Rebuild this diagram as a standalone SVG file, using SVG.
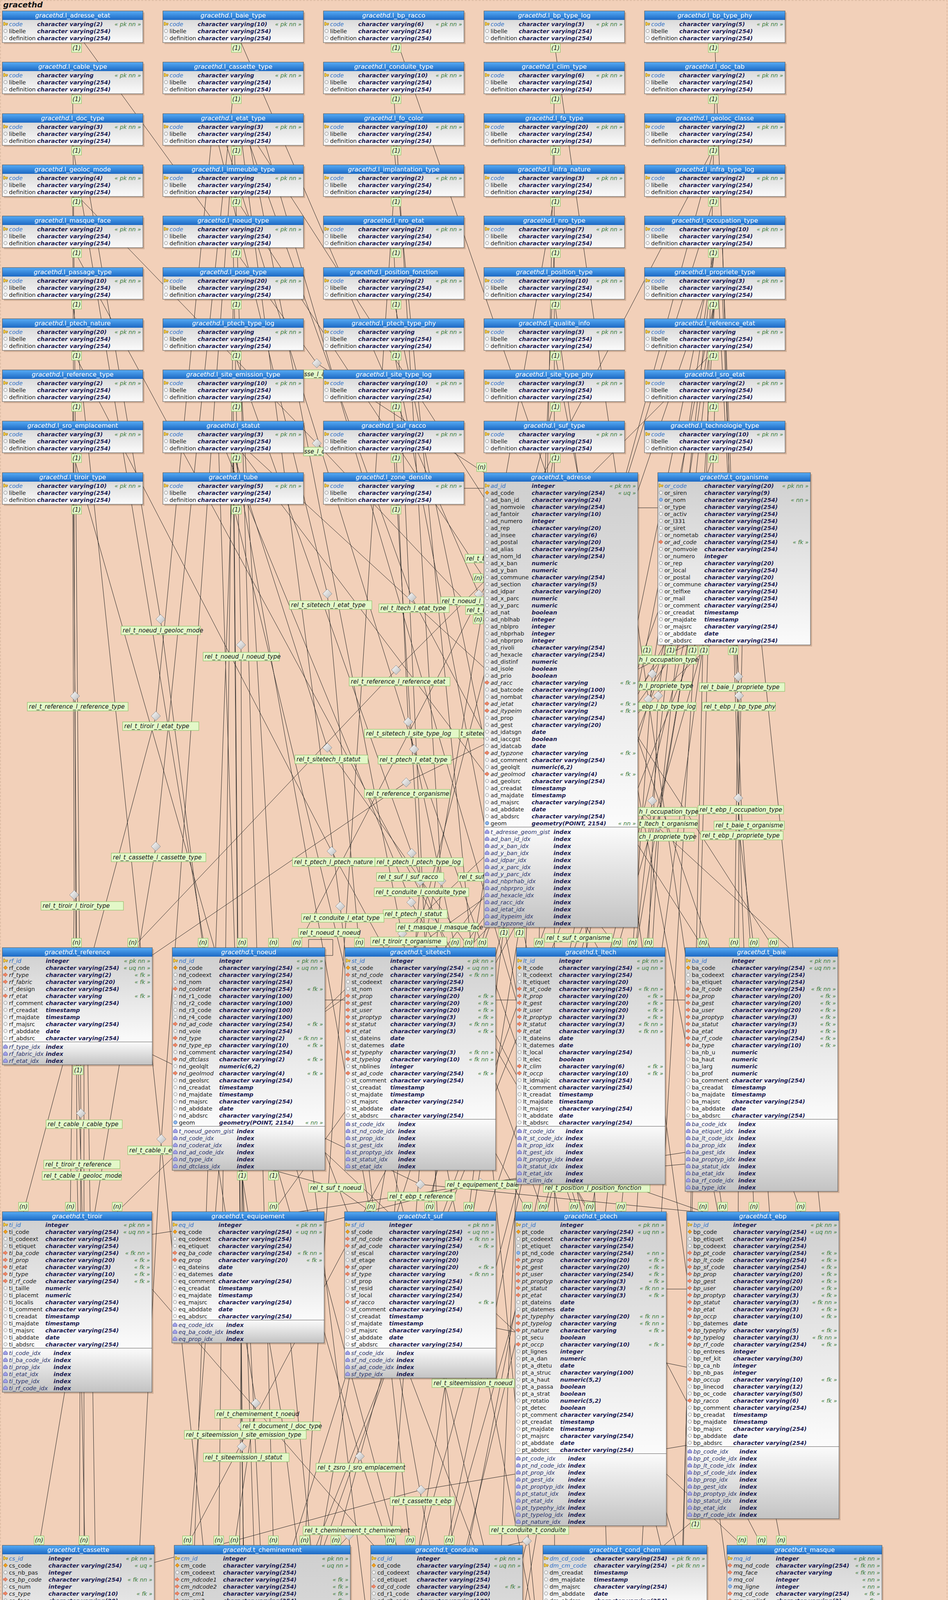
<svg xmlns="http://www.w3.org/2000/svg" width="2427" height="7299" viewBox="0 0 2427 7299">
<defs>
<style>
text{font-family:"DejaVu Sans","Liberation Sans",sans-serif;font-size:14.5px;fill:#151515}
.T{font-size:16px;fill:#fff;text-anchor:middle}
.s,.p,.f,.g,.x,.y,.L{font-style:italic}
.p{fill:#2b6cc4}
.y{font-weight:bold;fill:#1c1c52}
.g{fill:#3a7b3a;text-anchor:end}
.x{fill:#283068}
.L{font-size:15px}
.c{text-anchor:middle}
.sh{fill:#5a3a20;opacity:.22}
.bd{fill:url(#gb)}
.ix{fill:url(#gi)}
.hd{fill:url(#gh)}
.ol{fill:none;stroke:#4a4a4a}
.sp{fill:none;stroke:#5a5a5a}
#connectors path{fill:none;stroke:#202020;stroke-width:1}
.lb{fill:#e3f8c8;stroke:#7db95a}
</style>
<linearGradient id="gh" x2="0" y2="1"><stop offset="0" stop-color="#56abf5"/><stop offset="1" stop-color="#1c69c4"/></linearGradient>
<linearGradient id="gb" x2="0" y2="1"><stop offset="0" stop-color="#cecece"/><stop offset="1" stop-color="#fbfbfb"/></linearGradient>
<linearGradient id="gi" x2="0" y2="1"><stop offset="0" stop-color="#fbfbfb"/><stop offset="1" stop-color="#c3c3c3"/></linearGradient>
<linearGradient id="gd" x2="1" y2="1"><stop offset="0" stop-color="#fdfdfd"/><stop offset="1" stop-color="#b8b8b8"/></linearGradient>
<pattern id="po" patternUnits="userSpaceOnUse" y="24.3" width="16" height="18"><circle cx="8" cy="9" r="4.3" fill="#f6f6f6" stroke="#7a7a7a"/></pattern>
<pattern id="pi" patternUnits="userSpaceOnUse" y="10.3" width="16" height="18"><path d="M8 3.8l5 4.4v5.2h-10v-5.2z" fill="#a3a3ea" stroke="#4b4ba3"/></pattern>
<g id="k"><circle cx="8" r="5.6" fill="#dedede"/><path d="M3 -4.5h3l2 2.5h5.5v3.4h-1.6v2.1h-2v-2.1h-1.9l-2 2.6h-3z" fill="#f2c53e" stroke="#8a6a0e" stroke-width=".8"/></g>
<g id="u"><circle cx="8" r="5.6" fill="#dedede"/><path d="M8 -5.2l5.2 5.2l-5.2 5.2l-5.2-5.2z" fill="#f2a01c" stroke="#93580a" stroke-width=".8"/></g>
<g id="f"><circle cx="8" r="5.6" fill="#dedede"/><path d="M2.8 -2.2h4.4v-3.2l6 5.4l-6 5.4v-3.2h-4.4z" fill="#f28a66" stroke="#c1452a" stroke-width=".8"/></g>
<g id="n"><circle cx="8" r="5.6" fill="#dedede"/><circle cx="8" r="4.3" fill="#8cb6ee" stroke="#3c6cb0"/></g>
<circle id="o" cx="8" r="4.3" fill="#f6f6f6" stroke="#7a7a7a"/>
<g id="S"><rect class="sh" x="4" y="4" width="360" height="81"/><rect class="bd" width="360" height="81"/><rect class="hd" width="360" height="23"/><use href="#k" y="33.3"/><use href="#o" y="51.3"/><use href="#o" y="69.3"/><rect class="ol" width="360" height="81"/></g>
<path id="dm" d="M0 -12l12 12l-12 12l-12 -12z" fill="url(#gd)" stroke="#8a8a8a"/>
<rect id="b" x="-12.5" width="25" height="22" class="lb"/>
</defs>
<rect width="2427" height="7299" fill="#f2d0b9"/>
<rect x="1.5" y="1.5" width="2423" height="7295" fill="none" stroke="#c9a98f" stroke-dasharray="5 4"/>
<text x="8" y="19" style="font-size:20px;font-weight:bold;font-style:italic">gracethd</text>
<g id="connectors">
<path d="M215 109L811 930L1240 1210"/><path d="M200 503L811 1135L1239 1590"/><path d="M600 503L1239 1480"/><path d="M1188 1250H1239"/><path d="M1633 1300H1684"/>
<path d="M186 1028L192 1782L196 2426"/><path d="M1830 897L1014 1715L340 2426"/><path d="M1760 1651L1040 2003L390 2445"/><path d="M230 503L411 1585L520 2426"/><path d="M597 634L617 1651L620 2426"/><path d="M1830 372L760 2426"/><path d="M1239 2300L832 2590"/><path d="M790 2426V2405H852V2446H832"/><path d="M620 1028L700 2426"/>
<path d="M560 372L838 1520L920 2426"/><path d="M1008 1028L1045 1848L1165 2426"/><path d="M597 1159L838 1914L1200 2426"/><path d="M1419 1028L1060 2426"/><path d="M1800 766L1235 2426"/><path d="M1720 1651L1140 2426"/><path d="M832 2560H883"/><path d="M1250 2374L1200 2426"/>
<path d="M1269 2560H1322"/><path d="M1419 240L1380 2426"/><path d="M1830 634L1670 1725L1620 2426"/><path d="M1830 766L1685 1781L1660 2426"/><path d="M640 372L1054 1529L1530 2426"/><path d="M620 1159L1580 2426"/><path d="M1800 1651L1695 2426"/>
<path d="M1703 2560H1754"/><path d="M617 109L1226 1521L1800 2426"/><path d="M1840 766L1890 1732L1880 2426"/><path d="M1900 1651L1890 2110L1930 2426"/><path d="M660 372L1980 2426"/><path d="M640 1159L2020 2426"/>
<path d="M540 372L399 1833L60 3102"/><path d="M186 1291L190 2291L180 3102"/><path d="M200 2726L207 2979L210 3102"/><path d="M1820 1651L1030 2390L300 3102"/><path d="M1754 2950L389 3160"/><path d="M1754 2980L1230 3028L830 3130"/><path d="M1740 1651L700 3102"/>
<path d="M700 2996L860 3040L950 3102"/><path d="M1008 1159L1076 2256L1010 3102"/><path d="M1419 1159L1100 3102"/><path d="M1290 2374L1200 3102"/><path d="M1780 1651L1480 2400L1250 3102"/>
<path d="M186 897L849 2179L1350 3102"/><path d="M597 897L1054 2184L1390 3102"/><path d="M1008 897L1430 3102"/><path d="M580 372L1060 1918L1470 3102"/><path d="M580 1159L1053 2310L1510 3102"/><path d="M1830 634L1670 2050L1550 3102"/><path d="M1830 766L1685 2115L1590 3102"/><path d="M1760 1651L1690 2080L1630 3102"/>
<path d="M1706 3300H1758"/><path d="M1600 3032L1800 3102"/><path d="M1270 3400L1758 3500"/><path d="M1419 109L1660 1790L1850 3102"/><path d="M1830 109L1892 1781L1890 3102"/><path d="M1850 634L1890 2043L1930 3102"/><path d="M1850 766L1900 2120L1970 3102"/><path d="M390 2700L1076 3032L1780 3102"/><path d="M1018 109L2050 3102"/><path d="M1950 1651L2100 3102"/>
<path d="M597 240L399 2167L100 3956"/><path d="M1758 3700L1078 3814L395 4000"/><path d="M215 2726V3956"/><path d="M560 2996L655 3592L600 3956"/><path d="M870 3956L893 3931L897 3980"/><path d="M560 1159L650 3956"/><path d="M600 372L700 3956"/><path d="M1830 503L750 3956"/><path d="M1008 503L780 3956"/><path d="M1419 503L820 3956"/><path d="M597 766L560 3956"/><path d="M186 766L520 3956"/><path d="M1700 1651L480 3956"/><path d="M1830 372L860 3956"/>
<path d="M1008 240L1130 2255L1000 3956"/><path d="M620 372L871 2320L1050 3956"/><path d="M1300 3956L1349 3945L1338 3990"/><path d="M1800 1651L1150 3956"/><path d="M600 1159L1100 3956"/><path d="M1830 766L1200 3956"/><path d="M1338 4200L1410 4180L1500 4108"/><path d="M897 4300L1450 4108"/>
<path d="M832 2950L1900 3956"/><path d="M186 634L1110 2345L1950 3956"/><path d="M1338 4350L1602 4204L1861 4160"/><path d="M1419 897L2000 3956"/>
<path d="M186 240L207 2850L200 5046"/><path d="M597 372L413 2916L300 5046"/><path d="M186 503L197 2985L240 5046"/><path d="M1780 3888L420 5046"/><path d="M1720 1651L380 5046"/><path d="M1830 1159L440 5046"/><path d="M225 2726L260 5046"/>
<path d="M451 5120L540 5330L600 5198"/><path d="M1000 4670L700 5046"/><path d="M451 5250L688 5345L960 5150"/><path d="M800 2996L1050 5046"/><path d="M451 5350L902 5385L1387 5200"/><path d="M1419 372L1420 5046"/><path d="M1008 372L1460 5046"/><path d="M597 1291L1500 5046"/><path d="M640 372L1540 5046"/><path d="M1830 766L1580 5046"/>
<path d="M1773 5150H1824"/><path d="M1773 5250L1824 5280"/><path d="M395 4100L1110 4720L1850 5046"/><path d="M389 3300L1900 5046"/><path d="M1008 766L1470 3020L1950 5046"/><path d="M1419 766L2000 5046"/><path d="M680 372L2050 5046"/>
<path d="M1387 5470L891 5700L391 6030"/><path d="M597 1028L620 3650L640 6009"/><path d="M597 1159L619 3703L660 6009"/><path d="M620 2996L600 6009"/><path d="M1750 1651L700 6009"/><path d="M1330 2374L740 6009"/><path d="M1830 634L720 6009"/>
<path d="M700 2996L1000 6009"/><path d="M1419 634L1200 6009"/><path d="M1008 634L1250 6009"/><path d="M760 2996L1560 6009"/><path d="M186 1159L921 3728L1640 6009"/><path d="M1830 1028L1690 6009"/><path d="M1500 2374L1620 6009"/><path d="M832 2950L1410 4474L2080 6009"/><path d="M1894 6300H1945"/><path d="M1880 5544L2120 6009"/><path d="M1420 5490L1570 6009M1640 5490L1660 6009"/>
<path d="M560 2996L270 6720"/><path d="M1421 6560L951 6671L480 6893"/><path d="M1700 1651L330 6720"/><path d="M597 1159L400 6720"/><path d="M620 2996L800 6720"/><path d="M1760 1651L900 6720"/><path d="M757 6561V6720"/><path d="M898 6400L829 6720"/><path d="M186 372L720 3620L1100 6720"/><path d="M1446 6800H1497M1446 6830H1497"/><path d="M1830 240L1690 6720"/><path d="M1878 6880H1928"/>
<use href="#dm" x="811" y="930"/><use href="#dm" x="811" y="1135"/><use href="#dm" x="192" y="1782"/><use href="#dm" x="1014" y="1715"/><use href="#dm" x="1040" y="2003"/><use href="#dm" x="411" y="1585"/><use href="#dm" x="617" y="1651"/><use href="#dm" x="838" y="1520"/><use href="#dm" x="1045" y="1848"/><use href="#dm" x="838" y="1914"/><use href="#dm" x="1670" y="1725"/><use href="#dm" x="1685" y="1781"/><use href="#dm" x="1890" y="1732"/><use href="#dm" x="1890" y="2110"/><use href="#dm" x="399" y="1833"/><use href="#dm" x="190" y="2291"/><use href="#dm" x="207" y="2979"/><use href="#dm" x="1030" y="2390"/><use href="#dm" x="860" y="3040"/><use href="#dm" x="1076" y="2256"/><use href="#dm" x="1480" y="2400"/><use href="#dm" x="849" y="2179"/><use href="#dm" x="1054" y="2184"/><use href="#dm" x="1060" y="1918"/><use href="#dm" x="1053" y="2310"/><use href="#dm" x="1670" y="2050"/><use href="#dm" x="1685" y="2115"/><use href="#dm" x="1690" y="2080"/><use href="#dm" x="1660" y="1790"/><use href="#dm" x="1892" y="1781"/><use href="#dm" x="1890" y="2043"/><use href="#dm" x="1900" y="2120"/><use href="#dm" x="1076" y="3032"/><use href="#dm" x="399" y="2167"/><use href="#dm" x="1078" y="3814"/><use href="#dm" x="655" y="3592"/><use href="#dm" x="893" y="3931"/><use href="#dm" x="1130" y="2255"/><use href="#dm" x="871" y="2320"/><use href="#dm" x="1349" y="3945"/><use href="#dm" x="1410" y="4180"/><use href="#dm" x="1110" y="2345"/><use href="#dm" x="1602" y="4204"/><use href="#dm" x="207" y="2850"/><use href="#dm" x="413" y="2916"/><use href="#dm" x="197" y="2985"/><use href="#dm" x="540" y="5330"/><use href="#dm" x="688" y="5345"/><use href="#dm" x="902" y="5385"/><use href="#dm" x="1110" y="4720"/><use href="#dm" x="1470" y="3020"/><use href="#dm" x="891" y="5700"/><use href="#dm" x="620" y="3650"/><use href="#dm" x="619" y="3703"/><use href="#dm" x="921" y="3728"/><use href="#dm" x="1410" y="4474"/><use href="#dm" x="951" y="6671"/><use href="#dm" x="720" y="3620"/><use href="#dm" x="1230" y="3028"/><use href="#dm" x="1054" y="1529"/><use href="#dm" x="1226" y="1521"/>
<rect class="lb" x="777" y="947" width="51" height="22"/><rect class="lb" x="777" y="1145" width="51" height="22"/><rect class="lb" x="1191" y="1419" width="48" height="22"/><rect class="lb" x="1128" y="1528" width="111" height="22"/><rect class="lb" x="1192" y="1551" width="47" height="22"/><rect class="lb" x="970" y="1546" width="180" height="22"/><rect class="lb" x="70" y="1798" width="258" height="22"/><rect class="lb" x="894" y="1734" width="258" height="22"/><rect class="lb" x="933" y="2021" width="219" height="22"/><rect class="lb" x="310" y="1603" width="203" height="22"/><rect class="lb" x="520" y="1670" width="195" height="22"/><rect class="lb" x="764" y="2377" width="156" height="22"/><rect class="lb" x="741" y="1538" width="211" height="22"/><rect class="lb" x="933" y="1867" width="242" height="22"/><rect class="lb" x="1177" y="1867" width="62" height="22"/><rect class="lb" x="755" y="1933" width="187" height="22"/><rect class="lb" x="1633" y="1678" width="149" height="22"/><rect class="lb" x="1633" y="1745" width="137" height="22"/><rect class="lb" x="1790" y="1748" width="219" height="22"/><rect class="lb" x="1828" y="2102" width="180" height="22"/><rect class="lb" x="314" y="1848" width="195" height="22"/><rect class="lb" x="105" y="2308" width="211" height="22"/><rect class="lb" x="112" y="2970" width="195" height="22"/><rect class="lb" x="949" y="2399" width="195" height="22"/><rect class="lb" x="790" y="3030" width="141" height="22"/><rect class="lb" x="964" y="2234" width="172" height="22"/><rect class="lb" x="1173" y="2234" width="66" height="22"/><rect class="lb" x="1395" y="2390" width="172" height="22"/><rect class="lb" x="749" y="2196" width="211" height="22"/><rect class="lb" x="960" y="2196" width="226" height="22"/><rect class="lb" x="968" y="1934" width="187" height="22"/><rect class="lb" x="981" y="2329" width="164" height="22"/><rect class="lb" x="1633" y="2067" width="151" height="22"/><rect class="lb" x="1633" y="2131" width="144" height="22"/><rect class="lb" x="1633" y="2098" width="153" height="22"/><rect class="lb" x="1633" y="1798" width="149" height="22"/><rect class="lb" x="1798" y="1798" width="187" height="22"/><rect class="lb" x="1787" y="2062" width="219" height="22"/><rect class="lb" x="1794" y="2128" width="211" height="22"/><rect class="lb" x="993" y="3052" width="172" height="22"/><rect class="lb" x="1140" y="3022" width="187" height="22"/><rect class="lb" x="1106" y="3530" width="211" height="22"/><rect class="lb" x="285" y="2184" width="242" height="22"/><rect class="lb" x="999" y="3832" width="164" height="22"/><rect class="lb" x="550" y="3609" width="203" height="22"/><rect class="lb" x="776" y="3907" width="250" height="22"/><rect class="lb" x="958" y="2273" width="242" height="22"/><rect class="lb" x="772" y="2339" width="211" height="22"/><rect class="lb" x="1253" y="3906" width="203" height="22"/><rect class="lb" x="1338" y="4188" width="151" height="22"/><rect class="lb" x="1014" y="2363" width="211" height="22"/><rect class="lb" x="1509" y="4222" width="187" height="22"/><rect class="lb" x="118" y="2867" width="195" height="22"/><rect class="lb" x="327" y="2934" width="187" height="22"/><rect class="lb" x="108" y="2999" width="203" height="22"/><rect class="lb" x="383" y="5329" width="180" height="22"/><rect class="lb" x="622" y="5342" width="148" height="22"/><rect class="lb" x="836" y="5401" width="156" height="22"/><rect class="lb" x="1017" y="4731" width="203" height="22"/><rect class="lb" x="1391" y="3030" width="273" height="22"/><rect class="lb" x="825" y="5716" width="148" height="22"/><rect class="lb" x="472" y="3662" width="312" height="22"/><rect class="lb" x="521" y="3720" width="219" height="22"/><rect class="lb" x="809" y="3746" width="226" height="22"/><rect class="lb" x="1339" y="4492" width="148" height="22"/><rect class="lb" x="884" y="6688" width="141" height="22"/><rect class="lb" x="617" y="3640" width="203" height="22"/><rect class="lb" x="368" y="4875" width="78" height="22"/>
<text class="L"><tspan x="779" y="963">sse_l_a</tspan><tspan x="779" y="1161">sse_l_c</tspan><tspan x="1194" y="1435">rel_t_b</tspan><tspan x="1131" y="1544">rel_t_noeud_l_c</tspan><tspan x="1195" y="1567">rel_t_b</tspan><tspan x="974" y="1562">rel_t_ltech_l_etat_type</tspan><tspan x="74" y="1814">rel_t_reference_l_reference_type</tspan><tspan x="898" y="1750">rel_t_reference_l_reference_etat</tspan><tspan x="937" y="2037">rel_t_reference_t_organisme</tspan><tspan x="314" y="1619">rel_t_noeud_l_geoloc_mode</tspan><tspan x="524" y="1686">rel_t_noeud_l_noeud_type</tspan><tspan x="768" y="2393">rel_t_noeud_t_noeud</tspan><tspan x="745" y="1554">rel_t_sitetech_l_etat_type</tspan><tspan x="937" y="1883">rel_t_sitetech_l_site_type_log</tspan><tspan x="1179" y="1883">t_sitetec</tspan><tspan x="759" y="1949">rel_t_sitetech_l_statut</tspan><tspan x="1636" y="1694">h_l_occupation_type</tspan><tspan x="1636" y="1761">h_l_propriete_type</tspan><tspan x="1794" y="1764">rel_t_baie_l_propriete_type</tspan><tspan x="1832" y="2118">rel_t_baie_t_organisme</tspan><tspan x="318" y="1864">rel_t_tiroir_l_etat_type</tspan><tspan x="109" y="2324">rel_t_tiroir_l_tiroir_type</tspan><tspan x="116" y="2986">rel_t_tiroir_t_reference</tspan><tspan x="953" y="2415">rel_t_tiroir_t_organisme</tspan><tspan x="794" y="3046">rel_t_suf_t_noeud</tspan><tspan x="968" y="2250">rel_t_suf_l_suf_racco</tspan><tspan x="1176" y="2250">rel_t_suf</tspan><tspan x="1399" y="2406">rel_t_suf_t_organisme</tspan><tspan x="753" y="2212">rel_t_ptech_l_ptech_nature</tspan><tspan x="964" y="2212">rel_t_ptech_l_ptech_type_log</tspan><tspan x="972" y="1950">rel_t_ptech_l_etat_type</tspan><tspan x="985" y="2345">rel_t_ptech_l_statut</tspan><tspan x="1636" y="2083">h_l_occupation_type</tspan><tspan x="1636" y="2147">ch_l_propriete_type</tspan><tspan x="1636" y="2114">t_ltech_t_organisme</tspan><tspan x="1636" y="1814">_ebp_l_bp_type_log</tspan><tspan x="1802" y="1814">rel_t_ebp_l_bp_type_phy</tspan><tspan x="1791" y="2078">rel_t_ebp_l_occupation_type</tspan><tspan x="1798" y="2144">rel_t_ebp_l_propriete_type</tspan><tspan x="997" y="3068">rel_t_ebp_t_reference</tspan><tspan x="1144" y="3038">rel_t_equipement_t_baie</tspan><tspan x="1110" y="3546">rel_t_siteemission_t_noeud</tspan><tspan x="289" y="2200">rel_t_cassette_l_cassette_type</tspan><tspan x="1003" y="3848">rel_t_cassette_t_ebp</tspan><tspan x="554" y="3625">rel_t_cheminement_t_noeud</tspan><tspan x="780" y="3923">rel_t_cheminement_t_cheminement</tspan><tspan x="962" y="2289">rel_t_conduite_l_conduite_type</tspan><tspan x="776" y="2355">rel_t_conduite_l_etat_type</tspan><tspan x="1257" y="3922">rel_t_conduite_t_conduite</tspan><tspan x="1341" y="4204">em_t_conduite</tspan><tspan x="1018" y="2379">rel_t_masque_l_masque_face</tspan><tspan x="1513" y="4238">rel_t_masque_t_conduite</tspan><tspan x="122" y="2883">rel_t_cable_l_cable_type</tspan><tspan x="331" y="2950">rel_t_cable_l_etat_type</tspan><tspan x="112" y="3015">rel_t_cable_l_geoloc_mode</tspan><tspan x="387" y="5345">rel_t_cab_cond_t_cable</tspan><tspan x="626" y="5358">rel_t_love_t_cable</tspan><tspan x="840" y="5417">rel_t_fibre_t_cable</tspan><tspan x="1021" y="4747">rel_t_position_t_cassette</tspan><tspan x="1395" y="3046">rel_t_position_l_position_fonction</tspan><tspan x="829" y="5732">rel_t_ropt_t_fibre</tspan><tspan x="476" y="3678">rel_t_siteemission_l_site_emission_type</tspan><tspan x="525" y="3736">rel_t_siteemission_l_statut</tspan><tspan x="813" y="3762">rel_t_zsro_l_sro_emplacement</tspan><tspan x="1343" y="4508">rel_t_zpbo_t_noeud</tspan><tspan x="888" y="6704">rel_t_zdep_t_zsro</tspan><tspan x="621" y="3656">rel_t_document_l_doc_type</tspan><tspan x="371" y="4891">rel_t_zdep_</tspan></text>
<use href="#b" x="196" y="112"/><use href="#b" x="605" y="112"/><use href="#b" x="1014" y="112"/><use href="#b" x="1422" y="112"/><use href="#b" x="1826" y="112"/><use href="#b" x="196" y="243"/><use href="#b" x="605" y="243"/><use href="#b" x="1014" y="243"/><use href="#b" x="1422" y="243"/><use href="#b" x="1826" y="243"/><use href="#b" x="196" y="375"/><use href="#b" x="605" y="375"/><use href="#b" x="1014" y="375"/><use href="#b" x="1422" y="375"/><use href="#b" x="1826" y="375"/><use href="#b" x="196" y="506"/><use href="#b" x="605" y="506"/><use href="#b" x="1014" y="506"/><use href="#b" x="1422" y="506"/><use href="#b" x="1826" y="506"/><use href="#b" x="196" y="637"/><use href="#b" x="605" y="637"/><use href="#b" x="1014" y="637"/><use href="#b" x="1422" y="637"/><use href="#b" x="1826" y="637"/><use href="#b" x="196" y="769"/><use href="#b" x="605" y="769"/><use href="#b" x="1014" y="769"/><use href="#b" x="1422" y="769"/><use href="#b" x="1826" y="769"/><use href="#b" x="196" y="900"/><use href="#b" x="605" y="900"/><use href="#b" x="1014" y="900"/><use href="#b" x="1422" y="900"/><use href="#b" x="1826" y="900"/><use href="#b" x="196" y="1031"/><use href="#b" x="605" y="1031"/><use href="#b" x="1014" y="1031"/><use href="#b" x="1422" y="1031"/><use href="#b" x="1826" y="1031"/><use href="#b" x="196" y="1162"/><use href="#b" x="605" y="1162"/><use href="#b" x="1014" y="1162"/><use href="#b" x="1422" y="1162"/><use href="#b" x="1826" y="1162"/><use href="#b" x="196" y="1294"/><use href="#b" x="605" y="1294"/><use href="#b" x="1014" y="1294"/><use href="#b" x="1656" y="1654"/><use href="#b" x="1717" y="1654"/><use href="#b" x="1773" y="1654"/><use href="#b" x="1802" y="1654"/><use href="#b" x="1877" y="1654"/><use href="#b" x="200" y="2729"/><use href="#b" x="620" y="2999"/><use href="#b" x="700" y="2999"/><use href="#b" x="1290" y="2377"/><use href="#b" x="1330" y="2377"/><use href="#b" x="1780" y="3891"/><use href="#b" x="1420" y="5493"/><use href="#b" x="1000" y="4673"/>
<use href="#b" x="1233" y="1185"/><use href="#b" x="1224" y="1469"/><use href="#b" x="1224" y="1575"/><use href="#b" x="196" y="2402"/><use href="#b" x="340" y="2402"/><use href="#b" x="520" y="2402"/><use href="#b" x="620" y="2402"/><use href="#b" x="700" y="2402"/><use href="#b" x="760" y="2402"/><use href="#b" x="920" y="2402"/><use href="#b" x="1165" y="2402"/><use href="#b" x="1200" y="2402"/><use href="#b" x="1235" y="2402"/><use href="#b" x="1380" y="2402"/><use href="#b" x="1580" y="2402"/><use href="#b" x="1620" y="2402"/><use href="#b" x="1660" y="2402"/><use href="#b" x="1800" y="2402"/><use href="#b" x="1880" y="2402"/><use href="#b" x="1930" y="2402"/><use href="#b" x="1980" y="2402"/><use href="#b" x="60" y="3078"/><use href="#b" x="180" y="3078"/><use href="#b" x="300" y="3078"/><use href="#b" x="700" y="3078"/><use href="#b" x="950" y="3078"/><use href="#b" x="1100" y="3078"/><use href="#b" x="1200" y="3078"/><use href="#b" x="1350" y="3078"/><use href="#b" x="1390" y="3078"/><use href="#b" x="1470" y="3078"/><use href="#b" x="1510" y="3078"/><use href="#b" x="1590" y="3078"/><use href="#b" x="1800" y="3078"/><use href="#b" x="1850" y="3078"/><use href="#b" x="1930" y="3078"/><use href="#b" x="2050" y="3078"/><use href="#b" x="100" y="3932"/><use href="#b" x="215" y="3932"/><use href="#b" x="480" y="3932"/><use href="#b" x="560" y="3932"/><use href="#b" x="600" y="3932"/><use href="#b" x="700" y="3932"/><use href="#b" x="780" y="3932"/><use href="#b" x="860" y="3932"/><use href="#b" x="1000" y="3932"/><use href="#b" x="1050" y="3932"/><use href="#b" x="1150" y="3932"/><use href="#b" x="1900" y="3932"/><use href="#b" x="1950" y="3932"/><use href="#b" x="2000" y="3932"/><use href="#b" x="200" y="5022"/><use href="#b" x="260" y="5022"/><use href="#b" x="300" y="5022"/><use href="#b" x="420" y="5022"/><use href="#b" x="700" y="5022"/><use href="#b" x="1050" y="5022"/><use href="#b" x="1420" y="5022"/><use href="#b" x="1460" y="5022"/><use href="#b" x="1540" y="5022"/><use href="#b" x="1850" y="5022"/><use href="#b" x="1900" y="5022"/><use href="#b" x="1950" y="5022"/><use href="#b" x="2050" y="5022"/><use href="#b" x="600" y="5985"/><use href="#b" x="660" y="5985"/><use href="#b" x="720" y="5985"/><use href="#b" x="1000" y="5985"/><use href="#b" x="1200" y="5985"/><use href="#b" x="1250" y="5985"/><use href="#b" x="1560" y="5985"/><use href="#b" x="1620" y="5985"/><use href="#b" x="1690" y="5985"/><use href="#b" x="2080" y="5985"/><use href="#b" x="2120" y="5985"/><use href="#b" x="270" y="6696"/><use href="#b" x="330" y="6696"/><use href="#b" x="400" y="6696"/><use href="#b" x="760" y="6696"/><use href="#b" x="829" y="6696"/><use href="#b" x="1100" y="6696"/><use href="#b" x="1690" y="6696"/><use href="#b" x="1915" y="6860"/><use href="#b" x="1475" y="6780"/>
<text class="L c"><tspan x="196" y="128">(1)</tspan><tspan x="605" y="128">(1)</tspan><tspan x="1014" y="128">(1)</tspan><tspan x="1422" y="128">(1)</tspan><tspan x="1826" y="128">(1)</tspan><tspan x="196" y="259">(1)</tspan><tspan x="605" y="259">(1)</tspan><tspan x="1014" y="259">(1)</tspan><tspan x="1422" y="259">(1)</tspan><tspan x="1826" y="259">(1)</tspan><tspan x="196" y="391">(1)</tspan><tspan x="605" y="391">(1)</tspan><tspan x="1014" y="391">(1)</tspan><tspan x="1422" y="391">(1)</tspan><tspan x="1826" y="391">(1)</tspan><tspan x="196" y="522">(1)</tspan><tspan x="605" y="522">(1)</tspan><tspan x="1014" y="522">(1)</tspan><tspan x="1422" y="522">(1)</tspan><tspan x="1826" y="522">(1)</tspan><tspan x="196" y="653">(1)</tspan><tspan x="605" y="653">(1)</tspan><tspan x="1014" y="653">(1)</tspan><tspan x="1422" y="653">(1)</tspan><tspan x="1826" y="653">(1)</tspan><tspan x="196" y="785">(1)</tspan><tspan x="605" y="785">(1)</tspan><tspan x="1014" y="785">(1)</tspan><tspan x="1422" y="785">(1)</tspan><tspan x="1826" y="785">(1)</tspan><tspan x="196" y="916">(1)</tspan><tspan x="605" y="916">(1)</tspan><tspan x="1014" y="916">(1)</tspan><tspan x="1422" y="916">(1)</tspan><tspan x="1826" y="916">(1)</tspan><tspan x="196" y="1047">(1)</tspan><tspan x="605" y="1047">(1)</tspan><tspan x="1014" y="1047">(1)</tspan><tspan x="1422" y="1047">(1)</tspan><tspan x="1826" y="1047">(1)</tspan><tspan x="196" y="1178">(1)</tspan><tspan x="605" y="1178">(1)</tspan><tspan x="1014" y="1178">(1)</tspan><tspan x="1422" y="1178">(1)</tspan><tspan x="1826" y="1178">(1)</tspan><tspan x="196" y="1310">(1)</tspan><tspan x="605" y="1310">(1)</tspan><tspan x="1014" y="1310">(1)</tspan><tspan x="1656" y="1670">(1)</tspan><tspan x="1717" y="1670">(1)</tspan><tspan x="1773" y="1670">(1)</tspan><tspan x="1802" y="1670">(1)</tspan><tspan x="1877" y="1670">(1)</tspan><tspan x="200" y="2745">(1)</tspan><tspan x="620" y="3015">(1)</tspan><tspan x="700" y="3015">(1)</tspan><tspan x="1290" y="2393">(1)</tspan><tspan x="1330" y="2393">(1)</tspan><tspan x="1780" y="3907">(1)</tspan><tspan x="1420" y="5509">(1)</tspan><tspan x="1000" y="4689">(1)</tspan>
<tspan x="1233" y="1201">(n)</tspan><tspan x="1224" y="1485">(n)</tspan><tspan x="1224" y="1591">(n)</tspan><tspan x="196" y="2418">(n)</tspan><tspan x="340" y="2418">(n)</tspan><tspan x="520" y="2418">(n)</tspan><tspan x="620" y="2418">(n)</tspan><tspan x="700" y="2418">(n)</tspan><tspan x="760" y="2418">(n)</tspan><tspan x="920" y="2418">(n)</tspan><tspan x="1165" y="2418">(n)</tspan><tspan x="1200" y="2418">(n)</tspan><tspan x="1235" y="2418">(n)</tspan><tspan x="1380" y="2418">(n)</tspan><tspan x="1580" y="2418">(n)</tspan><tspan x="1620" y="2418">(n)</tspan><tspan x="1660" y="2418">(n)</tspan><tspan x="1800" y="2418">(n)</tspan><tspan x="1880" y="2418">(n)</tspan><tspan x="1930" y="2418">(n)</tspan><tspan x="1980" y="2418">(n)</tspan><tspan x="60" y="3094">(n)</tspan><tspan x="180" y="3094">(n)</tspan><tspan x="300" y="3094">(n)</tspan><tspan x="700" y="3094">(n)</tspan><tspan x="950" y="3094">(n)</tspan><tspan x="1100" y="3094">(n)</tspan><tspan x="1200" y="3094">(n)</tspan><tspan x="1350" y="3094">(n)</tspan><tspan x="1390" y="3094">(n)</tspan><tspan x="1470" y="3094">(n)</tspan><tspan x="1510" y="3094">(n)</tspan><tspan x="1590" y="3094">(n)</tspan><tspan x="1800" y="3094">(n)</tspan><tspan x="1850" y="3094">(n)</tspan><tspan x="1930" y="3094">(n)</tspan><tspan x="2050" y="3094">(n)</tspan><tspan x="100" y="3948">(n)</tspan><tspan x="215" y="3948">(n)</tspan><tspan x="480" y="3948">(n)</tspan><tspan x="560" y="3948">(n)</tspan><tspan x="600" y="3948">(n)</tspan><tspan x="700" y="3948">(n)</tspan><tspan x="780" y="3948">(n)</tspan><tspan x="860" y="3948">(n)</tspan><tspan x="1000" y="3948">(n)</tspan><tspan x="1050" y="3948">(n)</tspan><tspan x="1150" y="3948">(n)</tspan><tspan x="1900" y="3948">(n)</tspan><tspan x="1950" y="3948">(n)</tspan><tspan x="2000" y="3948">(n)</tspan><tspan x="200" y="5038">(n)</tspan><tspan x="260" y="5038">(n)</tspan><tspan x="300" y="5038">(n)</tspan><tspan x="420" y="5038">(n)</tspan><tspan x="700" y="5038">(n)</tspan><tspan x="1050" y="5038">(n)</tspan><tspan x="1420" y="5038">(n)</tspan><tspan x="1460" y="5038">(n)</tspan><tspan x="1540" y="5038">(n)</tspan><tspan x="1850" y="5038">(n)</tspan><tspan x="1900" y="5038">(n)</tspan><tspan x="1950" y="5038">(n)</tspan><tspan x="2050" y="5038">(n)</tspan><tspan x="600" y="6001">(n)</tspan><tspan x="660" y="6001">(n)</tspan><tspan x="720" y="6001">(n)</tspan><tspan x="1000" y="6001">(n)</tspan><tspan x="1200" y="6001">(n)</tspan><tspan x="1250" y="6001">(n)</tspan><tspan x="1560" y="6001">(n)</tspan><tspan x="1620" y="6001">(n)</tspan><tspan x="1690" y="6001">(n)</tspan><tspan x="2080" y="6001">(n)</tspan><tspan x="2120" y="6001">(n)</tspan><tspan x="270" y="6712">(n)</tspan><tspan x="330" y="6712">(n)</tspan><tspan x="400" y="6712">(n)</tspan><tspan x="760" y="6712">(n)</tspan><tspan x="829" y="6712">(n)</tspan><tspan x="1100" y="6712">(n)</tspan><tspan x="1690" y="6712">(n)</tspan><tspan x="1915" y="6876">(n)</tspan><tspan x="1475" y="6796">(1)</tspan></text>
</g>
<g id="l_adresse_etat" transform="translate(6,28)"><use href="#S"/><text class="T" x="180" y="17"><tspan class="s">gracethd.</tspan>l_adresse_etat</text><text><tspan class="p" x="17" y="38.5">code</tspan><tspan x="17" dy="18">libelle</tspan><tspan x="17" dy="18">definition</tspan></text><text class="y"><tspan x="89" y="38.5">character varying(2)</tspan><tspan x="89" dy="18">character varying(254)</tspan><tspan x="89" dy="18">character varying(254)</tspan></text><text class="g" x="355" y="38.5">« pk nn »</text></g>
<g id="l_baie_type" transform="translate(417,28)"><use href="#S"/><text class="T" x="180" y="17"><tspan class="s">gracethd.</tspan>l_baie_type</text><text><tspan class="p" x="17" y="38.5">code</tspan><tspan x="17" dy="18">libelle</tspan><tspan x="17" dy="18">definition</tspan></text><text class="y"><tspan x="89" y="38.5">character varying(10)</tspan><tspan x="89" dy="18">character varying(254)</tspan><tspan x="89" dy="18">character varying(254)</tspan></text><text class="g" x="355" y="38.5">« pk nn »</text></g>
<g id="l_bp_racco" transform="translate(828,28)"><use href="#S"/><text class="T" x="180" y="17"><tspan class="s">gracethd.</tspan>l_bp_racco</text><text><tspan class="p" x="17" y="38.5">code</tspan><tspan x="17" dy="18">libelle</tspan><tspan x="17" dy="18">definition</tspan></text><text class="y"><tspan x="89" y="38.5">character varying(6)</tspan><tspan x="89" dy="18">character varying(254)</tspan><tspan x="89" dy="18">character varying(254)</tspan></text><text class="g" x="355" y="38.5">« pk nn »</text></g>
<g id="l_bp_type_log" transform="translate(1239,28)"><use href="#S"/><text class="T" x="180" y="17"><tspan class="s">gracethd.</tspan>l_bp_type_log</text><text><tspan class="p" x="17" y="38.5">code</tspan><tspan x="17" dy="18">libelle</tspan><tspan x="17" dy="18">definition</tspan></text><text class="y"><tspan x="89" y="38.5">character varying(3)</tspan><tspan x="89" dy="18">character varying(254)</tspan><tspan x="89" dy="18">character varying(254)</tspan></text><text class="g" x="355" y="38.5">« pk nn »</text></g>
<g id="l_bp_type_phy" transform="translate(1650,28)"><use href="#S"/><text class="T" x="180" y="17"><tspan class="s">gracethd.</tspan>l_bp_type_phy</text><text><tspan class="p" x="17" y="38.5">code</tspan><tspan x="17" dy="18">libelle</tspan><tspan x="17" dy="18">definition</tspan></text><text class="y"><tspan x="89" y="38.5">character varying(5)</tspan><tspan x="89" dy="18">character varying(254)</tspan><tspan x="89" dy="18">character varying(254)</tspan></text><text class="g" x="355" y="38.5">« pk nn »</text></g>
<g id="l_cable_type" transform="translate(6,159)"><use href="#S"/><text class="T" x="180" y="17"><tspan class="s">gracethd.</tspan>l_cable_type</text><text><tspan class="p" x="17" y="38.5">code</tspan><tspan x="17" dy="18">libelle</tspan><tspan x="17" dy="18">definition</tspan></text><text class="y"><tspan x="89" y="38.5">character varying</tspan><tspan x="89" dy="18">character varying(254)</tspan><tspan x="89" dy="18">character varying(254)</tspan></text><text class="g" x="355" y="38.5">« pk nn »</text></g>
<g id="l_cassette_type" transform="translate(417,159)"><use href="#S"/><text class="T" x="180" y="17"><tspan class="s">gracethd.</tspan>l_cassette_type</text><text><tspan class="p" x="17" y="38.5">code</tspan><tspan x="17" dy="18">libelle</tspan><tspan x="17" dy="18">definition</tspan></text><text class="y"><tspan x="89" y="38.5">character varying</tspan><tspan x="89" dy="18">character varying(254)</tspan><tspan x="89" dy="18">character varying(254)</tspan></text><text class="g" x="355" y="38.5">« pk nn »</text></g>
<g id="l_conduite_type" transform="translate(828,159)"><use href="#S"/><text class="T" x="180" y="17"><tspan class="s">gracethd.</tspan>l_conduite_type</text><text><tspan class="p" x="17" y="38.5">code</tspan><tspan x="17" dy="18">libelle</tspan><tspan x="17" dy="18">definition</tspan></text><text class="y"><tspan x="89" y="38.5">character varying(10)</tspan><tspan x="89" dy="18">character varying(254)</tspan><tspan x="89" dy="18">character varying(254)</tspan></text><text class="g" x="355" y="38.5">« pk nn »</text></g>
<g id="l_clim_type" transform="translate(1239,159)"><use href="#S"/><text class="T" x="180" y="17"><tspan class="s">gracethd.</tspan>l_clim_type</text><text><tspan class="p" x="17" y="38.5">code</tspan><tspan x="17" dy="18">libelle</tspan><tspan x="17" dy="18">definition</tspan></text><text class="y"><tspan x="89" y="38.5">character varying(6)</tspan><tspan x="89" dy="18">character varying(254)</tspan><tspan x="89" dy="18">character varying(254)</tspan></text><text class="g" x="355" y="38.5">« pk nn »</text></g>
<g id="l_doc_tab" transform="translate(1650,159)"><use href="#S"/><text class="T" x="180" y="17"><tspan class="s">gracethd.</tspan>l_doc_tab</text><text><tspan class="p" x="17" y="38.5">code</tspan><tspan x="17" dy="18">libelle</tspan><tspan x="17" dy="18">definition</tspan></text><text class="y"><tspan x="89" y="38.5">character varying(2)</tspan><tspan x="89" dy="18">character varying(254)</tspan><tspan x="89" dy="18">character varying(254)</tspan></text><text class="g" x="355" y="38.5">« pk nn »</text></g>
<g id="l_doc_type" transform="translate(6,291)"><use href="#S"/><text class="T" x="180" y="17"><tspan class="s">gracethd.</tspan>l_doc_type</text><text><tspan class="p" x="17" y="38.5">code</tspan><tspan x="17" dy="18">libelle</tspan><tspan x="17" dy="18">definition</tspan></text><text class="y"><tspan x="89" y="38.5">character varying(3)</tspan><tspan x="89" dy="18">character varying(254)</tspan><tspan x="89" dy="18">character varying(254)</tspan></text><text class="g" x="355" y="38.5">« pk nn »</text></g>
<g id="l_etat_type" transform="translate(417,291)"><use href="#S"/><text class="T" x="180" y="17"><tspan class="s">gracethd.</tspan>l_etat_type</text><text><tspan class="p" x="17" y="38.5">code</tspan><tspan x="17" dy="18">libelle</tspan><tspan x="17" dy="18">definition</tspan></text><text class="y"><tspan x="89" y="38.5">character varying(3)</tspan><tspan x="89" dy="18">character varying(254)</tspan><tspan x="89" dy="18">character varying(254)</tspan></text><text class="g" x="355" y="38.5">« pk nn »</text></g>
<g id="l_fo_color" transform="translate(828,291)"><use href="#S"/><text class="T" x="180" y="17"><tspan class="s">gracethd.</tspan>l_fo_color</text><text><tspan class="p" x="17" y="38.5">code</tspan><tspan x="17" dy="18">libelle</tspan><tspan x="17" dy="18">definition</tspan></text><text class="y"><tspan x="89" y="38.5">character varying(10)</tspan><tspan x="89" dy="18">character varying(254)</tspan><tspan x="89" dy="18">character varying(254)</tspan></text><text class="g" x="355" y="38.5">« pk nn »</text></g>
<g id="l_fo_type" transform="translate(1239,291)"><use href="#S"/><text class="T" x="180" y="17"><tspan class="s">gracethd.</tspan>l_fo_type</text><text><tspan class="p" x="17" y="38.5">code</tspan><tspan x="17" dy="18">libelle</tspan><tspan x="17" dy="18">definition</tspan></text><text class="y"><tspan x="89" y="38.5">character varying(20)</tspan><tspan x="89" dy="18">character varying(254)</tspan><tspan x="89" dy="18">character varying(254)</tspan></text><text class="g" x="355" y="38.5">« pk nn »</text></g>
<g id="l_geoloc_classe" transform="translate(1650,291)"><use href="#S"/><text class="T" x="180" y="17"><tspan class="s">gracethd.</tspan>l_geoloc_classe</text><text><tspan class="p" x="17" y="38.5">code</tspan><tspan x="17" dy="18">libelle</tspan><tspan x="17" dy="18">definition</tspan></text><text class="y"><tspan x="89" y="38.5">character varying(2)</tspan><tspan x="89" dy="18">character varying(254)</tspan><tspan x="89" dy="18">character varying(254)</tspan></text><text class="g" x="355" y="38.5">« pk nn »</text></g>
<g id="l_geoloc_mode" transform="translate(6,422)"><use href="#S"/><text class="T" x="180" y="17"><tspan class="s">gracethd.</tspan>l_geoloc_mode</text><text><tspan class="p" x="17" y="38.5">code</tspan><tspan x="17" dy="18">libelle</tspan><tspan x="17" dy="18">definition</tspan></text><text class="y"><tspan x="89" y="38.5">character varying(4)</tspan><tspan x="89" dy="18">character varying(254)</tspan><tspan x="89" dy="18">character varying(254)</tspan></text><text class="g" x="355" y="38.5">« pk nn »</text></g>
<g id="l_immeuble_type" transform="translate(417,422)"><use href="#S"/><text class="T" x="180" y="17"><tspan class="s">gracethd.</tspan>l_immeuble_type</text><text><tspan class="p" x="17" y="38.5">code</tspan><tspan x="17" dy="18">libelle</tspan><tspan x="17" dy="18">definition</tspan></text><text class="y"><tspan x="89" y="38.5">character varying</tspan><tspan x="89" dy="18">character varying(254)</tspan><tspan x="89" dy="18">character varying(254)</tspan></text><text class="g" x="355" y="38.5">« pk nn »</text></g>
<g id="l_implantation_type" transform="translate(828,422)"><use href="#S"/><text class="T" x="180" y="17"><tspan class="s">gracethd.</tspan>l_implantation_type</text><text><tspan class="p" x="17" y="38.5">code</tspan><tspan x="17" dy="18">libelle</tspan><tspan x="17" dy="18">definition</tspan></text><text class="y"><tspan x="89" y="38.5">character varying(2)</tspan><tspan x="89" dy="18">character varying(254)</tspan><tspan x="89" dy="18">character varying(254)</tspan></text><text class="g" x="355" y="38.5">« pk nn »</text></g>
<g id="l_infra_nature" transform="translate(1239,422)"><use href="#S"/><text class="T" x="180" y="17"><tspan class="s">gracethd.</tspan>l_infra_nature</text><text><tspan class="p" x="17" y="38.5">code</tspan><tspan x="17" dy="18">libelle</tspan><tspan x="17" dy="18">definition</tspan></text><text class="y"><tspan x="89" y="38.5">character varying(3)</tspan><tspan x="89" dy="18">character varying(254)</tspan><tspan x="89" dy="18">character varying(254)</tspan></text><text class="g" x="355" y="38.5">« pk nn »</text></g>
<g id="l_infra_type_log" transform="translate(1650,422)"><use href="#S"/><text class="T" x="180" y="17"><tspan class="s">gracethd.</tspan>l_infra_type_log</text><text><tspan class="p" x="17" y="38.5">code</tspan><tspan x="17" dy="18">libelle</tspan><tspan x="17" dy="18">definition</tspan></text><text class="y"><tspan x="89" y="38.5">character varying(2)</tspan><tspan x="89" dy="18">character varying(254)</tspan><tspan x="89" dy="18">character varying(254)</tspan></text><text class="g" x="355" y="38.5">« pk nn »</text></g>
<g id="l_masque_face" transform="translate(6,553)"><use href="#S"/><text class="T" x="180" y="17"><tspan class="s">gracethd.</tspan>l_masque_face</text><text><tspan class="p" x="17" y="38.5">code</tspan><tspan x="17" dy="18">libelle</tspan><tspan x="17" dy="18">definition</tspan></text><text class="y"><tspan x="89" y="38.5">character varying(2)</tspan><tspan x="89" dy="18">character varying(254)</tspan><tspan x="89" dy="18">character varying(254)</tspan></text><text class="g" x="355" y="38.5">« pk nn »</text></g>
<g id="l_noeud_type" transform="translate(417,553)"><use href="#S"/><text class="T" x="180" y="17"><tspan class="s">gracethd.</tspan>l_noeud_type</text><text><tspan class="p" x="17" y="38.5">code</tspan><tspan x="17" dy="18">libelle</tspan><tspan x="17" dy="18">definition</tspan></text><text class="y"><tspan x="89" y="38.5">character varying(2)</tspan><tspan x="89" dy="18">character varying(254)</tspan><tspan x="89" dy="18">character varying(254)</tspan></text><text class="g" x="355" y="38.5">« pk nn »</text></g>
<g id="l_nro_etat" transform="translate(828,553)"><use href="#S"/><text class="T" x="180" y="17"><tspan class="s">gracethd.</tspan>l_nro_etat</text><text><tspan class="p" x="17" y="38.5">code</tspan><tspan x="17" dy="18">libelle</tspan><tspan x="17" dy="18">definition</tspan></text><text class="y"><tspan x="89" y="38.5">character varying(2)</tspan><tspan x="89" dy="18">character varying(254)</tspan><tspan x="89" dy="18">character varying(254)</tspan></text><text class="g" x="355" y="38.5">« pk nn »</text></g>
<g id="l_nro_type" transform="translate(1239,553)"><use href="#S"/><text class="T" x="180" y="17"><tspan class="s">gracethd.</tspan>l_nro_type</text><text><tspan class="p" x="17" y="38.5">code</tspan><tspan x="17" dy="18">libelle</tspan><tspan x="17" dy="18">definition</tspan></text><text class="y"><tspan x="89" y="38.5">character varying(7)</tspan><tspan x="89" dy="18">character varying(254)</tspan><tspan x="89" dy="18">character varying(254)</tspan></text><text class="g" x="355" y="38.5">« pk nn »</text></g>
<g id="l_occupation_type" transform="translate(1650,553)"><use href="#S"/><text class="T" x="180" y="17"><tspan class="s">gracethd.</tspan>l_occupation_type</text><text><tspan class="p" x="17" y="38.5">code</tspan><tspan x="17" dy="18">libelle</tspan><tspan x="17" dy="18">definition</tspan></text><text class="y"><tspan x="89" y="38.5">character varying(10)</tspan><tspan x="89" dy="18">character varying(254)</tspan><tspan x="89" dy="18">character varying(254)</tspan></text><text class="g" x="355" y="38.5">« pk nn »</text></g>
<g id="l_passage_type" transform="translate(6,685)"><use href="#S"/><text class="T" x="180" y="17"><tspan class="s">gracethd.</tspan>l_passage_type</text><text><tspan class="p" x="17" y="38.5">code</tspan><tspan x="17" dy="18">libelle</tspan><tspan x="17" dy="18">definition</tspan></text><text class="y"><tspan x="89" y="38.5">character varying(10)</tspan><tspan x="89" dy="18">character varying(254)</tspan><tspan x="89" dy="18">character varying(254)</tspan></text><text class="g" x="355" y="38.5">« pk nn »</text></g>
<g id="l_pose_type" transform="translate(417,685)"><use href="#S"/><text class="T" x="180" y="17"><tspan class="s">gracethd.</tspan>l_pose_type</text><text><tspan class="p" x="17" y="38.5">code</tspan><tspan x="17" dy="18">libelle</tspan><tspan x="17" dy="18">definition</tspan></text><text class="y"><tspan x="89" y="38.5">character varying(20)</tspan><tspan x="89" dy="18">character varying(254)</tspan><tspan x="89" dy="18">character varying(254)</tspan></text><text class="g" x="355" y="38.5">« pk nn »</text></g>
<g id="l_position_fonction" transform="translate(828,685)"><use href="#S"/><text class="T" x="180" y="17"><tspan class="s">gracethd.</tspan>l_position_fonction</text><text><tspan class="p" x="17" y="38.5">code</tspan><tspan x="17" dy="18">libelle</tspan><tspan x="17" dy="18">definition</tspan></text><text class="y"><tspan x="89" y="38.5">character varying(2)</tspan><tspan x="89" dy="18">character varying(254)</tspan><tspan x="89" dy="18">character varying(254)</tspan></text><text class="g" x="355" y="38.5">« pk nn »</text></g>
<g id="l_position_type" transform="translate(1239,685)"><use href="#S"/><text class="T" x="180" y="17"><tspan class="s">gracethd.</tspan>l_position_type</text><text><tspan class="p" x="17" y="38.5">code</tspan><tspan x="17" dy="18">libelle</tspan><tspan x="17" dy="18">definition</tspan></text><text class="y"><tspan x="89" y="38.5">character varying(10)</tspan><tspan x="89" dy="18">character varying(254)</tspan><tspan x="89" dy="18">character varying(254)</tspan></text><text class="g" x="355" y="38.5">« pk nn »</text></g>
<g id="l_propriete_type" transform="translate(1650,685)"><use href="#S"/><text class="T" x="180" y="17"><tspan class="s">gracethd.</tspan>l_propriete_type</text><text><tspan class="p" x="17" y="38.5">code</tspan><tspan x="17" dy="18">libelle</tspan><tspan x="17" dy="18">definition</tspan></text><text class="y"><tspan x="89" y="38.5">character varying(3)</tspan><tspan x="89" dy="18">character varying(254)</tspan><tspan x="89" dy="18">character varying(254)</tspan></text><text class="g" x="355" y="38.5">« pk nn »</text></g>
<g id="l_ptech_nature" transform="translate(6,816)"><use href="#S"/><text class="T" x="180" y="17"><tspan class="s">gracethd.</tspan>l_ptech_nature</text><text><tspan class="p" x="17" y="38.5">code</tspan><tspan x="17" dy="18">libelle</tspan><tspan x="17" dy="18">definition</tspan></text><text class="y"><tspan x="89" y="38.5">character varying(20)</tspan><tspan x="89" dy="18">character varying(254)</tspan><tspan x="89" dy="18">character varying(254)</tspan></text><text class="g" x="355" y="38.5">« pk nn »</text></g>
<g id="l_ptech_type_log" transform="translate(417,816)"><use href="#S"/><text class="T" x="180" y="17"><tspan class="s">gracethd.</tspan>l_ptech_type_log</text><text><tspan class="p" x="17" y="38.5">code</tspan><tspan x="17" dy="18">libelle</tspan><tspan x="17" dy="18">definition</tspan></text><text class="y"><tspan x="89" y="38.5">character varying</tspan><tspan x="89" dy="18">character varying(254)</tspan><tspan x="89" dy="18">character varying(254)</tspan></text><text class="g" x="355" y="38.5">« pk nn »</text></g>
<g id="l_ptech_type_phy" transform="translate(828,816)"><use href="#S"/><text class="T" x="180" y="17"><tspan class="s">gracethd.</tspan>l_ptech_type_phy</text><text><tspan class="p" x="17" y="38.5">code</tspan><tspan x="17" dy="18">libelle</tspan><tspan x="17" dy="18">definition</tspan></text><text class="y"><tspan x="89" y="38.5">character varying</tspan><tspan x="89" dy="18">character varying(254)</tspan><tspan x="89" dy="18">character varying(254)</tspan></text><text class="g" x="355" y="38.5">« pk nn »</text></g>
<g id="l_qualite_info" transform="translate(1239,816)"><use href="#S"/><text class="T" x="180" y="17"><tspan class="s">gracethd.</tspan>l_qualite_info</text><text><tspan class="p" x="17" y="38.5">code</tspan><tspan x="17" dy="18">libelle</tspan><tspan x="17" dy="18">definition</tspan></text><text class="y"><tspan x="89" y="38.5">character varying(3)</tspan><tspan x="89" dy="18">character varying(254)</tspan><tspan x="89" dy="18">character varying(254)</tspan></text><text class="g" x="355" y="38.5">« pk nn »</text></g>
<g id="l_reference_etat" transform="translate(1650,816)"><use href="#S"/><text class="T" x="180" y="17"><tspan class="s">gracethd.</tspan>l_reference_etat</text><text><tspan class="p" x="17" y="38.5">code</tspan><tspan x="17" dy="18">libelle</tspan><tspan x="17" dy="18">definition</tspan></text><text class="y"><tspan x="89" y="38.5">character varying</tspan><tspan x="89" dy="18">character varying(254)</tspan><tspan x="89" dy="18">character varying(254)</tspan></text><text class="g" x="355" y="38.5">« pk nn »</text></g>
<g id="l_reference_type" transform="translate(6,947)"><use href="#S"/><text class="T" x="180" y="17"><tspan class="s">gracethd.</tspan>l_reference_type</text><text><tspan class="p" x="17" y="38.5">code</tspan><tspan x="17" dy="18">libelle</tspan><tspan x="17" dy="18">definition</tspan></text><text class="y"><tspan x="89" y="38.5">character varying(2)</tspan><tspan x="89" dy="18">character varying(254)</tspan><tspan x="89" dy="18">character varying(254)</tspan></text><text class="g" x="355" y="38.5">« pk nn »</text></g>
<g id="l_site_emission_type" transform="translate(417,947)"><use href="#S"/><text class="T" x="180" y="17"><tspan class="s">gracethd.</tspan>l_site_emission_type</text><text><tspan class="p" x="17" y="38.5">code</tspan><tspan x="17" dy="18">libelle</tspan><tspan x="17" dy="18">definition</tspan></text><text class="y"><tspan x="89" y="38.5">character varying(10)</tspan><tspan x="89" dy="18">character varying(254)</tspan><tspan x="89" dy="18">character varying(254)</tspan></text><text class="g" x="355" y="38.5">« pk nn »</text></g>
<g id="l_site_type_log" transform="translate(828,947)"><use href="#S"/><text class="T" x="180" y="17"><tspan class="s">gracethd.</tspan>l_site_type_log</text><text><tspan class="p" x="17" y="38.5">code</tspan><tspan x="17" dy="18">libelle</tspan><tspan x="17" dy="18">definition</tspan></text><text class="y"><tspan x="89" y="38.5">character varying(10)</tspan><tspan x="89" dy="18">character varying(254)</tspan><tspan x="89" dy="18">character varying(254)</tspan></text><text class="g" x="355" y="38.5">« pk nn »</text></g>
<g id="l_site_type_phy" transform="translate(1239,947)"><use href="#S"/><text class="T" x="180" y="17"><tspan class="s">gracethd.</tspan>l_site_type_phy</text><text><tspan class="p" x="17" y="38.5">code</tspan><tspan x="17" dy="18">libelle</tspan><tspan x="17" dy="18">definition</tspan></text><text class="y"><tspan x="89" y="38.5">character varying(3)</tspan><tspan x="89" dy="18">character varying(254)</tspan><tspan x="89" dy="18">character varying(254)</tspan></text><text class="g" x="355" y="38.5">« pk nn »</text></g>
<g id="l_sro_etat" transform="translate(1650,947)"><use href="#S"/><text class="T" x="180" y="17"><tspan class="s">gracethd.</tspan>l_sro_etat</text><text><tspan class="p" x="17" y="38.5">code</tspan><tspan x="17" dy="18">libelle</tspan><tspan x="17" dy="18">definition</tspan></text><text class="y"><tspan x="89" y="38.5">character varying(2)</tspan><tspan x="89" dy="18">character varying(254)</tspan><tspan x="89" dy="18">character varying(254)</tspan></text><text class="g" x="355" y="38.5">« pk nn »</text></g>
<g id="l_sro_emplacement" transform="translate(6,1078)"><use href="#S"/><text class="T" x="180" y="17"><tspan class="s">gracethd.</tspan>l_sro_emplacement</text><text><tspan class="p" x="17" y="38.5">code</tspan><tspan x="17" dy="18">libelle</tspan><tspan x="17" dy="18">definition</tspan></text><text class="y"><tspan x="89" y="38.5">character varying(3)</tspan><tspan x="89" dy="18">character varying(254)</tspan><tspan x="89" dy="18">character varying(254)</tspan></text><text class="g" x="355" y="38.5">« pk nn »</text></g>
<g id="l_statut" transform="translate(417,1078)"><use href="#S"/><text class="T" x="180" y="17"><tspan class="s">gracethd.</tspan>l_statut</text><text><tspan class="p" x="17" y="38.5">code</tspan><tspan x="17" dy="18">libelle</tspan><tspan x="17" dy="18">definition</tspan></text><text class="y"><tspan x="89" y="38.5">character varying(3)</tspan><tspan x="89" dy="18">character varying(254)</tspan><tspan x="89" dy="18">character varying(254)</tspan></text><text class="g" x="355" y="38.5">« pk nn »</text></g>
<g id="l_suf_racco" transform="translate(828,1078)"><use href="#S"/><text class="T" x="180" y="17"><tspan class="s">gracethd.</tspan>l_suf_racco</text><text><tspan class="p" x="17" y="38.5">code</tspan><tspan x="17" dy="18">libelle</tspan><tspan x="17" dy="18">definition</tspan></text><text class="y"><tspan x="89" y="38.5">character varying(2)</tspan><tspan x="89" dy="18">character varying(254)</tspan><tspan x="89" dy="18">character varying(254)</tspan></text><text class="g" x="355" y="38.5">« pk nn »</text></g>
<g id="l_suf_type" transform="translate(1239,1078)"><use href="#S"/><text class="T" x="180" y="17"><tspan class="s">gracethd.</tspan>l_suf_type</text><text><tspan class="p" x="17" y="38.5">code</tspan><tspan x="17" dy="18">libelle</tspan><tspan x="17" dy="18">definition</tspan></text><text class="y"><tspan x="89" y="38.5">character varying</tspan><tspan x="89" dy="18">character varying(254)</tspan><tspan x="89" dy="18">character varying(254)</tspan></text><text class="g" x="355" y="38.5">« pk nn »</text></g>
<g id="l_technologie_type" transform="translate(1650,1078)"><use href="#S"/><text class="T" x="180" y="17"><tspan class="s">gracethd.</tspan>l_technologie_type</text><text><tspan class="p" x="17" y="38.5">code</tspan><tspan x="17" dy="18">libelle</tspan><tspan x="17" dy="18">definition</tspan></text><text class="y"><tspan x="89" y="38.5">character varying(10)</tspan><tspan x="89" dy="18">character varying(254)</tspan><tspan x="89" dy="18">character varying(254)</tspan></text><text class="g" x="355" y="38.5">« pk nn »</text></g>
<g id="l_tiroir_type" transform="translate(6,1210)"><use href="#S"/><text class="T" x="180" y="17"><tspan class="s">gracethd.</tspan>l_tiroir_type</text><text><tspan class="p" x="17" y="38.5">code</tspan><tspan x="17" dy="18">libelle</tspan><tspan x="17" dy="18">definition</tspan></text><text class="y"><tspan x="89" y="38.5">character varying(10)</tspan><tspan x="89" dy="18">character varying(254)</tspan><tspan x="89" dy="18">character varying(254)</tspan></text><text class="g" x="355" y="38.5">« pk nn »</text></g>
<g id="l_tube" transform="translate(417,1210)"><use href="#S"/><text class="T" x="180" y="17"><tspan class="s">gracethd.</tspan>l_tube</text><text><tspan class="p" x="17" y="38.5">code</tspan><tspan x="17" dy="18">libelle</tspan><tspan x="17" dy="18">definition</tspan></text><text class="y"><tspan x="89" y="38.5">character varying(5)</tspan><tspan x="89" dy="18">character varying(254)</tspan><tspan x="89" dy="18">character varying(254)</tspan></text><text class="g" x="355" y="38.5">« pk nn »</text></g>
<g id="l_zone_densite" transform="translate(828,1210)"><use href="#S"/><text class="T" x="180" y="17"><tspan class="s">gracethd.</tspan>l_zone_densite</text><text><tspan class="p" x="17" y="38.5">code</tspan><tspan x="17" dy="18">libelle</tspan><tspan x="17" dy="18">definition</tspan></text><text class="y"><tspan x="89" y="38.5">character varying</tspan><tspan x="89" dy="18">character varying(254)</tspan><tspan x="89" dy="18">character varying(254)</tspan></text><text class="g" x="355" y="38.5">« pk nn »</text></g>
<g id="t_adresse" transform="translate(1239,1210)"><rect class="sh" x="4" y="4" width="394" height="1164"/><rect class="bd" width="394" height="907.3"/><rect class="ix" y="907.3" width="394" height="256.7"/><rect class="hd" width="394" height="23"/><rect fill="url(#po)" y="24.3" width="16" height="882"/><rect fill="url(#pi)" y="910.3" width="16" height="252"/><use href="#k" y="33.3"/><use href="#u" y="51.3"/><use href="#f" y="537.3"/><use href="#f" y="591.3"/><use href="#f" y="609.3"/><use href="#f" y="717.3"/><use href="#f" y="771.3"/><use href="#n" y="897.3"/><path class="sp" d="M0 907.3h394"/><rect class="ol" width="394" height="1164"/><text class="T" x="197" y="17"><tspan class="s">gracethd.</tspan>t_adresse</text>
<text><tspan class="p" x="17" y="38.5">ad_id</tspan><tspan x="17" dy="18">ad_code</tspan><tspan x="17" dy="18">ad_ban_id</tspan><tspan x="17" dy="18">ad_nomvoie</tspan><tspan x="17" dy="18">ad_fantoir</tspan><tspan x="17" dy="18">ad_numero</tspan><tspan x="17" dy="18">ad_rep</tspan><tspan x="17" dy="18">ad_insee</tspan><tspan x="17" dy="18">ad_postal</tspan><tspan x="17" dy="18">ad_alias</tspan><tspan x="17" dy="18">ad_nom_ld</tspan><tspan x="17" dy="18">ad_x_ban</tspan><tspan x="17" dy="18">ad_y_ban</tspan><tspan x="17" dy="18">ad_commune</tspan><tspan x="17" dy="18">ad_section</tspan><tspan x="17" dy="18">ad_idpar</tspan><tspan x="17" dy="18">ad_x_parc</tspan><tspan x="17" dy="18">ad_y_parc</tspan><tspan x="17" dy="18">ad_nat</tspan><tspan x="17" dy="18">ad_nblhab</tspan><tspan x="17" dy="18">ad_nblpro</tspan><tspan x="17" dy="18">ad_nbprhab</tspan><tspan x="17" dy="18">ad_nbprpro</tspan><tspan x="17" dy="18">ad_rivoli</tspan><tspan x="17" dy="18">ad_hexacle</tspan><tspan x="17" dy="18">ad_distinf</tspan><tspan x="17" dy="18">ad_isole</tspan><tspan x="17" dy="18">ad_prio</tspan><tspan class="f" x="17" dy="18">ad_racc</tspan><tspan x="17" dy="18">ad_batcode</tspan><tspan x="17" dy="18">ad_nombat</tspan><tspan class="f" x="17" dy="18">ad_ietat</tspan><tspan class="f" x="17" dy="18">ad_itypeim</tspan><tspan x="17" dy="18">ad_prop</tspan><tspan x="17" dy="18">ad_gest</tspan><tspan x="17" dy="18">ad_idatsgn</tspan><tspan x="17" dy="18">ad_iaccgst</tspan><tspan x="17" dy="18">ad_idatcab</tspan><tspan class="f" x="17" dy="18">ad_typzone</tspan><tspan x="17" dy="18">ad_comment</tspan><tspan x="17" dy="18">ad_geolqlt</tspan><tspan class="f" x="17" dy="18">ad_geolmod</tspan><tspan x="17" dy="18">ad_geolsrc</tspan><tspan x="17" dy="18">ad_creadat</tspan><tspan x="17" dy="18">ad_majdate</tspan><tspan x="17" dy="18">ad_majsrc</tspan><tspan x="17" dy="18">ad_abddate</tspan><tspan x="17" dy="18">ad_abdsrc</tspan><tspan x="17" dy="18">geom</tspan></text>
<text class="y"><tspan x="122" y="38.5">integer</tspan><tspan x="122" dy="18">character varying(254)</tspan><tspan x="122" dy="18">character varying(24)</tspan><tspan x="122" dy="18">character varying(254)</tspan><tspan x="122" dy="18">character varying(10)</tspan><tspan x="122" dy="18">integer</tspan><tspan x="122" dy="18">character varying(20)</tspan><tspan x="122" dy="18">character varying(6)</tspan><tspan x="122" dy="18">character varying(20)</tspan><tspan x="122" dy="18">character varying(254)</tspan><tspan x="122" dy="18">character varying(254)</tspan><tspan x="122" dy="18">numeric</tspan><tspan x="122" dy="18">numeric</tspan><tspan x="122" dy="18">character varying(254)</tspan><tspan x="122" dy="18">character varying(5)</tspan><tspan x="122" dy="18">character varying(20)</tspan><tspan x="122" dy="18">numeric</tspan><tspan x="122" dy="18">numeric</tspan><tspan x="122" dy="18">boolean</tspan><tspan x="122" dy="18">integer</tspan><tspan x="122" dy="18">integer</tspan><tspan x="122" dy="18">integer</tspan><tspan x="122" dy="18">integer</tspan><tspan x="122" dy="18">character varying(254)</tspan><tspan x="122" dy="18">character varying(254)</tspan><tspan x="122" dy="18">numeric</tspan><tspan x="122" dy="18">boolean</tspan><tspan x="122" dy="18">boolean</tspan><tspan x="122" dy="18">character varying</tspan><tspan x="122" dy="18">character varying(100)</tspan><tspan x="122" dy="18">character varying(254)</tspan><tspan x="122" dy="18">character varying(2)</tspan><tspan x="122" dy="18">character varying</tspan><tspan x="122" dy="18">character varying(254)</tspan><tspan x="122" dy="18">character varying(20)</tspan><tspan x="122" dy="18">date</tspan><tspan x="122" dy="18">boolean</tspan><tspan x="122" dy="18">date</tspan><tspan x="122" dy="18">character varying</tspan><tspan x="122" dy="18">character varying(254)</tspan><tspan x="122" dy="18">numeric(6,2)</tspan><tspan x="122" dy="18">character varying(4)</tspan><tspan x="122" dy="18">character varying(254)</tspan><tspan x="122" dy="18">timestamp</tspan><tspan x="122" dy="18">timestamp</tspan><tspan x="122" dy="18">character varying(254)</tspan><tspan x="122" dy="18">date</tspan><tspan x="122" dy="18">character varying(254)</tspan><tspan x="122" dy="18">geometry(POINT, 2154)</tspan></text>
<text class="g"><tspan x="389" y="38.5">« pk nn »</tspan><tspan x="389" y="56.5">« uq »</tspan><tspan x="389" y="542.5">« fk »</tspan><tspan x="389" y="596.5">« fk »</tspan><tspan x="389" y="614.5">« fk »</tspan><tspan x="389" y="722.5">« fk »</tspan><tspan x="389" y="776.5">« fk »</tspan><tspan x="389" y="902.5">« nn »</tspan></text>
<text class="x"><tspan x="17" y="924.5">t_adresse_geom_gist</tspan><tspan x="17" dy="18">ad_ban_id_idx</tspan><tspan x="17" dy="18">ad_x_ban_idx</tspan><tspan x="17" dy="18">ad_y_ban_idx</tspan><tspan x="17" dy="18">ad_idpar_idx</tspan><tspan x="17" dy="18">ad_x_parc_idx</tspan><tspan x="17" dy="18">ad_y_parc_idx</tspan><tspan x="17" dy="18">ad_nbprhab_idx</tspan><tspan x="17" dy="18">ad_nbprpro_idx</tspan><tspan x="17" dy="18">ad_hexacle_idx</tspan><tspan x="17" dy="18">ad_racc_idx</tspan><tspan x="17" dy="18">ad_ietat_idx</tspan><tspan x="17" dy="18">ad_itypeim_idx</tspan><tspan x="17" dy="18">ad_typzone_idx</tspan></text>
<text class="y"><tspan x="178" y="924.5">index</tspan><tspan x="178" dy="18">index</tspan><tspan x="178" dy="18">index</tspan><tspan x="178" dy="18">index</tspan><tspan x="178" dy="18">index</tspan><tspan x="178" dy="18">index</tspan><tspan x="178" dy="18">index</tspan><tspan x="178" dy="18">index</tspan><tspan x="178" dy="18">index</tspan><tspan x="178" dy="18">index</tspan><tspan x="178" dy="18">index</tspan><tspan x="178" dy="18">index</tspan><tspan x="178" dy="18">index</tspan><tspan x="178" dy="18">index</tspan></text></g>
<g id="t_organisme" transform="translate(1684,1210)"><rect class="sh" x="4" y="4" width="391" height="441"/><rect class="bd" width="391" height="441"/><rect class="hd" width="391" height="23"/><rect fill="url(#po)" y="24.3" width="16" height="414"/><use href="#k" y="33.3"/><use href="#n" y="69.3"/><use href="#f" y="177.3"/><rect class="ol" width="391" height="441"/><text class="T" x="195.5" y="17"><tspan class="s">gracethd.</tspan>t_organisme</text>
<text><tspan class="p" x="17" y="38.5">or_code</tspan><tspan x="17" dy="18">or_siren</tspan><tspan x="17" dy="18">or_nom</tspan><tspan x="17" dy="18">or_type</tspan><tspan x="17" dy="18">or_activ</tspan><tspan x="17" dy="18">or_l331</tspan><tspan x="17" dy="18">or_siret</tspan><tspan x="17" dy="18">or_nometab</tspan><tspan class="f" x="17" dy="18">or_ad_code</tspan><tspan x="17" dy="18">or_nomvoie</tspan><tspan x="17" dy="18">or_numero</tspan><tspan x="17" dy="18">or_rep</tspan><tspan x="17" dy="18">or_local</tspan><tspan x="17" dy="18">or_postal</tspan><tspan x="17" dy="18">or_commune</tspan><tspan x="17" dy="18">or_telfixe</tspan><tspan x="17" dy="18">or_mail</tspan><tspan x="17" dy="18">or_comment</tspan><tspan x="17" dy="18">or_creadat</tspan><tspan x="17" dy="18">or_majdate</tspan><tspan x="17" dy="18">or_majsrc</tspan><tspan x="17" dy="18">or_abddate</tspan><tspan x="17" dy="18">or_abdsrc</tspan></text>
<text class="y"><tspan x="119" y="38.5">character varying(20)</tspan><tspan x="119" dy="18">character varying(9)</tspan><tspan x="119" dy="18">character varying(254)</tspan><tspan x="119" dy="18">character varying(254)</tspan><tspan x="119" dy="18">character varying(254)</tspan><tspan x="119" dy="18">character varying(254)</tspan><tspan x="119" dy="18">character varying(254)</tspan><tspan x="119" dy="18">character varying(254)</tspan><tspan x="119" dy="18">character varying(254)</tspan><tspan x="119" dy="18">character varying(254)</tspan><tspan x="119" dy="18">integer</tspan><tspan x="119" dy="18">character varying(20)</tspan><tspan x="119" dy="18">character varying(254)</tspan><tspan x="119" dy="18">character varying(20)</tspan><tspan x="119" dy="18">character varying(254)</tspan><tspan x="119" dy="18">character varying(254)</tspan><tspan x="119" dy="18">character varying(254)</tspan><tspan x="119" dy="18">character varying(254)</tspan><tspan x="119" dy="18">timestamp</tspan><tspan x="119" dy="18">timestamp</tspan><tspan x="119" dy="18">character varying(254)</tspan><tspan x="119" dy="18">date</tspan><tspan x="119" dy="18">character varying(254)</tspan></text>
<text class="g"><tspan x="386" y="38.5">« pk nn »</tspan><tspan x="386" y="74.5">« nn »</tspan><tspan x="386" y="182.5">« fk »</tspan></text></g>
<g id="t_reference" transform="translate(6,2426)"><rect class="sh" x="4" y="4" width="384" height="300"/><rect class="bd" width="384" height="241.3"/><rect class="ix" y="241.3" width="384" height="58.7"/><rect class="hd" width="384" height="23"/><rect fill="url(#po)" y="24.3" width="16" height="216"/><rect fill="url(#pi)" y="244.3" width="16" height="54"/><use href="#k" y="33.3"/><use href="#u" y="51.3"/><use href="#f" y="69.3"/><use href="#f" y="87.3"/><use href="#f" y="123.3"/><path class="sp" d="M0 241.3h384"/><rect class="ol" width="384" height="300"/><text class="T" x="192" y="17"><tspan class="s">gracethd.</tspan>t_reference</text>
<text><tspan class="p" x="17" y="38.5">rf_id</tspan><tspan x="17" dy="18">rf_code</tspan><tspan class="f" x="17" dy="18">rf_type</tspan><tspan class="f" x="17" dy="18">rf_fabric</tspan><tspan x="17" dy="18">rf_design</tspan><tspan class="f" x="17" dy="18">rf_etat</tspan><tspan x="17" dy="18">rf_comment</tspan><tspan x="17" dy="18">rf_creadat</tspan><tspan x="17" dy="18">rf_majdate</tspan><tspan x="17" dy="18">rf_majsrc</tspan><tspan x="17" dy="18">rf_abddate</tspan><tspan x="17" dy="18">rf_abdsrc</tspan></text>
<text class="y"><tspan x="111" y="38.5">integer</tspan><tspan x="111" dy="18">character varying(254)</tspan><tspan x="111" dy="18">character varying(2)</tspan><tspan x="111" dy="18">character varying(20)</tspan><tspan x="111" dy="18">character varying(254)</tspan><tspan x="111" dy="18">character varying</tspan><tspan x="111" dy="18">character varying(254)</tspan><tspan x="111" dy="18">timestamp</tspan><tspan x="111" dy="18">timestamp</tspan><tspan x="111" dy="18">character varying(254)</tspan><tspan x="111" dy="18">date</tspan><tspan x="111" dy="18">character varying(254)</tspan></text>
<text class="g"><tspan x="379" y="38.5">« pk nn »</tspan><tspan x="379" y="56.5">« uq nn »</tspan><tspan x="379" y="74.5">« fk »</tspan><tspan x="379" y="92.5">« fk »</tspan><tspan x="379" y="128.5">« fk »</tspan></text>
<text class="x"><tspan x="17" y="258.5">rf_type_idx</tspan><tspan x="17" dy="18">rf_fabric_idx</tspan><tspan x="17" dy="18">rf_etat_idx</tspan></text><text class="y"><tspan x="111" y="258.5">index</tspan><tspan x="111" dy="18">index</tspan><tspan x="111" dy="18">index</tspan></text></g>
<g id="t_noeud" transform="translate(441,2426)"><rect class="sh" x="4" y="4" width="391" height="570"/><rect class="bd" width="391" height="457.3"/><rect class="ix" y="457.3" width="391" height="112.7"/><rect class="hd" width="391" height="23"/><rect fill="url(#po)" y="24.3" width="16" height="432"/><rect fill="url(#pi)" y="460.3" width="16" height="108"/><use href="#k" y="33.3"/><use href="#u" y="51.3"/><use href="#f" y="105.3"/><use href="#f" y="195.3"/><use href="#f" y="231.3"/><use href="#f" y="249.3"/><use href="#f" y="285.3"/><use href="#f" y="321.3"/><use href="#n" y="447.3"/><path class="sp" d="M0 457.3h391"/><rect class="ol" width="391" height="570"/><text class="T" x="195.5" y="17"><tspan class="s">gracethd.</tspan>t_noeud</text>
<text><tspan class="p" x="17" y="38.5">nd_id</tspan><tspan x="17" dy="18">nd_code</tspan><tspan x="17" dy="18">nd_codeext</tspan><tspan x="17" dy="18">nd_nom</tspan><tspan class="f" x="17" dy="18">nd_coderat</tspan><tspan x="17" dy="18">nd_r1_code</tspan><tspan x="17" dy="18">nd_r2_code</tspan><tspan x="17" dy="18">nd_r3_code</tspan><tspan x="17" dy="18">nd_r4_code</tspan><tspan class="f" x="17" dy="18">nd_ad_code</tspan><tspan x="17" dy="18">nd_voie</tspan><tspan class="f" x="17" dy="18">nd_type</tspan><tspan class="f" x="17" dy="18">nd_type_ep</tspan><tspan x="17" dy="18">nd_comment</tspan><tspan class="f" x="17" dy="18">nd_dtclass</tspan><tspan x="17" dy="18">nd_geolqlt</tspan><tspan class="f" x="17" dy="18">nd_geolmod</tspan><tspan x="17" dy="18">nd_geolsrc</tspan><tspan x="17" dy="18">nd_creadat</tspan><tspan x="17" dy="18">nd_majdate</tspan><tspan x="17" dy="18">nd_majsrc</tspan><tspan x="17" dy="18">nd_abddate</tspan><tspan x="17" dy="18">nd_abdsrc</tspan><tspan x="17" dy="18">geom</tspan></text>
<text class="y"><tspan x="120" y="38.5">integer</tspan><tspan x="120" dy="18">character varying(254)</tspan><tspan x="120" dy="18">character varying(254)</tspan><tspan x="120" dy="18">character varying(254)</tspan><tspan x="120" dy="18">character varying(254)</tspan><tspan x="120" dy="18">character varying(100)</tspan><tspan x="120" dy="18">character varying(100)</tspan><tspan x="120" dy="18">character varying(100)</tspan><tspan x="120" dy="18">character varying(100)</tspan><tspan x="120" dy="18">character varying(254)</tspan><tspan x="120" dy="18">character varying(254)</tspan><tspan x="120" dy="18">character varying(2)</tspan><tspan x="120" dy="18">character varying(10)</tspan><tspan x="120" dy="18">character varying(254)</tspan><tspan x="120" dy="18">character varying(2)</tspan><tspan x="120" dy="18">numeric(6,2)</tspan><tspan x="120" dy="18">character varying(4)</tspan><tspan x="120" dy="18">character varying(254)</tspan><tspan x="120" dy="18">timestamp</tspan><tspan x="120" dy="18">timestamp</tspan><tspan x="120" dy="18">character varying(254)</tspan><tspan x="120" dy="18">date</tspan><tspan x="120" dy="18">character varying(254)</tspan><tspan x="120" dy="18">geometry(POINT, 2154)</tspan></text>
<text class="g"><tspan x="386" y="38.5">« pk nn »</tspan><tspan x="386" y="56.5">« uq nn »</tspan><tspan x="386" y="110.5">« fk »</tspan><tspan x="386" y="200.5">« fk »</tspan><tspan x="386" y="236.5">« fk nn »</tspan><tspan x="386" y="254.5">« fk »</tspan><tspan x="386" y="290.5">« fk »</tspan><tspan x="386" y="326.5">« fk »</tspan><tspan x="386" y="452.5">« nn »</tspan></text>
<text class="x"><tspan x="17" y="474.5">t_noeud_geom_gist</tspan><tspan x="17" dy="18">nd_code_idx</tspan><tspan x="17" dy="18">nd_coderat_idx</tspan><tspan x="17" dy="18">nd_ad_code_idx</tspan><tspan x="17" dy="18">nd_type_idx</tspan><tspan x="17" dy="18">nd_dtclass_idx</tspan></text><text class="y"><tspan x="165" y="474.5">index</tspan><tspan x="165" dy="18">index</tspan><tspan x="165" dy="18">index</tspan><tspan x="165" dy="18">index</tspan><tspan x="165" dy="18">index</tspan><tspan x="165" dy="18">index</tspan></text></g>
<g id="t_sitetech" transform="translate(883,2426)"><rect class="sh" x="4" y="4" width="386" height="570"/><rect class="bd" width="386" height="439.3"/><rect class="ix" y="439.3" width="386" height="130.7"/><rect class="hd" width="386" height="23"/><rect fill="url(#po)" y="24.3" width="16" height="414"/><rect fill="url(#pi)" y="442.3" width="16" height="126"/><use href="#k" y="33.3"/><use href="#u" y="51.3"/><use href="#f" y="69.3"/><use href="#f" y="123.3"/><use href="#f" y="141.3"/><use href="#f" y="159.3"/><use href="#f" y="177.3"/><use href="#f" y="195.3"/><use href="#f" y="213.3"/><use href="#f" y="267.3"/><use href="#f" y="285.3"/><use href="#f" y="321.3"/><path class="sp" d="M0 439.3h386"/><rect class="ol" width="386" height="570"/><text class="T" x="193" y="17"><tspan class="s">gracethd.</tspan>t_sitetech</text>
<text><tspan class="p" x="17" y="38.5">st_id</tspan><tspan x="17" dy="18">st_code</tspan><tspan class="f" x="17" dy="18">st_nd_code</tspan><tspan x="17" dy="18">st_codeext</tspan><tspan x="17" dy="18">st_nom</tspan><tspan class="f" x="17" dy="18">st_prop</tspan><tspan class="f" x="17" dy="18">st_gest</tspan><tspan class="f" x="17" dy="18">st_user</tspan><tspan class="f" x="17" dy="18">st_proptyp</tspan><tspan class="f" x="17" dy="18">st_statut</tspan><tspan class="f" x="17" dy="18">st_etat</tspan><tspan x="17" dy="18">st_dateins</tspan><tspan x="17" dy="18">st_datemes</tspan><tspan class="f" x="17" dy="18">st_typephy</tspan><tspan class="f" x="17" dy="18">st_typelog</tspan><tspan x="17" dy="18">st_nblines</tspan><tspan class="f" x="17" dy="18">st_ad_code</tspan><tspan x="17" dy="18">st_comment</tspan><tspan x="17" dy="18">st_creadat</tspan><tspan x="17" dy="18">st_majdate</tspan><tspan x="17" dy="18">st_majsrc</tspan><tspan x="17" dy="18">st_abddate</tspan><tspan x="17" dy="18">st_abdsrc</tspan></text>
<text class="y"><tspan x="116" y="38.5">integer</tspan><tspan x="116" dy="18">character varying(254)</tspan><tspan x="116" dy="18">character varying(254)</tspan><tspan x="116" dy="18">character varying(254)</tspan><tspan x="116" dy="18">character varying(254)</tspan><tspan x="116" dy="18">character varying(20)</tspan><tspan x="116" dy="18">character varying(20)</tspan><tspan x="116" dy="18">character varying(20)</tspan><tspan x="116" dy="18">character varying(3)</tspan><tspan x="116" dy="18">character varying(3)</tspan><tspan x="116" dy="18">character varying(3)</tspan><tspan x="116" dy="18">date</tspan><tspan x="116" dy="18">date</tspan><tspan x="116" dy="18">character varying(3)</tspan><tspan x="116" dy="18">character varying(10)</tspan><tspan x="116" dy="18">integer</tspan><tspan x="116" dy="18">character varying(254)</tspan><tspan x="116" dy="18">character varying(254)</tspan><tspan x="116" dy="18">timestamp</tspan><tspan x="116" dy="18">timestamp</tspan><tspan x="116" dy="18">character varying(254)</tspan><tspan x="116" dy="18">date</tspan><tspan x="116" dy="18">character varying(254)</tspan></text>
<text class="g"><tspan x="381" y="38.5">« pk nn »</tspan><tspan x="381" y="56.5">« uq nn »</tspan><tspan x="381" y="74.5">« fk nn »</tspan><tspan x="381" y="128.5">« fk »</tspan><tspan x="381" y="146.5">« fk »</tspan><tspan x="381" y="164.5">« fk »</tspan><tspan x="381" y="182.5">« fk »</tspan><tspan x="381" y="200.5">« fk nn »</tspan><tspan x="381" y="218.5">« fk »</tspan><tspan x="381" y="272.5">« fk nn »</tspan><tspan x="381" y="290.5">« fk nn »</tspan><tspan x="381" y="326.5">« fk »</tspan></text>
<text class="x"><tspan x="17" y="456.5">st_code_idx</tspan><tspan x="17" dy="18">st_nd_code_idx</tspan><tspan x="17" dy="18">st_prop_idx</tspan><tspan x="17" dy="18">st_gest_idx</tspan><tspan x="17" dy="18">st_proptyp_idx</tspan><tspan x="17" dy="18">st_statut_idx</tspan><tspan x="17" dy="18">st_etat_idx</tspan></text><text class="y"><tspan x="136" y="456.5">index</tspan><tspan x="136" dy="18">index</tspan><tspan x="136" dy="18">index</tspan><tspan x="136" dy="18">index</tspan><tspan x="136" dy="18">index</tspan><tspan x="136" dy="18">index</tspan><tspan x="136" dy="18">index</tspan></text></g>
<g id="t_ltech" transform="translate(1322,2426)"><rect class="sh" x="4" y="4" width="381" height="606"/><rect class="bd" width="381" height="457.3"/><rect class="ix" y="457.3" width="381" height="148.7"/><rect class="hd" width="381" height="23"/><rect fill="url(#po)" y="24.3" width="16" height="432"/><rect fill="url(#pi)" y="460.3" width="16" height="144"/><use href="#k" y="33.3"/><use href="#u" y="51.3"/><use href="#f" y="105.3"/><use href="#f" y="123.3"/><use href="#f" y="141.3"/><use href="#f" y="159.3"/><use href="#f" y="177.3"/><use href="#f" y="195.3"/><use href="#f" y="213.3"/><use href="#f" y="303.3"/><use href="#f" y="321.3"/><path class="sp" d="M0 457.3h381"/><rect class="ol" width="381" height="606"/><text class="T" x="190.5" y="17"><tspan class="s">gracethd.</tspan>t_ltech</text>
<text><tspan class="p" x="17" y="38.5">lt_id</tspan><tspan x="17" dy="18">lt_code</tspan><tspan x="17" dy="18">lt_codeext</tspan><tspan x="17" dy="18">lt_etiquet</tspan><tspan class="f" x="17" dy="18">lt_st_code</tspan><tspan class="f" x="17" dy="18">lt_prop</tspan><tspan class="f" x="17" dy="18">lt_gest</tspan><tspan class="f" x="17" dy="18">lt_user</tspan><tspan class="f" x="17" dy="18">lt_proptyp</tspan><tspan class="f" x="17" dy="18">lt_statut</tspan><tspan class="f" x="17" dy="18">lt_etat</tspan><tspan x="17" dy="18">lt_dateins</tspan><tspan x="17" dy="18">lt_datemes</tspan><tspan x="17" dy="18">lt_local</tspan><tspan x="17" dy="18">lt_elec</tspan><tspan class="f" x="17" dy="18">lt_clim</tspan><tspan class="f" x="17" dy="18">lt_occp</tspan><tspan x="17" dy="18">lt_idmajic</tspan><tspan x="17" dy="18">lt_comment</tspan><tspan x="17" dy="18">lt_creadat</tspan><tspan x="17" dy="18">lt_majdate</tspan><tspan x="17" dy="18">lt_majsrc</tspan><tspan x="17" dy="18">lt_abddate</tspan><tspan x="17" dy="18">lt_abdsrc</tspan></text>
<text class="y"><tspan x="109" y="38.5">integer</tspan><tspan x="109" dy="18">character varying(254)</tspan><tspan x="109" dy="18">character varying(254)</tspan><tspan x="109" dy="18">character varying(20)</tspan><tspan x="109" dy="18">character varying(254)</tspan><tspan x="109" dy="18">character varying(20)</tspan><tspan x="109" dy="18">character varying(20)</tspan><tspan x="109" dy="18">character varying(20)</tspan><tspan x="109" dy="18">character varying(3)</tspan><tspan x="109" dy="18">character varying(3)</tspan><tspan x="109" dy="18">character varying(3)</tspan><tspan x="109" dy="18">date</tspan><tspan x="109" dy="18">date</tspan><tspan x="109" dy="18">character varying(254)</tspan><tspan x="109" dy="18">boolean</tspan><tspan x="109" dy="18">character varying(6)</tspan><tspan x="109" dy="18">character varying(10)</tspan><tspan x="109" dy="18">character varying(254)</tspan><tspan x="109" dy="18">character varying(254)</tspan><tspan x="109" dy="18">timestamp</tspan><tspan x="109" dy="18">timestamp</tspan><tspan x="109" dy="18">character varying(254)</tspan><tspan x="109" dy="18">date</tspan><tspan x="109" dy="18">character varying(254)</tspan></text>
<text class="g"><tspan x="376" y="38.5">« pk nn »</tspan><tspan x="376" y="56.5">« uq nn »</tspan><tspan x="376" y="110.5">« fk nn »</tspan><tspan x="376" y="128.5">« fk »</tspan><tspan x="376" y="146.5">« fk »</tspan><tspan x="376" y="164.5">« fk »</tspan><tspan x="376" y="182.5">« fk »</tspan><tspan x="376" y="200.5">« fk nn »</tspan><tspan x="376" y="218.5">« fk nn »</tspan><tspan x="376" y="308.5">« fk »</tspan><tspan x="376" y="326.5">« fk »</tspan></text>
<text class="x"><tspan x="17" y="474.5">lt_code_idx</tspan><tspan x="17" dy="18">lt_st_code_idx</tspan><tspan x="17" dy="18">lt_prop_idx</tspan><tspan x="17" dy="18">lt_gest_idx</tspan><tspan x="17" dy="18">lt_proptyp_idx</tspan><tspan x="17" dy="18">lt_statut_idx</tspan><tspan x="17" dy="18">lt_etat_idx</tspan><tspan x="17" dy="18">lt_clim_idx</tspan></text><text class="y"><tspan x="126" y="474.5">index</tspan><tspan x="126" dy="18">index</tspan><tspan x="126" dy="18">index</tspan><tspan x="126" dy="18">index</tspan><tspan x="126" dy="18">index</tspan><tspan x="126" dy="18">index</tspan><tspan x="126" dy="18">index</tspan><tspan x="126" dy="18">index</tspan></text></g>
<g id="t_baie" transform="translate(1754,2426)"><rect class="sh" x="4" y="4" width="391" height="624"/><rect class="bd" width="391" height="439.3"/><rect class="ix" y="439.3" width="391" height="184.7"/><rect class="hd" width="391" height="23"/><rect fill="url(#po)" y="24.3" width="16" height="414"/><rect fill="url(#pi)" y="442.3" width="16" height="180"/><use href="#k" y="33.3"/><use href="#u" y="51.3"/><use href="#f" y="105.3"/><use href="#f" y="123.3"/><use href="#f" y="141.3"/><use href="#f" y="159.3"/><use href="#f" y="177.3"/><use href="#f" y="195.3"/><use href="#f" y="213.3"/><use href="#f" y="231.3"/><use href="#f" y="249.3"/><path class="sp" d="M0 439.3h391"/><rect class="ol" width="391" height="624"/><text class="T" x="195.5" y="17"><tspan class="s">gracethd.</tspan>t_baie</text>
<text><tspan class="p" x="17" y="38.5">ba_id</tspan><tspan x="17" dy="18">ba_code</tspan><tspan x="17" dy="18">ba_codeext</tspan><tspan x="17" dy="18">ba_etiquet</tspan><tspan class="f" x="17" dy="18">ba_lt_code</tspan><tspan class="f" x="17" dy="18">ba_prop</tspan><tspan class="f" x="17" dy="18">ba_gest</tspan><tspan class="f" x="17" dy="18">ba_user</tspan><tspan class="f" x="17" dy="18">ba_proptyp</tspan><tspan class="f" x="17" dy="18">ba_statut</tspan><tspan class="f" x="17" dy="18">ba_etat</tspan><tspan class="f" x="17" dy="18">ba_rf_code</tspan><tspan class="f" x="17" dy="18">ba_type</tspan><tspan x="17" dy="18">ba_nb_u</tspan><tspan x="17" dy="18">ba_haut</tspan><tspan x="17" dy="18">ba_larg</tspan><tspan x="17" dy="18">ba_prof</tspan><tspan x="17" dy="18">ba_comment</tspan><tspan x="17" dy="18">ba_creadat</tspan><tspan x="17" dy="18">ba_majdate</tspan><tspan x="17" dy="18">ba_majsrc</tspan><tspan x="17" dy="18">ba_abddate</tspan><tspan x="17" dy="18">ba_abdsrc</tspan></text>
<text class="y"><tspan x="119" y="38.5">integer</tspan><tspan x="119" dy="18">character varying(254)</tspan><tspan x="119" dy="18">character varying(254)</tspan><tspan x="119" dy="18">character varying(254)</tspan><tspan x="119" dy="18">character varying(254)</tspan><tspan x="119" dy="18">character varying(20)</tspan><tspan x="119" dy="18">character varying(20)</tspan><tspan x="119" dy="18">character varying(20)</tspan><tspan x="119" dy="18">character varying(3)</tspan><tspan x="119" dy="18">character varying(3)</tspan><tspan x="119" dy="18">character varying(3)</tspan><tspan x="119" dy="18">character varying(254)</tspan><tspan x="119" dy="18">character varying(10)</tspan><tspan x="119" dy="18">numeric</tspan><tspan x="119" dy="18">numeric</tspan><tspan x="119" dy="18">numeric</tspan><tspan x="119" dy="18">numeric</tspan><tspan x="119" dy="18">character varying(254)</tspan><tspan x="119" dy="18">timestamp</tspan><tspan x="119" dy="18">timestamp</tspan><tspan x="119" dy="18">character varying(254)</tspan><tspan x="119" dy="18">date</tspan><tspan x="119" dy="18">character varying(254)</tspan></text>
<text class="g"><tspan x="386" y="38.5">« pk nn »</tspan><tspan x="386" y="56.5">« uq nn »</tspan><tspan x="386" y="110.5">« fk nn »</tspan><tspan x="386" y="128.5">« fk »</tspan><tspan x="386" y="146.5">« fk »</tspan><tspan x="386" y="164.5">« fk »</tspan><tspan x="386" y="182.5">« fk »</tspan><tspan x="386" y="200.5">« fk »</tspan><tspan x="386" y="218.5">« fk »</tspan><tspan x="386" y="236.5">« fk »</tspan><tspan x="386" y="254.5">« fk »</tspan></text>
<text class="x"><tspan x="17" y="456.5">ba_code_idx</tspan><tspan x="17" dy="18">ba_etiquet_idx</tspan><tspan x="17" dy="18">ba_lt_code_idx</tspan><tspan x="17" dy="18">ba_prop_idx</tspan><tspan x="17" dy="18">ba_gest_idx</tspan><tspan x="17" dy="18">ba_proptyp_idx</tspan><tspan x="17" dy="18">ba_statut_idx</tspan><tspan x="17" dy="18">ba_etat_idx</tspan><tspan x="17" dy="18">ba_rf_code_idx</tspan><tspan x="17" dy="18">ba_type_idx</tspan></text><text class="y"><tspan x="136" y="456.5">index</tspan><tspan x="136" dy="18">index</tspan><tspan x="136" dy="18">index</tspan><tspan x="136" dy="18">index</tspan><tspan x="136" dy="18">index</tspan><tspan x="136" dy="18">index</tspan><tspan x="136" dy="18">index</tspan><tspan x="136" dy="18">index</tspan><tspan x="136" dy="18">index</tspan><tspan x="136" dy="18">index</tspan></text></g>
<g id="t_tiroir" transform="translate(6,3102)"><rect class="sh" x="4" y="4" width="383" height="462"/><rect class="bd" width="383" height="349.3"/><rect class="ix" y="349.3" width="383" height="112.7"/><rect class="hd" width="383" height="23"/><rect fill="url(#po)" y="24.3" width="16" height="324"/><rect fill="url(#pi)" y="352.3" width="16" height="108"/><use href="#k" y="33.3"/><use href="#u" y="51.3"/><use href="#f" y="105.3"/><use href="#f" y="123.3"/><use href="#f" y="141.3"/><use href="#f" y="159.3"/><use href="#f" y="177.3"/><path class="sp" d="M0 349.3h383"/><rect class="ol" width="383" height="462"/><text class="T" x="191.5" y="17"><tspan class="s">gracethd.</tspan>t_tiroir</text>
<text><tspan class="p" x="17" y="38.5">ti_id</tspan><tspan x="17" dy="18">ti_code</tspan><tspan x="17" dy="18">ti_codeext</tspan><tspan x="17" dy="18">ti_etiquet</tspan><tspan class="f" x="17" dy="18">ti_ba_code</tspan><tspan class="f" x="17" dy="18">ti_prop</tspan><tspan class="f" x="17" dy="18">ti_etat</tspan><tspan class="f" x="17" dy="18">ti_type</tspan><tspan class="f" x="17" dy="18">ti_rf_code</tspan><tspan x="17" dy="18">ti_taille</tspan><tspan x="17" dy="18">ti_placemt</tspan><tspan x="17" dy="18">ti_localis</tspan><tspan x="17" dy="18">ti_comment</tspan><tspan x="17" dy="18">ti_creadat</tspan><tspan x="17" dy="18">ti_majdate</tspan><tspan x="17" dy="18">ti_majsrc</tspan><tspan x="17" dy="18">ti_abddate</tspan><tspan x="17" dy="18">ti_abdsrc</tspan></text>
<text class="y"><tspan x="110" y="38.5">integer</tspan><tspan x="110" dy="18">character varying(254)</tspan><tspan x="110" dy="18">character varying(254)</tspan><tspan x="110" dy="18">character varying(254)</tspan><tspan x="110" dy="18">character varying(254)</tspan><tspan x="110" dy="18">character varying(20)</tspan><tspan x="110" dy="18">character varying(3)</tspan><tspan x="110" dy="18">character varying(10)</tspan><tspan x="110" dy="18">character varying(254)</tspan><tspan x="110" dy="18">numeric</tspan><tspan x="110" dy="18">numeric</tspan><tspan x="110" dy="18">character varying(254)</tspan><tspan x="110" dy="18">character varying(254)</tspan><tspan x="110" dy="18">timestamp</tspan><tspan x="110" dy="18">timestamp</tspan><tspan x="110" dy="18">character varying(254)</tspan><tspan x="110" dy="18">date</tspan><tspan x="110" dy="18">character varying(254)</tspan></text>
<text class="g"><tspan x="378" y="38.5">« pk nn »</tspan><tspan x="378" y="56.5">« uq nn »</tspan><tspan x="378" y="110.5">« fk nn »</tspan><tspan x="378" y="128.5">« fk »</tspan><tspan x="378" y="146.5">« fk »</tspan><tspan x="378" y="164.5">« fk »</tspan><tspan x="378" y="182.5">« fk »</tspan></text>
<text class="x"><tspan x="17" y="366.5">ti_code_idx</tspan><tspan x="17" dy="18">ti_ba_code_idx</tspan><tspan x="17" dy="18">ti_prop_idx</tspan><tspan x="17" dy="18">ti_etat_idx</tspan><tspan x="17" dy="18">ti_type_idx</tspan><tspan x="17" dy="18">ti_rf_code_idx</tspan></text><text class="y"><tspan x="131" y="366.5">index</tspan><tspan x="131" dy="18">index</tspan><tspan x="131" dy="18">index</tspan><tspan x="131" dy="18">index</tspan><tspan x="131" dy="18">index</tspan><tspan x="131" dy="18">index</tspan></text></g>
<g id="t_equipement" transform="translate(440,3102)"><rect class="sh" x="4" y="4" width="390" height="336"/><rect class="bd" width="390" height="277.3"/><rect class="ix" y="277.3" width="390" height="58.7"/><rect class="hd" width="390" height="23"/><rect fill="url(#po)" y="24.3" width="16" height="252"/><rect fill="url(#pi)" y="280.3" width="16" height="54"/><use href="#k" y="33.3"/><use href="#u" y="51.3"/><use href="#f" y="105.3"/><use href="#f" y="123.3"/><path class="sp" d="M0 277.3h390"/><rect class="ol" width="390" height="336"/><text class="T" x="195" y="17"><tspan class="s">gracethd.</tspan>t_equipement</text>
<text><tspan class="p" x="17" y="38.5">eq_id</tspan><tspan x="17" dy="18">eq_code</tspan><tspan x="17" dy="18">eq_codeext</tspan><tspan x="17" dy="18">eq_etiquet</tspan><tspan class="f" x="17" dy="18">eq_ba_code</tspan><tspan class="f" x="17" dy="18">eq_prop</tspan><tspan x="17" dy="18">eq_dateins</tspan><tspan x="17" dy="18">eq_datemes</tspan><tspan x="17" dy="18">eq_comment</tspan><tspan x="17" dy="18">eq_creadat</tspan><tspan x="17" dy="18">eq_majdate</tspan><tspan x="17" dy="18">eq_majsrc</tspan><tspan x="17" dy="18">eq_abddate</tspan><tspan x="17" dy="18">eq_abdsrc</tspan></text>
<text class="y"><tspan x="119" y="38.5">integer</tspan><tspan x="119" dy="18">character varying(254)</tspan><tspan x="119" dy="18">character varying(254)</tspan><tspan x="119" dy="18">character varying(254)</tspan><tspan x="119" dy="18">character varying(254)</tspan><tspan x="119" dy="18">character varying(20)</tspan><tspan x="119" dy="18">date</tspan><tspan x="119" dy="18">date</tspan><tspan x="119" dy="18">character varying(254)</tspan><tspan x="119" dy="18">timestamp</tspan><tspan x="119" dy="18">timestamp</tspan><tspan x="119" dy="18">character varying(254)</tspan><tspan x="119" dy="18">date</tspan><tspan x="119" dy="18">character varying(254)</tspan></text>
<text class="g"><tspan x="385" y="38.5">« pk nn »</tspan><tspan x="385" y="56.5">« uq nn »</tspan><tspan x="385" y="110.5">« fk nn »</tspan><tspan x="385" y="128.5">« fk »</tspan></text>
<text class="x"><tspan x="17" y="294.5">eq_code_idx</tspan><tspan x="17" dy="18">eq_ba_code_idx</tspan><tspan x="17" dy="18">eq_prop_idx</tspan></text><text class="y"><tspan x="139" y="294.5">index</tspan><tspan x="139" dy="18">index</tspan><tspan x="139" dy="18">index</tspan></text></g>
<g id="t_suf" transform="translate(882,3102)"><rect class="sh" x="4" y="4" width="388" height="426"/><rect class="bd" width="388" height="349.3"/><rect class="ix" y="349.3" width="388" height="76.7"/><rect class="hd" width="388" height="23"/><rect fill="url(#po)" y="24.3" width="16" height="324"/><rect fill="url(#pi)" y="352.3" width="16" height="72"/><use href="#k" y="33.3"/><use href="#u" y="51.3"/><use href="#f" y="69.3"/><use href="#f" y="87.3"/><use href="#f" y="141.3"/><use href="#f" y="159.3"/><use href="#f" y="231.3"/><path class="sp" d="M0 349.3h388"/><rect class="ol" width="388" height="426"/><text class="T" x="194" y="17"><tspan class="s">gracethd.</tspan>t_suf</text>
<text><tspan class="p" x="17" y="38.5">sf_id</tspan><tspan x="17" dy="18">sf_code</tspan><tspan class="f" x="17" dy="18">sf_nd_code</tspan><tspan class="f" x="17" dy="18">sf_ad_code</tspan><tspan x="17" dy="18">sf_escal</tspan><tspan x="17" dy="18">sf_etage</tspan><tspan class="f" x="17" dy="18">sf_oper</tspan><tspan class="f" x="17" dy="18">sf_type</tspan><tspan x="17" dy="18">sf_prop</tspan><tspan x="17" dy="18">sf_resid</tspan><tspan x="17" dy="18">sf_local</tspan><tspan class="f" x="17" dy="18">sf_racco</tspan><tspan x="17" dy="18">sf_comment</tspan><tspan x="17" dy="18">sf_creadat</tspan><tspan x="17" dy="18">sf_majdate</tspan><tspan x="17" dy="18">sf_majsrc</tspan><tspan x="17" dy="18">sf_abddate</tspan><tspan x="17" dy="18">sf_abdsrc</tspan></text>
<text class="y"><tspan x="114" y="38.5">integer</tspan><tspan x="114" dy="18">character varying(254)</tspan><tspan x="114" dy="18">character varying(254)</tspan><tspan x="114" dy="18">character varying(254)</tspan><tspan x="114" dy="18">character varying(20)</tspan><tspan x="114" dy="18">character varying(20)</tspan><tspan x="114" dy="18">character varying(20)</tspan><tspan x="114" dy="18">character varying</tspan><tspan x="114" dy="18">character varying(254)</tspan><tspan x="114" dy="18">character varying(254)</tspan><tspan x="114" dy="18">character varying(254)</tspan><tspan x="114" dy="18">character varying(2)</tspan><tspan x="114" dy="18">character varying(254)</tspan><tspan x="114" dy="18">timestamp</tspan><tspan x="114" dy="18">timestamp</tspan><tspan x="114" dy="18">character varying(254)</tspan><tspan x="114" dy="18">date</tspan><tspan x="114" dy="18">character varying(254)</tspan></text>
<text class="g"><tspan x="383" y="38.5">« pk nn »</tspan><tspan x="383" y="56.5">« uq nn »</tspan><tspan x="383" y="74.5">« fk nn »</tspan><tspan x="383" y="92.5">« fk »</tspan><tspan x="383" y="146.5">« fk »</tspan><tspan x="383" y="164.5">« fk nn »</tspan><tspan x="383" y="236.5">« fk »</tspan></text>
<text class="x"><tspan x="17" y="366.5">sf_code_idx</tspan><tspan x="17" dy="18">sf_nd_code_idx</tspan><tspan x="17" dy="18">sf_ad_code_idx</tspan><tspan x="17" dy="18">sf_type_idx</tspan></text><text class="y"><tspan x="133" y="366.5">index</tspan><tspan x="133" dy="18">index</tspan><tspan x="133" dy="18">index</tspan><tspan x="133" dy="18">index</tspan></text></g>
<g id="t_ptech" transform="translate(1319,3102)"><rect class="sh" x="4" y="4" width="387" height="804"/><rect class="bd" width="387" height="619.3"/><rect class="ix" y="619.3" width="387" height="184.7"/><rect class="hd" width="387" height="23"/><rect fill="url(#po)" y="24.3" width="16" height="594"/><rect fill="url(#pi)" y="622.3" width="16" height="180"/><use href="#k" y="33.3"/><use href="#u" y="51.3"/><use href="#n" y="105.3"/><use href="#f" y="123.3"/><use href="#f" y="141.3"/><use href="#f" y="159.3"/><use href="#f" y="177.3"/><use href="#f" y="195.3"/><use href="#f" y="213.3"/><use href="#f" y="267.3"/><use href="#f" y="285.3"/><use href="#f" y="303.3"/><use href="#f" y="339.3"/><path class="sp" d="M0 619.3h387"/><rect class="ol" width="387" height="804"/><text class="T" x="193.5" y="17"><tspan class="s">gracethd.</tspan>t_ptech</text>
<text><tspan class="p" x="17" y="38.5">pt_id</tspan><tspan x="17" dy="18">pt_code</tspan><tspan x="17" dy="18">pt_codeext</tspan><tspan x="17" dy="18">pt_etiquet</tspan><tspan x="17" dy="18">pt_nd_code</tspan><tspan class="f" x="17" dy="18">pt_prop</tspan><tspan class="f" x="17" dy="18">pt_gest</tspan><tspan class="f" x="17" dy="18">pt_user</tspan><tspan class="f" x="17" dy="18">pt_proptyp</tspan><tspan class="f" x="17" dy="18">pt_statut</tspan><tspan class="f" x="17" dy="18">pt_etat</tspan><tspan x="17" dy="18">pt_dateins</tspan><tspan x="17" dy="18">pt_datemes</tspan><tspan class="f" x="17" dy="18">pt_typephy</tspan><tspan class="f" x="17" dy="18">pt_typelog</tspan><tspan class="f" x="17" dy="18">pt_nature</tspan><tspan x="17" dy="18">pt_secu</tspan><tspan class="f" x="17" dy="18">pt_occp</tspan><tspan x="17" dy="18">pt_lignes</tspan><tspan x="17" dy="18">pt_a_dan</tspan><tspan x="17" dy="18">pt_a_dtetu</tspan><tspan x="17" dy="18">pt_a_struc</tspan><tspan x="17" dy="18">pt_a_haut</tspan><tspan x="17" dy="18">pt_a_passa</tspan><tspan x="17" dy="18">pt_a_strat</tspan><tspan x="17" dy="18">pt_rotatio</tspan><tspan x="17" dy="18">pt_detec</tspan><tspan x="17" dy="18">pt_comment</tspan><tspan x="17" dy="18">pt_creadat</tspan><tspan x="17" dy="18">pt_majdate</tspan><tspan x="17" dy="18">pt_majsrc</tspan><tspan x="17" dy="18">pt_abddate</tspan><tspan x="17" dy="18">pt_abdsrc</tspan></text>
<text class="y"><tspan x="115" y="38.5">integer</tspan><tspan x="115" dy="18">character varying(254)</tspan><tspan x="115" dy="18">character varying(254)</tspan><tspan x="115" dy="18">character varying(254)</tspan><tspan x="115" dy="18">character varying(254)</tspan><tspan x="115" dy="18">character varying(20)</tspan><tspan x="115" dy="18">character varying(20)</tspan><tspan x="115" dy="18">character varying(254)</tspan><tspan x="115" dy="18">character varying(3)</tspan><tspan x="115" dy="18">character varying(3)</tspan><tspan x="115" dy="18">character varying(3)</tspan><tspan x="115" dy="18">date</tspan><tspan x="115" dy="18">date</tspan><tspan x="115" dy="18">character varying(20)</tspan><tspan x="115" dy="18">character varying</tspan><tspan x="115" dy="18">character varying</tspan><tspan x="115" dy="18">boolean</tspan><tspan x="115" dy="18">character varying(10)</tspan><tspan x="115" dy="18">integer</tspan><tspan x="115" dy="18">numeric</tspan><tspan x="115" dy="18">date</tspan><tspan x="115" dy="18">character varying(100)</tspan><tspan x="115" dy="18">numeric(5,2)</tspan><tspan x="115" dy="18">boolean</tspan><tspan x="115" dy="18">boolean</tspan><tspan x="115" dy="18">numeric(5,2)</tspan><tspan x="115" dy="18">boolean</tspan><tspan x="115" dy="18">character varying(254)</tspan><tspan x="115" dy="18">timestamp</tspan><tspan x="115" dy="18">timestamp</tspan><tspan x="115" dy="18">character varying(254)</tspan><tspan x="115" dy="18">date</tspan><tspan x="115" dy="18">character varying(254)</tspan></text>
<text class="g"><tspan x="382" y="38.5">« pk nn »</tspan><tspan x="382" y="56.5">« uq nn »</tspan><tspan x="382" y="110.5">« nn »</tspan><tspan x="382" y="128.5">« fk »</tspan><tspan x="382" y="146.5">« fk »</tspan><tspan x="382" y="164.5">« fk »</tspan><tspan x="382" y="182.5">« fk »</tspan><tspan x="382" y="200.5">« fk nn »</tspan><tspan x="382" y="218.5">« fk »</tspan><tspan x="382" y="272.5">« fk nn »</tspan><tspan x="382" y="290.5">« fk nn »</tspan><tspan x="382" y="308.5">« fk »</tspan><tspan x="382" y="344.5">« fk »</tspan></text>
<text class="x"><tspan x="17" y="636.5">pt_code_idx</tspan><tspan x="17" dy="18">pt_nd_code_idx</tspan><tspan x="17" dy="18">pt_prop_idx</tspan><tspan x="17" dy="18">pt_gest_idx</tspan><tspan x="17" dy="18">pt_proptyp_idx</tspan><tspan x="17" dy="18">pt_statut_idx</tspan><tspan x="17" dy="18">pt_etat_idx</tspan><tspan x="17" dy="18">pt_typephy_idx</tspan><tspan x="17" dy="18">pt_typelog_idx</tspan><tspan x="17" dy="18">pt_nature_idx</tspan></text><text class="y"><tspan x="135" y="636.5">index</tspan><tspan x="135" dy="18">index</tspan><tspan x="135" dy="18">index</tspan><tspan x="135" dy="18">index</tspan><tspan x="135" dy="18">index</tspan><tspan x="135" dy="18">index</tspan><tspan x="135" dy="18">index</tspan><tspan x="135" dy="18">index</tspan><tspan x="135" dy="18">index</tspan><tspan x="135" dy="18">index</tspan></text></g>
<g id="t_ebp" transform="translate(1758,3102)"><rect class="sh" x="4" y="4" width="390" height="786"/><rect class="bd" width="390" height="601.3"/><rect class="ix" y="601.3" width="390" height="184.7"/><rect class="hd" width="390" height="23"/><rect fill="url(#po)" y="24.3" width="16" height="576"/><rect fill="url(#pi)" y="604.3" width="16" height="180"/><use href="#k" y="33.3"/><use href="#u" y="51.3"/><use href="#f" y="105.3"/><use href="#f" y="123.3"/><use href="#f" y="141.3"/><use href="#f" y="159.3"/><use href="#f" y="177.3"/><use href="#f" y="195.3"/><use href="#f" y="213.3"/><use href="#f" y="231.3"/><use href="#f" y="249.3"/><use href="#f" y="267.3"/><use href="#f" y="303.3"/><use href="#f" y="321.3"/><use href="#f" y="339.3"/><use href="#f" y="429.3"/><use href="#f" y="483.3"/><path class="sp" d="M0 601.3h390"/><rect class="ol" width="390" height="786"/><text class="T" x="195" y="17"><tspan class="s">gracethd.</tspan>t_ebp</text>
<text><tspan class="p" x="17" y="38.5">bp_id</tspan><tspan x="17" dy="18">bp_code</tspan><tspan x="17" dy="18">bp_etiquet</tspan><tspan x="17" dy="18">bp_codeext</tspan><tspan class="f" x="17" dy="18">bp_pt_code</tspan><tspan class="f" x="17" dy="18">bp_lt_code</tspan><tspan class="f" x="17" dy="18">bp_sf_code</tspan><tspan class="f" x="17" dy="18">bp_prop</tspan><tspan class="f" x="17" dy="18">bp_gest</tspan><tspan class="f" x="17" dy="18">bp_user</tspan><tspan class="f" x="17" dy="18">bp_proptyp</tspan><tspan class="f" x="17" dy="18">bp_statut</tspan><tspan class="f" x="17" dy="18">bp_etat</tspan><tspan class="f" x="17" dy="18">bp_occp</tspan><tspan x="17" dy="18">bp_datemes</tspan><tspan class="f" x="17" dy="18">bp_typephy</tspan><tspan class="f" x="17" dy="18">bp_typelog</tspan><tspan class="f" x="17" dy="18">bp_rf_code</tspan><tspan x="17" dy="18">bp_entrees</tspan><tspan x="17" dy="18">bp_ref_kit</tspan><tspan x="17" dy="18">bp_ca_nb</tspan><tspan x="17" dy="18">bp_nb_pas</tspan><tspan class="f" x="17" dy="18">bp_occup</tspan><tspan x="17" dy="18">bp_linecod</tspan><tspan x="17" dy="18">bp_oc_code</tspan><tspan class="f" x="17" dy="18">bp_racco</tspan><tspan x="17" dy="18">bp_comment</tspan><tspan x="17" dy="18">bp_creadat</tspan><tspan x="17" dy="18">bp_majdate</tspan><tspan x="17" dy="18">bp_majsrc</tspan><tspan x="17" dy="18">bp_abddate</tspan><tspan x="17" dy="18">bp_abdsrc</tspan></text>
<text class="y"><tspan x="119" y="38.5">integer</tspan><tspan x="119" dy="18">character varying(254)</tspan><tspan x="119" dy="18">character varying(254)</tspan><tspan x="119" dy="18">character varying(254)</tspan><tspan x="119" dy="18">character varying(254)</tspan><tspan x="119" dy="18">character varying(254)</tspan><tspan x="119" dy="18">character varying(254)</tspan><tspan x="119" dy="18">character varying(20)</tspan><tspan x="119" dy="18">character varying(20)</tspan><tspan x="119" dy="18">character varying(20)</tspan><tspan x="119" dy="18">character varying(3)</tspan><tspan x="119" dy="18">character varying(3)</tspan><tspan x="119" dy="18">character varying(3)</tspan><tspan x="119" dy="18">character varying(10)</tspan><tspan x="119" dy="18">date</tspan><tspan x="119" dy="18">character varying(5)</tspan><tspan x="119" dy="18">character varying(3)</tspan><tspan x="119" dy="18">character varying(254)</tspan><tspan x="119" dy="18">integer</tspan><tspan x="119" dy="18">character varying(30)</tspan><tspan x="119" dy="18">integer</tspan><tspan x="119" dy="18">integer</tspan><tspan x="119" dy="18">character varying(10)</tspan><tspan x="119" dy="18">character varying(12)</tspan><tspan x="119" dy="18">character varying(50)</tspan><tspan x="119" dy="18">character varying(6)</tspan><tspan x="119" dy="18">character varying(254)</tspan><tspan x="119" dy="18">timestamp</tspan><tspan x="119" dy="18">timestamp</tspan><tspan x="119" dy="18">character varying(254)</tspan><tspan x="119" dy="18">date</tspan><tspan x="119" dy="18">character varying(254)</tspan></text>
<text class="g"><tspan x="385" y="38.5">« pk nn »</tspan><tspan x="385" y="56.5">« uq nn »</tspan><tspan x="385" y="110.5">« fk »</tspan><tspan x="385" y="128.5">« fk »</tspan><tspan x="385" y="146.5">« fk »</tspan><tspan x="385" y="164.5">« fk »</tspan><tspan x="385" y="182.5">« fk »</tspan><tspan x="385" y="200.5">« fk »</tspan><tspan x="385" y="218.5">« fk »</tspan><tspan x="385" y="236.5">« fk nn »</tspan><tspan x="385" y="254.5">« fk »</tspan><tspan x="385" y="272.5">« fk »</tspan><tspan x="385" y="308.5">« fk »</tspan><tspan x="385" y="326.5">« fk nn »</tspan><tspan x="385" y="344.5">« fk »</tspan><tspan x="385" y="434.5">« fk »</tspan><tspan x="385" y="488.5">« fk »</tspan></text>
<text class="x"><tspan x="17" y="618.5">bp_code_idx</tspan><tspan x="17" dy="18">bp_pt_code_idx</tspan><tspan x="17" dy="18">bp_lt_code_idx</tspan><tspan x="17" dy="18">bp_sf_code_idx</tspan><tspan x="17" dy="18">bp_prop_idx</tspan><tspan x="17" dy="18">bp_gest_idx</tspan><tspan x="17" dy="18">bp_proptyp_idx</tspan><tspan x="17" dy="18">bp_statut_idx</tspan><tspan x="17" dy="18">bp_etat_idx</tspan><tspan x="17" dy="18">bp_rf_code_idx</tspan></text><text class="y"><tspan x="135" y="618.5">index</tspan><tspan x="135" dy="18">index</tspan><tspan x="135" dy="18">index</tspan><tspan x="135" dy="18">index</tspan><tspan x="135" dy="18">index</tspan><tspan x="135" dy="18">index</tspan><tspan x="135" dy="18">index</tspan><tspan x="135" dy="18">index</tspan><tspan x="135" dy="18">index</tspan><tspan x="135" dy="18">index</tspan></text></g>
<g id="t_cassette" transform="translate(6,3956)"><rect class="sh" x="4" y="4" width="389" height="354"/><rect class="bd" width="389" height="277.3"/><rect class="ix" y="277.3" width="389" height="76.7"/><rect class="hd" width="389" height="23"/><rect fill="url(#po)" y="24.3" width="16" height="252"/><rect fill="url(#pi)" y="280.3" width="16" height="72"/><use href="#k" y="33.3"/><use href="#u" y="51.3"/><use href="#f" y="87.3"/><use href="#f" y="123.3"/><use href="#f" y="159.3"/><path class="sp" d="M0 277.3h389"/><rect class="ol" width="389" height="354"/><text class="T" x="194.5" y="17"><tspan class="s">gracethd.</tspan>t_cassette</text>
<text><tspan class="p" x="17" y="38.5">cs_id</tspan><tspan x="17" dy="18">cs_code</tspan><tspan x="17" dy="18">cs_nb_pas</tspan><tspan class="f" x="17" dy="18">cs_bp_code</tspan><tspan x="17" dy="18">cs_num</tspan><tspan class="f" x="17" dy="18">cs_type</tspan><tspan x="17" dy="18">cs_face</tspan><tspan class="f" x="17" dy="18">cs_rf_code</tspan><tspan x="17" dy="18">cs_comment</tspan><tspan x="17" dy="18">cs_creadat</tspan><tspan x="17" dy="18">cs_majdate</tspan><tspan x="17" dy="18">cs_majsrc</tspan><tspan x="17" dy="18">cs_abddate</tspan><tspan x="17" dy="18">cs_abdsrc</tspan></text>
<text class="y"><tspan x="118" y="38.5">integer</tspan><tspan x="118" dy="18">character varying(254)</tspan><tspan x="118" dy="18">integer</tspan><tspan x="118" dy="18">character varying(254)</tspan><tspan x="118" dy="18">integer</tspan><tspan x="118" dy="18">character varying(10)</tspan><tspan x="118" dy="18">character varying(20)</tspan><tspan x="118" dy="18">character varying(254)</tspan><tspan x="118" dy="18">character varying(254)</tspan><tspan x="118" dy="18">timestamp</tspan><tspan x="118" dy="18">timestamp</tspan><tspan x="118" dy="18">character varying(254)</tspan><tspan x="118" dy="18">date</tspan><tspan x="118" dy="18">character varying(254)</tspan></text>
<text class="g"><tspan x="384" y="38.5">« pk nn »</tspan><tspan x="384" y="56.5">« uq »</tspan><tspan x="384" y="92.5">« fk nn »</tspan><tspan x="384" y="128.5">« fk »</tspan><tspan x="384" y="164.5">« fk »</tspan></text>
<text class="x"><tspan x="17" y="294.5">cs_code_idx</tspan><tspan x="17" dy="18">cs_bp_code_idx</tspan><tspan x="17" dy="18">cs_type_idx</tspan><tspan x="17" dy="18">cs_rf_code_idx</tspan></text><text class="y"><tspan x="137" y="294.5">index</tspan><tspan x="137" dy="18">index</tspan><tspan x="137" dy="18">index</tspan><tspan x="137" dy="18">index</tspan></text></g>
<g id="t_cheminement" transform="translate(446,3956)"><rect class="sh" x="4" y="4" width="451" height="1038"/><rect class="bd" width="451" height="817.3"/><rect class="ix" y="817.3" width="451" height="220.7"/><rect class="hd" width="451" height="23"/><rect fill="url(#po)" y="24.3" width="16" height="792"/><rect fill="url(#pi)" y="820.3" width="16" height="216"/><use href="#k" y="33.3"/><use href="#u" y="51.3"/><use href="#f" y="87.3"/><use href="#f" y="105.3"/><use href="#f" y="123.3"/><use href="#f" y="141.3"/><use href="#f" y="249.3"/><use href="#f" y="267.3"/><use href="#f" y="285.3"/><use href="#f" y="303.3"/><use href="#f" y="357.3"/><use href="#f" y="375.3"/><use href="#f" y="393.3"/><use href="#f" y="447.3"/><use href="#f" y="465.3"/><use href="#f" y="573.3"/><use href="#f" y="645.3"/><use href="#f" y="681.3"/><use href="#n" y="807.3"/><path class="sp" d="M0 817.3h451"/><rect class="ol" width="451" height="1038"/><text class="T" x="225.5" y="17"><tspan class="s">gracethd.</tspan>t_cheminement</text>
<text><tspan class="p" x="17" y="38.5">cm_id</tspan><tspan x="17" dy="18">cm_code</tspan><tspan x="17" dy="18">cm_codeext</tspan><tspan class="f" x="17" dy="18">cm_ndcode1</tspan><tspan class="f" x="17" dy="18">cm_ndcode2</tspan><tspan class="f" x="17" dy="18">cm_cm1</tspan><tspan class="f" x="17" dy="18">cm_cm2</tspan><tspan x="17" dy="18">cm_r1_code</tspan><tspan x="17" dy="18">cm_r2_code</tspan><tspan x="17" dy="18">cm_r3_code</tspan><tspan x="17" dy="18">cm_r4_code</tspan><tspan x="17" dy="18">cm_voie</tspan><tspan class="f" x="17" dy="18">cm_gest_vo</tspan><tspan class="f" x="17" dy="18">cm_pro_voi</tspan><tspan class="f" x="17" dy="18">cm_statut</tspan><tspan class="f" x="17" dy="18">cm_etat</tspan><tspan x="17" dy="18">cm_datcons</tspan><tspan x="17" dy="18">cm_datemes</tspan><tspan class="f" x="17" dy="18">cm_typelog</tspan><tspan class="f" x="17" dy="18">cm_typ_imp</tspan><tspan class="f" x="17" dy="18">cm_nature</tspan><tspan x="17" dy="18">cm_compo</tspan><tspan x="17" dy="18">cm_cddispo</tspan><tspan class="f" x="17" dy="18">cm_mod_pos</tspan><tspan class="f" x="17" dy="18">cm_passage</tspan><tspan x="17" dy="18">cm_revet</tspan><tspan x="17" dy="18">cm_remblai</tspan><tspan x="17" dy="18">cm_charge</tspan><tspan x="17" dy="18">cm_larg</tspan><tspan x="17" dy="18">cm_fildtec</tspan><tspan class="f" x="17" dy="18">cm_mut_org</tspan><tspan x="17" dy="18">cm_long</tspan><tspan x="17" dy="18">cm_lgreel</tspan><tspan x="17" dy="18">cm_comment</tspan><tspan class="f" x="17" dy="18">cm_dtclass</tspan><tspan x="17" dy="18">cm_geolqlt</tspan><tspan class="f" x="17" dy="18">cm_geolmod</tspan><tspan x="17" dy="18">cm_geolsrc</tspan><tspan x="17" dy="18">cm_creadat</tspan><tspan x="17" dy="18">cm_majdate</tspan><tspan x="17" dy="18">cm_majsrc</tspan><tspan x="17" dy="18">cm_abddate</tspan><tspan x="17" dy="18">cm_abdsrc</tspan><tspan class="f" x="17" dy="18">geom</tspan></text>
<text class="y"><tspan x="125" y="38.5">integer</tspan><tspan x="125" dy="18">character varying(254)</tspan><tspan x="125" dy="18">character varying(254)</tspan><tspan x="125" dy="18">character varying(254)</tspan><tspan x="125" dy="18">character varying(254)</tspan><tspan x="125" dy="18">character varying(254)</tspan><tspan x="125" dy="18">character varying(254)</tspan><tspan x="125" dy="18">character varying(100)</tspan><tspan x="125" dy="18">character varying(100)</tspan><tspan x="125" dy="18">character varying(100)</tspan><tspan x="125" dy="18">character varying(100)</tspan><tspan x="125" dy="18">character varying(254)</tspan><tspan x="125" dy="18">character varying(20)</tspan><tspan x="125" dy="18">character varying(20)</tspan><tspan x="125" dy="18">character varying(3)</tspan><tspan x="125" dy="18">character varying(3)</tspan><tspan x="125" dy="18">date</tspan><tspan x="125" dy="18">date</tspan><tspan x="125" dy="18">character varying(2)</tspan><tspan x="125" dy="18">character varying(2)</tspan><tspan x="125" dy="18">character varying(3)</tspan><tspan x="125" dy="18">character varying(254)</tspan><tspan x="125" dy="18">integer</tspan><tspan x="125" dy="18">character varying(254)</tspan><tspan x="125" dy="18">character varying(254)</tspan><tspan x="125" dy="18">character varying(254)</tspan><tspan x="125" dy="18">character varying(254)</tspan><tspan x="125" dy="18">numeric(5,2)</tspan><tspan x="125" dy="18">numeric(4,2)</tspan><tspan x="125" dy="18">boolean</tspan><tspan x="125" dy="18">character varying(20)</tspan><tspan x="125" dy="18">numeric(8,2)</tspan><tspan x="125" dy="18">numeric(8,2)</tspan><tspan x="125" dy="18">character varying(254)</tspan><tspan x="125" dy="18">character varying(2)</tspan><tspan x="125" dy="18">numeric(6,2)</tspan><tspan x="125" dy="18">character varying(4)</tspan><tspan x="125" dy="18">character varying(254)</tspan><tspan x="125" dy="18">timestamp</tspan><tspan x="125" dy="18">timestamp</tspan><tspan x="125" dy="18">character varying(254)</tspan><tspan x="125" dy="18">date</tspan><tspan x="125" dy="18">character varying(254)</tspan><tspan x="125" dy="18">geometry(LINESTRING, 2154)</tspan></text>
<text class="g"><tspan x="446" y="38.5">« pk nn »</tspan><tspan x="446" y="56.5">« uq nn »</tspan><tspan x="446" y="92.5">« fk »</tspan><tspan x="446" y="110.5">« fk »</tspan><tspan x="446" y="128.5">« fk »</tspan><tspan x="446" y="146.5">« fk »</tspan><tspan x="446" y="254.5">« fk »</tspan><tspan x="446" y="272.5">« fk »</tspan><tspan x="446" y="290.5">« fk »</tspan><tspan x="446" y="308.5">« fk »</tspan><tspan x="446" y="362.5">« fk »</tspan><tspan x="446" y="380.5">« fk »</tspan><tspan x="446" y="398.5">« fk »</tspan><tspan x="446" y="452.5">« fk »</tspan><tspan x="446" y="470.5">« fk »</tspan><tspan x="446" y="578.5">« fk »</tspan><tspan x="446" y="650.5">« fk »</tspan><tspan x="446" y="686.5">« fk »</tspan><tspan x="446" y="812.5">« nn »</tspan></text>
<text class="x"><tspan x="17" y="834.5">t_cheminement_geom_gist</tspan><tspan x="17" dy="18">cm_code_idx</tspan><tspan x="17" dy="18">cm_ndcode1_idx</tspan><tspan x="17" dy="18">cm_ndcode2_idx</tspan><tspan x="17" dy="18">cm_cm1_idx</tspan><tspan x="17" dy="18">cm_cm2_idx</tspan><tspan x="17" dy="18">cm_gest_vo_idx</tspan><tspan x="17" dy="18">cm_pro_voi_idx</tspan><tspan x="17" dy="18">cm_statut_idx</tspan><tspan x="17" dy="18">cm_etat_idx</tspan><tspan x="17" dy="18">cm_typelog_idx</tspan><tspan x="17" dy="18">cm_typ_imp_idx</tspan></text><text class="y"><tspan x="221" y="834.5">index</tspan><tspan x="221" dy="18">index</tspan><tspan x="221" dy="18">index</tspan><tspan x="221" dy="18">index</tspan><tspan x="221" dy="18">index</tspan><tspan x="221" dy="18">index</tspan><tspan x="221" dy="18">index</tspan><tspan x="221" dy="18">index</tspan><tspan x="221" dy="18">index</tspan><tspan x="221" dy="18">index</tspan><tspan x="221" dy="18">index</tspan><tspan x="221" dy="18">index</tspan></text></g>
<g id="t_conduite" transform="translate(949,3956)"><rect class="sh" x="4" y="4" width="389" height="714"/><rect class="bd" width="389" height="583.3"/><rect class="ix" y="583.3" width="389" height="130.7"/><rect class="hd" width="389" height="23"/><rect fill="url(#po)" y="24.3" width="16" height="558"/><rect fill="url(#pi)" y="586.3" width="16" height="126"/><use href="#k" y="33.3"/><use href="#u" y="51.3"/><use href="#f" y="105.3"/><use href="#f" y="195.3"/><use href="#f" y="213.3"/><use href="#f" y="231.3"/><use href="#f" y="249.3"/><use href="#f" y="267.3"/><use href="#f" y="285.3"/><use href="#f" y="357.3"/><path class="sp" d="M0 583.3h389"/><rect class="ol" width="389" height="714"/><text class="T" x="194.5" y="17"><tspan class="s">gracethd.</tspan>t_conduite</text>
<text><tspan class="p" x="17" y="38.5">cd_id</tspan><tspan x="17" dy="18">cd_code</tspan><tspan x="17" dy="18">cd_codeext</tspan><tspan x="17" dy="18">cd_etiquet</tspan><tspan class="f" x="17" dy="18">cd_cd_code</tspan><tspan x="17" dy="18">cd_r1_code</tspan><tspan x="17" dy="18">cd_r2_code</tspan><tspan x="17" dy="18">cd_r3_code</tspan><tspan x="17" dy="18">cd_r4_code</tspan><tspan class="f" x="17" dy="18">cd_prop</tspan><tspan class="f" x="17" dy="18">cd_gest</tspan><tspan class="f" x="17" dy="18">cd_user</tspan><tspan class="f" x="17" dy="18">cd_proptyp</tspan><tspan class="f" x="17" dy="18">cd_statut</tspan><tspan class="f" x="17" dy="18">cd_etat</tspan><tspan x="17" dy="18">cd_dateaig</tspan><tspan x="17" dy="18">cd_dateman</tspan><tspan x="17" dy="18">cd_datemes</tspan><tspan class="f" x="17" dy="18">cd_type</tspan><tspan x="17" dy="18">cd_dia_int</tspan><tspan x="17" dy="18">cd_dia_ext</tspan><tspan x="17" dy="18">cd_color</tspan><tspan x="17" dy="18">cd_long</tspan><tspan x="17" dy="18">cd_nbcable</tspan><tspan x="17" dy="18">cd_occup</tspan><tspan x="17" dy="18">cd_comment</tspan><tspan x="17" dy="18">cd_creadat</tspan><tspan x="17" dy="18">cd_majdate</tspan><tspan x="17" dy="18">cd_majsrc</tspan><tspan x="17" dy="18">cd_abddate</tspan><tspan x="17" dy="18">cd_abdsrc</tspan></text>
<text class="y"><tspan x="118" y="38.5">integer</tspan><tspan x="118" dy="18">character varying(254)</tspan><tspan x="118" dy="18">character varying(254)</tspan><tspan x="118" dy="18">character varying(254)</tspan><tspan x="118" dy="18">character varying(254)</tspan><tspan x="118" dy="18">character varying(100)</tspan><tspan x="118" dy="18">character varying(100)</tspan><tspan x="118" dy="18">character varying(100)</tspan><tspan x="118" dy="18">character varying(100)</tspan><tspan x="118" dy="18">character varying(20)</tspan><tspan x="118" dy="18">character varying(20)</tspan><tspan x="118" dy="18">character varying(20)</tspan><tspan x="118" dy="18">character varying(3)</tspan><tspan x="118" dy="18">character varying(3)</tspan><tspan x="118" dy="18">character varying(3)</tspan><tspan x="118" dy="18">date</tspan><tspan x="118" dy="18">date</tspan><tspan x="118" dy="18">date</tspan><tspan x="118" dy="18">character varying(254)</tspan><tspan x="118" dy="18">integer</tspan><tspan x="118" dy="18">integer</tspan><tspan x="118" dy="18">character varying(254)</tspan><tspan x="118" dy="18">numeric(8,2)</tspan><tspan x="118" dy="18">integer</tspan><tspan x="118" dy="18">numeric(3,0)</tspan><tspan x="118" dy="18">character varying(254)</tspan><tspan x="118" dy="18">timestamp</tspan><tspan x="118" dy="18">timestamp</tspan><tspan x="118" dy="18">character varying(254)</tspan><tspan x="118" dy="18">date</tspan><tspan x="118" dy="18">character varying(254)</tspan></text>
<text class="g"><tspan x="384" y="38.5">« pk nn »</tspan><tspan x="384" y="56.5">« uq nn »</tspan><tspan x="384" y="110.5">« fk »</tspan><tspan x="384" y="200.5">« fk »</tspan><tspan x="384" y="218.5">« fk »</tspan><tspan x="384" y="236.5">« fk »</tspan><tspan x="384" y="254.5">« fk »</tspan><tspan x="384" y="272.5">« fk nn »</tspan><tspan x="384" y="290.5">« fk »</tspan><tspan x="384" y="362.5">« fk nn »</tspan></text>
<text class="x"><tspan x="17" y="600.5">cd_code_idx</tspan><tspan x="17" dy="18">cd_cd_code_idx</tspan><tspan x="17" dy="18">cd_prop_idx</tspan><tspan x="17" dy="18">cd_gest_idx</tspan><tspan x="17" dy="18">cd_proptyp_idx</tspan><tspan x="17" dy="18">cd_statut_idx</tspan><tspan x="17" dy="18">cd_etat_idx</tspan></text><text class="y"><tspan x="137" y="600.5">index</tspan><tspan x="137" dy="18">index</tspan><tspan x="137" dy="18">index</tspan><tspan x="137" dy="18">index</tspan><tspan x="137" dy="18">index</tspan><tspan x="137" dy="18">index</tspan><tspan x="137" dy="18">index</tspan></text></g>
<g id="t_cond_chem" transform="translate(1390,3956)"><rect class="sh" x="4" y="4" width="420" height="153"/><rect class="bd" width="420" height="153"/><rect class="hd" width="420" height="23"/><rect fill="url(#po)" y="24.3" width="16" height="126"/><use href="#k" y="33.3"/><use href="#k" y="51.3"/><rect class="ol" width="420" height="153"/><text class="T" x="210" y="17"><tspan class="s">gracethd.</tspan>t_cond_chem</text>
<text><tspan class="p" x="17" y="38.5">dm_cd_code</tspan><tspan class="p" x="17" dy="18">dm_cm_code</tspan><tspan x="17" dy="18">dm_creadat</tspan><tspan x="17" dy="18">dm_majdate</tspan><tspan x="17" dy="18">dm_majsrc</tspan><tspan x="17" dy="18">dm_abddate</tspan><tspan x="17" dy="18">dm_abdsrc</tspan></text>
<text class="y"><tspan x="130" y="38.5">character varying(254)</tspan><tspan x="130" dy="18">character varying(254)</tspan><tspan x="130" dy="18">timestamp</tspan><tspan x="130" dy="18">timestamp</tspan><tspan x="130" dy="18">character varying(254)</tspan><tspan x="130" dy="18">date</tspan><tspan x="130" dy="18">character varying(254)</tspan></text>
<text class="g"><tspan x="415" y="38.5">« pk fk nn »</tspan><tspan x="415" y="56.5">« pk fk nn »</tspan></text></g>
<g id="t_masque" transform="translate(1861,3956)"><rect class="sh" x="4" y="4" width="397" height="282"/><rect class="bd" width="397" height="259.3"/><rect class="ix" y="259.3" width="397" height="22.7"/><rect class="hd" width="397" height="23"/><rect fill="url(#po)" y="24.3" width="16" height="234"/><rect fill="url(#pi)" y="262.3" width="16" height="18"/><use href="#k" y="33.3"/><use href="#f" y="51.3"/><use href="#f" y="69.3"/><use href="#n" y="87.3"/><use href="#n" y="105.3"/><use href="#f" y="123.3"/><use href="#f" y="141.3"/><path class="sp" d="M0 259.3h397"/><rect class="ol" width="397" height="282"/><text class="T" x="198.5" y="17"><tspan class="s">gracethd.</tspan>t_masque</text>
<text><tspan class="p" x="17" y="38.5">mq_id</tspan><tspan class="f" x="17" dy="18">mq_nd_code</tspan><tspan class="f" x="17" dy="18">mq_face</tspan><tspan class="f" x="17" dy="18">mq_col</tspan><tspan class="f" x="17" dy="18">mq_ligne</tspan><tspan class="f" x="17" dy="18">mq_cd_code</tspan><tspan class="f" x="17" dy="18">mq_qualinf</tspan><tspan x="17" dy="18">mq_comment</tspan><tspan x="17" dy="18">mq_creadat</tspan><tspan x="17" dy="18">mq_majdate</tspan><tspan x="17" dy="18">mq_majsrc</tspan><tspan x="17" dy="18">mq_abddate</tspan><tspan x="17" dy="18">mq_abdsrc</tspan></text>
<text class="y"><tspan x="125" y="38.5">integer</tspan><tspan x="125" dy="18">character varying(254)</tspan><tspan x="125" dy="18">character varying</tspan><tspan x="125" dy="18">integer</tspan><tspan x="125" dy="18">integer</tspan><tspan x="125" dy="18">character varying(254)</tspan><tspan x="125" dy="18">character varying(3)</tspan><tspan x="125" dy="18">character varying(254)</tspan><tspan x="125" dy="18">timestamp</tspan><tspan x="125" dy="18">timestamp</tspan><tspan x="125" dy="18">character varying(254)</tspan><tspan x="125" dy="18">date</tspan><tspan x="125" dy="18">character varying(254)</tspan></text>
<text class="g"><tspan x="392" y="38.5">« pk nn »</tspan><tspan x="392" y="56.5">« fk nn »</tspan><tspan x="392" y="74.5">« fk nn »</tspan><tspan x="392" y="92.5">« nn »</tspan><tspan x="392" y="110.5">« nn »</tspan><tspan x="392" y="128.5">« fk »</tspan><tspan x="392" y="146.5">« fk »</tspan><tspan x="392" y="276.5">« u »</tspan></text>
<text class="x" x="17" y="276.5">mq_alveole_idx</text><text class="y" x="137" y="276.5">index</text></g>
<g id="t_cable" transform="translate(6,5046)"><rect class="sh" x="4" y="4" width="445" height="912"/><rect class="bd" width="445" height="727.3"/><rect class="ix" y="727.3" width="445" height="184.7"/><rect class="hd" width="445" height="23"/><rect fill="url(#po)" y="24.3" width="16" height="702"/><rect fill="url(#pi)" y="730.3" width="16" height="180"/><use href="#k" y="33.3"/><use href="#u" y="51.3"/><use href="#f" y="105.3"/><use href="#f" y="123.3"/><use href="#f" y="213.3"/><use href="#f" y="231.3"/><use href="#f" y="249.3"/><use href="#f" y="267.3"/><use href="#f" y="285.3"/><use href="#f" y="303.3"/><use href="#f" y="357.3"/><use href="#f" y="375.3"/><use href="#f" y="393.3"/><use href="#f" y="555.3"/><use href="#f" y="591.3"/><use href="#n" y="717.3"/><path class="sp" d="M0 727.3h445"/><rect class="ol" width="445" height="912"/><text class="T" x="222.5" y="17"><tspan class="s">gracethd.</tspan>t_cable</text>
<text><tspan class="p" x="17" y="38.5">cb_id</tspan><tspan x="17" dy="18">cb_code</tspan><tspan x="17" dy="18">cb_codeext</tspan><tspan x="17" dy="18">cb_etiquet</tspan><tspan class="f" x="17" dy="18">cb_bp1</tspan><tspan class="f" x="17" dy="18">cb_bp2</tspan><tspan x="17" dy="18">cb_r1_code</tspan><tspan x="17" dy="18">cb_r2_code</tspan><tspan x="17" dy="18">cb_r3_code</tspan><tspan x="17" dy="18">cb_r4_code</tspan><tspan class="f" x="17" dy="18">cb_prop</tspan><tspan class="f" x="17" dy="18">cb_gest</tspan><tspan class="f" x="17" dy="18">cb_user</tspan><tspan class="f" x="17" dy="18">cb_proptyp</tspan><tspan class="f" x="17" dy="18">cb_statut</tspan><tspan class="f" x="17" dy="18">cb_etat</tspan><tspan x="17" dy="18">cb_dateins</tspan><tspan x="17" dy="18">cb_datemes</tspan><tspan class="f" x="17" dy="18">cb_tech</tspan><tspan class="f" x="17" dy="18">cb_type</tspan><tspan class="f" x="17" dy="18">cb_rf_code</tspan><tspan x="17" dy="18">cb_capafo</tspan><tspan x="17" dy="18">cb_fo_disp</tspan><tspan x="17" dy="18">cb_modulo</tspan><tspan x="17" dy="18">cb_diam</tspan><tspan x="17" dy="18">cb_color</tspan><tspan x="17" dy="18">cb_long</tspan><tspan x="17" dy="18">cb_lgreel</tspan><tspan x="17" dy="18">cb_comment</tspan><tspan class="f" x="17" dy="18">cb_dtclass</tspan><tspan x="17" dy="18">cb_geolqlt</tspan><tspan class="f" x="17" dy="18">cb_geolmod</tspan><tspan x="17" dy="18">cb_geolsrc</tspan><tspan x="17" dy="18">cb_creadat</tspan><tspan x="17" dy="18">cb_majdate</tspan><tspan x="17" dy="18">cb_majsrc</tspan><tspan x="17" dy="18">cb_abddate</tspan><tspan x="17" dy="18">cb_abdsrc</tspan><tspan class="f" x="17" dy="18">geom</tspan></text>
<text class="y"><tspan x="118" y="38.5">integer</tspan><tspan x="118" dy="18">character varying(254)</tspan><tspan x="118" dy="18">character varying(254)</tspan><tspan x="118" dy="18">character varying(254)</tspan><tspan x="118" dy="18">character varying(254)</tspan><tspan x="118" dy="18">character varying(254)</tspan><tspan x="118" dy="18">character varying(100)</tspan><tspan x="118" dy="18">character varying(100)</tspan><tspan x="118" dy="18">character varying(100)</tspan><tspan x="118" dy="18">character varying(100)</tspan><tspan x="118" dy="18">character varying(254)</tspan><tspan x="118" dy="18">character varying(254)</tspan><tspan x="118" dy="18">character varying(254)</tspan><tspan x="118" dy="18">character varying(3)</tspan><tspan x="118" dy="18">character varying(3)</tspan><tspan x="118" dy="18">character varying(3)</tspan><tspan x="118" dy="18">date</tspan><tspan x="118" dy="18">date</tspan><tspan x="118" dy="18">character varying(3)</tspan><tspan x="118" dy="18">character varying</tspan><tspan x="118" dy="18">character varying(254)</tspan><tspan x="118" dy="18">integer</tspan><tspan x="118" dy="18">integer</tspan><tspan x="118" dy="18">integer</tspan><tspan x="118" dy="18">numeric</tspan><tspan x="118" dy="18">character varying(254)</tspan><tspan x="118" dy="18">numeric</tspan><tspan x="118" dy="18">numeric</tspan><tspan x="118" dy="18">character varying(254)</tspan><tspan x="118" dy="18">character varying(2)</tspan><tspan x="118" dy="18">numeric(6,2)</tspan><tspan x="118" dy="18">character varying(4)</tspan><tspan x="118" dy="18">character varying(254)</tspan><tspan x="118" dy="18">timestamp</tspan><tspan x="118" dy="18">timestamp</tspan><tspan x="118" dy="18">character varying(254)</tspan><tspan x="118" dy="18">date</tspan><tspan x="118" dy="18">character varying(254)</tspan><tspan x="118" dy="18">geometry(LINESTRING, 2154)</tspan></text>
<text class="g"><tspan x="440" y="38.5">« pk nn »</tspan><tspan x="440" y="56.5">« uq nn »</tspan><tspan x="440" y="110.5">« fk »</tspan><tspan x="440" y="128.5">« fk »</tspan><tspan x="440" y="218.5">« fk »</tspan><tspan x="440" y="236.5">« fk »</tspan><tspan x="440" y="254.5">« fk »</tspan><tspan x="440" y="272.5">« fk »</tspan><tspan x="440" y="290.5">« fk nn »</tspan><tspan x="440" y="308.5">« fk »</tspan><tspan x="440" y="362.5">« fk »</tspan><tspan x="440" y="380.5">« fk nn »</tspan><tspan x="440" y="398.5">« fk »</tspan><tspan x="440" y="560.5">« fk »</tspan><tspan x="440" y="596.5">« fk »</tspan><tspan x="440" y="722.5">« nn »</tspan></text>
<text class="x"><tspan x="17" y="744.5">t_cable_geom_gist</tspan><tspan x="17" dy="18">cb_code_idx</tspan><tspan x="17" dy="18">cb_bp1_idx</tspan><tspan x="17" dy="18">cb_bp2_idx</tspan><tspan x="17" dy="18">cb_prop_idx</tspan><tspan x="17" dy="18">cb_gest_idx</tspan><tspan x="17" dy="18">cb_proptyp_idx</tspan><tspan x="17" dy="18">cb_statut_idx</tspan><tspan x="17" dy="18">cb_etat_idx</tspan><tspan x="17" dy="18">cb_type_idx</tspan></text><text class="y"><tspan x="158" y="744.5">index</tspan><tspan x="158" dy="18">index</tspan><tspan x="158" dy="18">index</tspan><tspan x="158" dy="18">index</tspan><tspan x="158" dy="18">index</tspan><tspan x="158" dy="18">index</tspan><tspan x="158" dy="18">index</tspan><tspan x="158" dy="18">index</tspan><tspan x="158" dy="18">index</tspan><tspan x="158" dy="18">index</tspan></text></g>
<g id="t_cab_cond" transform="translate(502,5046)"><rect class="sh" x="4" y="4" width="406" height="153"/><rect class="bd" width="406" height="153"/><rect class="hd" width="406" height="23"/><rect fill="url(#po)" y="24.3" width="16" height="126"/><use href="#k" y="33.3"/><use href="#k" y="51.3"/><rect class="ol" width="406" height="153"/><text class="T" x="203" y="17"><tspan class="s">gracethd.</tspan>t_cab_cond</text>
<text><tspan class="p" x="17" y="38.5">cc_cb_code</tspan><tspan class="p" x="17" dy="18">cc_cd_code</tspan><tspan x="17" dy="18">cc_creadat</tspan><tspan x="17" dy="18">cc_majdate</tspan><tspan x="17" dy="18">cc_majsrc</tspan><tspan x="17" dy="18">cc_abddate</tspan><tspan x="17" dy="18">cc_abdsrc</tspan></text>
<text class="y"><tspan x="117" y="38.5">character varying(254)</tspan><tspan x="117" dy="18">character varying(254)</tspan><tspan x="117" dy="18">timestamp</tspan><tspan x="117" dy="18">timestamp</tspan><tspan x="117" dy="18">character varying(254)</tspan><tspan x="117" dy="18">date</tspan><tspan x="117" dy="18">character varying(254)</tspan></text>
<text class="g"><tspan x="401" y="38.5">« pk fk nn »</tspan><tspan x="401" y="56.5">« pk fk nn »</tspan></text></g>
<g id="t_love" transform="translate(960,5046)"><rect class="sh" x="4" y="4" width="375" height="210"/><rect class="bd" width="375" height="187.3"/><rect class="ix" y="187.3" width="375" height="22.7"/><rect class="hd" width="375" height="23"/><rect fill="url(#po)" y="24.3" width="16" height="162"/><rect fill="url(#pi)" y="190.3" width="16" height="18"/><use href="#k" y="33.3"/><use href="#f" y="51.3"/><use href="#f" y="69.3"/><path class="sp" d="M0 187.3h375"/><rect class="ol" width="375" height="210"/><text class="T" x="187.5" y="17"><tspan class="s">gracethd.</tspan>t_love</text>
<text><tspan class="p" x="17" y="38.5">lv_id</tspan><tspan class="f" x="17" dy="18">lv_cb_code</tspan><tspan class="f" x="17" dy="18">lv_nd_code</tspan><tspan x="17" dy="18">lv_long</tspan><tspan x="17" dy="18">lv_creadat</tspan><tspan x="17" dy="18">lv_majdate</tspan><tspan x="17" dy="18">lv_majsrc</tspan><tspan x="17" dy="18">lv_abddate</tspan><tspan x="17" dy="18">lv_abdsrc</tspan></text>
<text class="y"><tspan x="104" y="38.5">integer</tspan><tspan x="104" dy="18">character varying(254)</tspan><tspan x="104" dy="18">character varying(254)</tspan><tspan x="104" dy="18">integer</tspan><tspan x="104" dy="18">timestamp</tspan><tspan x="104" dy="18">timestamp</tspan><tspan x="104" dy="18">character varying(254)</tspan><tspan x="104" dy="18">date</tspan><tspan x="104" dy="18">character varying(254)</tspan></text>
<text class="g"><tspan x="370" y="38.5">« pk nn »</tspan><tspan x="370" y="56.5">« fk nn »</tspan><tspan x="370" y="74.5">« fk nn »</tspan><tspan x="370" y="204.5">« u »</tspan></text>
<text class="x" x="17" y="204.5">lv_unique_idx</text><text class="y" x="104" y="204.5">index</text></g>
<g id="t_fibre" transform="translate(1387,5046)"><rect class="sh" x="4" y="4" width="386" height="444"/><rect class="bd" width="386" height="349.3"/><rect class="ix" y="349.3" width="386" height="94.7"/><rect class="hd" width="386" height="23"/><rect fill="url(#po)" y="24.3" width="16" height="324"/><rect fill="url(#pi)" y="352.3" width="16" height="90"/><use href="#k" y="33.3"/><use href="#u" y="51.3"/><use href="#f" y="87.3"/><use href="#f" y="159.3"/><use href="#f" y="177.3"/><use href="#f" y="195.3"/><use href="#f" y="213.3"/><use href="#f" y="231.3"/><path class="sp" d="M0 349.3h386"/><rect class="ol" width="386" height="444"/><text class="T" x="193" y="17"><tspan class="s">gracethd.</tspan>t_fibre</text>
<text><tspan class="p" x="17" y="38.5">fo_id</tspan><tspan x="17" dy="18">fo_code</tspan><tspan x="17" dy="18">fo_code_ext</tspan><tspan class="f" x="17" dy="18">fo_cb_code</tspan><tspan x="17" dy="18">fo_nincab</tspan><tspan x="17" dy="18">fo_numtub</tspan><tspan x="17" dy="18">fo_nintub</tspan><tspan class="f" x="17" dy="18">fo_type</tspan><tspan class="f" x="17" dy="18">fo_etat</tspan><tspan class="f" x="17" dy="18">fo_color</tspan><tspan class="f" x="17" dy="18">fo_reper</tspan><tspan class="f" x="17" dy="18">fo_proptyp</tspan><tspan x="17" dy="18">fo_comment</tspan><tspan x="17" dy="18">fo_creadat</tspan><tspan x="17" dy="18">fo_majdate</tspan><tspan x="17" dy="18">fo_majsrc</tspan><tspan x="17" dy="18">fo_abddate</tspan><tspan x="17" dy="18">fo_abdsrc</tspan></text>
<text class="y"><tspan x="115" y="38.5">integer</tspan><tspan x="115" dy="18">character varying(254)</tspan><tspan x="115" dy="18">character varying(254)</tspan><tspan x="115" dy="18">character varying(254)</tspan><tspan x="115" dy="18">integer</tspan><tspan x="115" dy="18">integer</tspan><tspan x="115" dy="18">integer</tspan><tspan x="115" dy="18">character varying(20)</tspan><tspan x="115" dy="18">character varying(3)</tspan><tspan x="115" dy="18">character varying(3)</tspan><tspan x="115" dy="18">character varying(5)</tspan><tspan x="115" dy="18">character varying(3)</tspan><tspan x="115" dy="18">character varying(254)</tspan><tspan x="115" dy="18">timestamp</tspan><tspan x="115" dy="18">timestamp</tspan><tspan x="115" dy="18">character varying(254)</tspan><tspan x="115" dy="18">date</tspan><tspan x="115" dy="18">character varying(254)</tspan></text>
<text class="g"><tspan x="381" y="38.5">« pk nn »</tspan><tspan x="381" y="56.5">« uq nn »</tspan><tspan x="381" y="92.5">« fk nn »</tspan><tspan x="381" y="164.5">« fk »</tspan><tspan x="381" y="182.5">« fk »</tspan><tspan x="381" y="200.5">« fk »</tspan><tspan x="381" y="218.5">« fk »</tspan><tspan x="381" y="236.5">« fk »</tspan></text>
<text class="x"><tspan x="17" y="366.5">fo_code_idx</tspan><tspan x="17" dy="18">fo_cb_code_idx</tspan><tspan x="17" dy="18">fo_type_idx</tspan><tspan x="17" dy="18">fo_etat_idx</tspan><tspan x="17" dy="18">fo_proptyp_idx</tspan></text><text class="y"><tspan x="134" y="366.5">index</tspan><tspan x="134" dy="18">index</tspan><tspan x="134" dy="18">index</tspan><tspan x="134" dy="18">index</tspan><tspan x="134" dy="18">index</tspan></text></g>
<g id="t_position" transform="translate(1824,5046)"><rect class="sh" x="4" y="4" width="391" height="498"/><rect class="bd" width="391" height="331.3"/><rect class="ix" y="331.3" width="391" height="166.7"/><rect class="hd" width="391" height="23"/><rect fill="url(#po)" y="24.3" width="16" height="306"/><rect fill="url(#pi)" y="334.3" width="16" height="162"/><use href="#k" y="33.3"/><use href="#u" y="51.3"/><use href="#f" y="87.3"/><use href="#f" y="105.3"/><use href="#f" y="123.3"/><use href="#f" y="141.3"/><use href="#f" y="159.3"/><use href="#f" y="177.3"/><use href="#f" y="195.3"/><path class="sp" d="M0 331.3h391"/><rect class="ol" width="391" height="498"/><text class="T" x="195.5" y="17"><tspan class="s">gracethd.</tspan>t_position</text>
<text><tspan class="p" x="17" y="38.5">ps_id</tspan><tspan x="17" dy="18">ps_code</tspan><tspan x="17" dy="18">ps_numero</tspan><tspan class="f" x="17" dy="18">ps_1</tspan><tspan class="f" x="17" dy="18">ps_2</tspan><tspan class="f" x="17" dy="18">ps_cs_code</tspan><tspan class="f" x="17" dy="18">ps_ti_code</tspan><tspan class="f" x="17" dy="18">ps_type</tspan><tspan class="f" x="17" dy="18">ps_fonct</tspan><tspan class="f" x="17" dy="18">ps_etat</tspan><tspan x="17" dy="18">ps_preaff</tspan><tspan x="17" dy="18">ps_comment</tspan><tspan x="17" dy="18">ps_creadat</tspan><tspan x="17" dy="18">ps_majdate</tspan><tspan x="17" dy="18">ps_majsrc</tspan><tspan x="17" dy="18">ps_abddate</tspan><tspan x="17" dy="18">ps_abdsrc</tspan></text>
<text class="y"><tspan x="119" y="38.5">integer</tspan><tspan x="119" dy="18">character varying(254)</tspan><tspan x="119" dy="18">integer</tspan><tspan x="119" dy="18">character varying(254)</tspan><tspan x="119" dy="18">character varying(254)</tspan><tspan x="119" dy="18">character varying(254)</tspan><tspan x="119" dy="18">character varying(254)</tspan><tspan x="119" dy="18">character varying(10)</tspan><tspan x="119" dy="18">character varying(3)</tspan><tspan x="119" dy="18">character varying(2)</tspan><tspan x="119" dy="18">character varying(50)</tspan><tspan x="119" dy="18">character varying(254)</tspan><tspan x="119" dy="18">timestamp</tspan><tspan x="119" dy="18">timestamp</tspan><tspan x="119" dy="18">character varying(254)</tspan><tspan x="119" dy="18">date</tspan><tspan x="119" dy="18">character varying(254)</tspan></text>
<text class="g"><tspan x="386" y="38.5">« pk nn »</tspan><tspan x="386" y="56.5">« uq nn »</tspan><tspan x="386" y="92.5">« fk »</tspan><tspan x="386" y="110.5">« fk »</tspan><tspan x="386" y="128.5">« fk »</tspan><tspan x="386" y="146.5">« fk »</tspan><tspan x="386" y="164.5">« fk »</tspan><tspan x="386" y="182.5">« fk »</tspan><tspan x="386" y="200.5">« fk »</tspan></text>
<text class="x"><tspan x="17" y="348.5">ps_code_idx</tspan><tspan x="17" dy="18">ps_numero_idx</tspan><tspan x="17" dy="18">ps_1_idx</tspan><tspan x="17" dy="18">ps_2_idx</tspan><tspan x="17" dy="18">ps_cs_code_idx</tspan><tspan x="17" dy="18">ps_ti_code_idx</tspan><tspan x="17" dy="18">ps_type_idx</tspan><tspan x="17" dy="18">ps_fonct_idx</tspan><tspan x="17" dy="18">ps_etat_idx</tspan></text><text class="y"><tspan x="138" y="348.5">index</tspan><tspan x="138" dy="18">index</tspan><tspan x="138" dy="18">index</tspan><tspan x="138" dy="18">index</tspan><tspan x="138" dy="18">index</tspan><tspan x="138" dy="18">index</tspan><tspan x="138" dy="18">index</tspan><tspan x="138" dy="18">index</tspan><tspan x="138" dy="18">index</tspan></text></g>
<g id="t_ropt" transform="translate(6,6009)"><rect class="sh" x="4" y="4" width="385" height="246"/><rect class="bd" width="385" height="205.3"/><rect class="ix" y="205.3" width="385" height="40.7"/><rect class="hd" width="385" height="23"/><rect fill="url(#po)" y="24.3" width="16" height="180"/><rect fill="url(#pi)" y="208.3" width="16" height="36"/><use href="#k" y="33.3"/><use href="#n" y="51.3"/><use href="#f" y="87.3"/><path class="sp" d="M0 205.3h385"/><rect class="ol" width="385" height="246"/><text class="T" x="192.5" y="17"><tspan class="s">gracethd.</tspan>t_ropt</text>
<text><tspan class="p" x="17" y="38.5">rt_id</tspan><tspan x="17" dy="18">rt_code</tspan><tspan x="17" dy="18">rt_code_ext</tspan><tspan class="f" x="17" dy="18">rt_fo_code</tspan><tspan x="17" dy="18">rt_comment</tspan><tspan x="17" dy="18">rt_creadat</tspan><tspan x="17" dy="18">rt_majdate</tspan><tspan x="17" dy="18">rt_majsrc</tspan><tspan x="17" dy="18">rt_abddate</tspan><tspan x="17" dy="18">rt_abdsrc</tspan></text>
<text class="y"><tspan x="113" y="38.5">integer</tspan><tspan x="113" dy="18">character varying(254)</tspan><tspan x="113" dy="18">character varying(254)</tspan><tspan x="113" dy="18">character varying(254)</tspan><tspan x="113" dy="18">character varying(254)</tspan><tspan x="113" dy="18">timestamp</tspan><tspan x="113" dy="18">timestamp</tspan><tspan x="113" dy="18">character varying(254)</tspan><tspan x="113" dy="18">date</tspan><tspan x="113" dy="18">character varying(254)</tspan></text>
<text class="g"><tspan x="380" y="38.5">« pk nn »</tspan><tspan x="380" y="56.5">« nn »</tspan><tspan x="380" y="92.5">« fk »</tspan></text>
<text class="x"><tspan x="17" y="222.5">rt_code_idx</tspan><tspan x="17" dy="18">rt_fo_code_idx</tspan></text><text class="y"><tspan x="130" y="222.5">index</tspan><tspan x="130" dy="18">index</tspan></text></g>
<g id="t_siteemission" transform="translate(442,6009)"><rect class="sh" x="4" y="4" width="403" height="552"/><rect class="bd" width="403" height="385.3"/><rect class="ix" y="385.3" width="403" height="166.7"/><rect class="hd" width="403" height="23"/><rect fill="url(#po)" y="24.3" width="16" height="360"/><rect fill="url(#pi)" y="388.3" width="16" height="162"/><use href="#k" y="33.3"/><use href="#f" y="51.3"/><use href="#f" y="87.3"/><use href="#f" y="105.3"/><use href="#f" y="123.3"/><use href="#f" y="141.3"/><use href="#f" y="159.3"/><use href="#f" y="177.3"/><use href="#f" y="195.3"/><use href="#f" y="249.3"/><use href="#f" y="285.3"/><path class="sp" d="M0 385.3h403"/><rect class="ol" width="403" height="552"/><text class="T" x="201.5" y="17"><tspan class="s">gracethd.</tspan>t_siteemission</text>
<text><tspan class="p" x="17" y="38.5">se_id</tspan><tspan class="f" x="17" dy="18">se_nd_code</tspan><tspan x="17" dy="18">se_anfr</tspan><tspan class="f" x="17" dy="18">se_prop</tspan><tspan class="f" x="17" dy="18">se_gest</tspan><tspan class="f" x="17" dy="18">se_user</tspan><tspan class="f" x="17" dy="18">se_proptyp</tspan><tspan class="f" x="17" dy="18">se_statut</tspan><tspan class="f" x="17" dy="18">se_etat</tspan><tspan class="f" x="17" dy="18">se_occp</tspan><tspan x="17" dy="18">se_dateins</tspan><tspan x="17" dy="18">se_datemes</tspan><tspan class="f" x="17" dy="18">se_type</tspan><tspan x="17" dy="18">se_haut</tspan><tspan class="f" x="17" dy="18">se_ad_code</tspan><tspan x="17" dy="18">se_creadat</tspan><tspan x="17" dy="18">se_majdate</tspan><tspan x="17" dy="18">se_majsrc</tspan><tspan x="17" dy="18">se_abddate</tspan><tspan x="17" dy="18">se_abdsrc</tspan></text>
<text class="y"><tspan x="113" y="38.5">integer</tspan><tspan x="113" dy="18">character varying(254)</tspan><tspan x="113" dy="18">character varying(50)</tspan><tspan x="113" dy="18">character varying(20)</tspan><tspan x="113" dy="18">character varying(20)</tspan><tspan x="113" dy="18">character varying(20)</tspan><tspan x="113" dy="18">character varying(3)</tspan><tspan x="113" dy="18">character varying(3)</tspan><tspan x="113" dy="18">character varying(3)</tspan><tspan x="113" dy="18">character varying(10)</tspan><tspan x="113" dy="18">date</tspan><tspan x="113" dy="18">date</tspan><tspan x="113" dy="18">character varying(254)</tspan><tspan x="113" dy="18">numeric(5,2)</tspan><tspan x="113" dy="18">character varying(254)</tspan><tspan x="113" dy="18">timestamp</tspan><tspan x="113" dy="18">timestamp</tspan><tspan x="113" dy="18">character varying(254)</tspan><tspan x="113" dy="18">date</tspan><tspan x="113" dy="18">character varying(254)</tspan></text>
<text class="g"><tspan x="398" y="38.5">« pk nn »</tspan><tspan x="398" y="56.5">« uq fk nn »</tspan><tspan x="398" y="92.5">« fk »</tspan><tspan x="398" y="110.5">« fk »</tspan><tspan x="398" y="128.5">« fk »</tspan><tspan x="398" y="146.5">« fk »</tspan><tspan x="398" y="164.5">« fk nn »</tspan><tspan x="398" y="182.5">« fk nn »</tspan><tspan x="398" y="200.5">« fk »</tspan><tspan x="398" y="254.5">« fk nn »</tspan><tspan x="398" y="290.5">« fk »</tspan></text>
<text class="x"><tspan x="17" y="402.5">se_nd_code_idx</tspan><tspan x="17" dy="18">se_anfr_idx</tspan><tspan x="17" dy="18">se_prop_idx</tspan><tspan x="17" dy="18">se_gest_idx</tspan><tspan x="17" dy="18">se_proptyp_idx</tspan><tspan x="17" dy="18">se_statut_idx</tspan><tspan x="17" dy="18">se_etat_idx</tspan><tspan x="17" dy="18">se_type_idx</tspan><tspan x="17" dy="18">se_ad_code_idx</tspan></text><text class="y"><tspan x="139" y="402.5">index</tspan><tspan x="139" dy="18">index</tspan><tspan x="139" dy="18">index</tspan><tspan x="139" dy="18">index</tspan><tspan x="139" dy="18">index</tspan><tspan x="139" dy="18">index</tspan><tspan x="139" dy="18">index</tspan><tspan x="139" dy="18">index</tspan><tspan x="139" dy="18">index</tspan></text></g>
<g id="t_znro" transform="translate(896,6009)"><rect class="sh" x="4" y="4" width="474" height="516"/><rect class="bd" width="474" height="385.3"/><rect class="ix" y="385.3" width="474" height="130.7"/><rect class="hd" width="474" height="23"/><rect fill="url(#po)" y="24.3" width="16" height="360"/><rect fill="url(#pi)" y="388.3" width="16" height="126"/><use href="#k" y="33.3"/><use href="#u" y="51.3"/><use href="#f" y="69.3"/><use href="#f" y="177.3"/><use href="#f" y="195.3"/><use href="#f" y="213.3"/><path class="sp" d="M0 385.3h474"/><rect class="ol" width="474" height="516"/><text class="T" x="237" y="17"><tspan class="s">gracethd.</tspan>t_znro</text>
<text><tspan class="p" x="17" y="38.5">zn_id</tspan><tspan x="17" dy="18">zn_code</tspan><tspan class="f" x="17" dy="18">zn_nd_code</tspan><tspan x="17" dy="18">zn_r1_code</tspan><tspan x="17" dy="18">zn_r2_code</tspan><tspan x="17" dy="18">zn_r3_code</tspan><tspan x="17" dy="18">zn_r4_code</tspan><tspan x="17" dy="18">zn_nroref</tspan><tspan class="f" x="17" dy="18">zn_nrotype</tspan><tspan class="f" x="17" dy="18">zn_etat</tspan><tspan class="f" x="17" dy="18">zn_etatlpm</tspan><tspan x="17" dy="18">zn_datelpm</tspan><tspan x="17" dy="18">zn_comment</tspan><tspan x="17" dy="18">zn_geolsrc</tspan><tspan x="17" dy="18">zn_creadat</tspan><tspan x="17" dy="18">zn_majdate</tspan><tspan x="17" dy="18">zn_majsrc</tspan><tspan x="17" dy="18">zn_abddate</tspan><tspan x="17" dy="18">zn_abdsrc</tspan><tspan x="17" dy="18">geom</tspan></text>
<text class="y"><tspan x="119" y="38.5">integer</tspan><tspan x="119" dy="18">character varying(254)</tspan><tspan x="119" dy="18">character varying(254)</tspan><tspan x="119" dy="18">character varying(100)</tspan><tspan x="119" dy="18">character varying(100)</tspan><tspan x="119" dy="18">character varying(100)</tspan><tspan x="119" dy="18">character varying(100)</tspan><tspan x="119" dy="18">character varying(15)</tspan><tspan x="119" dy="18">character varying(7)</tspan><tspan x="119" dy="18">character varying(2)</tspan><tspan x="119" dy="18">character varying(2)</tspan><tspan x="119" dy="18">date</tspan><tspan x="119" dy="18">character varying(254)</tspan><tspan x="119" dy="18">character varying(254)</tspan><tspan x="119" dy="18">timestamp</tspan><tspan x="119" dy="18">timestamp</tspan><tspan x="119" dy="18">character varying(254)</tspan><tspan x="119" dy="18">date</tspan><tspan x="119" dy="18">character varying(254)</tspan><tspan x="119" dy="18">geometry(MULTIPOLYGON, 2154)</tspan></text>
<text class="g"><tspan x="469" y="38.5">« pk nn »</tspan><tspan x="469" y="56.5">« uq nn »</tspan><tspan x="469" y="74.5">« fk nn »</tspan><tspan x="469" y="182.5">« fk »</tspan><tspan x="469" y="200.5">« fk »</tspan><tspan x="469" y="218.5">« fk »</tspan></text>
<text class="x"><tspan x="17" y="402.5">t_znro_geom_gist</tspan><tspan x="17" dy="18">zn_code_idx</tspan><tspan x="17" dy="18">zn_nd_code_idx</tspan><tspan x="17" dy="18">zn_r1_code_idx</tspan><tspan x="17" dy="18">zn_r2_code_idx</tspan><tspan x="17" dy="18">zn_r3_code_idx</tspan><tspan x="17" dy="18">zn_r4_code_idx</tspan></text><text class="y"><tspan x="154" y="402.5">index</tspan><tspan x="154" dy="18">index</tspan><tspan x="154" dy="18">index</tspan><tspan x="154" dy="18">index</tspan><tspan x="154" dy="18">index</tspan><tspan x="154" dy="18">index</tspan><tspan x="154" dy="18">index</tspan></text></g>
<g id="t_zsro" transform="translate(1421,6009)"><rect class="sh" x="4" y="4" width="473" height="660"/><rect class="bd" width="473" height="529.3"/><rect class="ix" y="529.3" width="473" height="130.7"/><rect class="hd" width="473" height="23"/><rect fill="url(#po)" y="24.3" width="16" height="504"/><rect fill="url(#pi)" y="532.3" width="16" height="126"/><use href="#k" y="33.3"/><use href="#u" y="51.3"/><use href="#f" y="69.3"/><use href="#f" y="177.3"/><use href="#f" y="213.3"/><use href="#f" y="249.3"/><path class="sp" d="M0 529.3h473"/><rect class="ol" width="473" height="660"/><text class="T" x="236.5" y="17"><tspan class="s">gracethd.</tspan>t_zsro</text>
<text><tspan class="p" x="17" y="38.5">zs_id</tspan><tspan x="17" dy="18">zs_code</tspan><tspan class="f" x="17" dy="18">zs_nd_code</tspan><tspan x="17" dy="18">zs_r1_code</tspan><tspan x="17" dy="18">zs_r2_code</tspan><tspan x="17" dy="18">zs_r3_code</tspan><tspan x="17" dy="18">zs_r4_code</tspan><tspan x="17" dy="18">zs_refpm</tspan><tspan class="f" x="17" dy="18">zs_etatpm</tspan><tspan x="17" dy="18">zs_dateins</tspan><tspan class="f" x="17" dy="18">zs_typeemp</tspan><tspan x="17" dy="18">zs_capamax</tspan><tspan class="f" x="17" dy="18">zs_ad_code</tspan><tspan x="17" dy="18">zs_typeing</tspan><tspan x="17" dy="18">zs_nblogmt</tspan><tspan x="17" dy="18">zs_nbcolmt</tspan><tspan x="17" dy="18">zs_datcomr</tspan><tspan x="17" dy="18">zs_actif</tspan><tspan x="17" dy="18">zs_datemad</tspan><tspan x="17" dy="18">zs_accgest</tspan><tspan x="17" dy="18">zs_comment</tspan><tspan x="17" dy="18">zs_geolsrc</tspan><tspan x="17" dy="18">zs_creadat</tspan><tspan x="17" dy="18">zs_majdate</tspan><tspan x="17" dy="18">zs_majsrc</tspan><tspan x="17" dy="18">zs_abddate</tspan><tspan x="17" dy="18">zs_abdsrc</tspan><tspan x="17" dy="18">geom</tspan></text>
<text class="y"><tspan x="118" y="38.5">integer</tspan><tspan x="118" dy="18">character varying(254)</tspan><tspan x="118" dy="18">character varying(254)</tspan><tspan x="118" dy="18">character varying(100)</tspan><tspan x="118" dy="18">character varying(100)</tspan><tspan x="118" dy="18">character varying(100)</tspan><tspan x="118" dy="18">character varying(100)</tspan><tspan x="118" dy="18">character varying(100)</tspan><tspan x="118" dy="18">character varying(2)</tspan><tspan x="118" dy="18">date</tspan><tspan x="118" dy="18">character varying(3)</tspan><tspan x="118" dy="18">integer</tspan><tspan x="118" dy="18">character varying(100)</tspan><tspan x="118" dy="18">character varying(6)</tspan><tspan x="118" dy="18">integer</tspan><tspan x="118" dy="18">integer</tspan><tspan x="118" dy="18">date</tspan><tspan x="118" dy="18">boolean</tspan><tspan x="118" dy="18">date</tspan><tspan x="118" dy="18">boolean</tspan><tspan x="118" dy="18">character varying(254)</tspan><tspan x="118" dy="18">character varying(254)</tspan><tspan x="118" dy="18">timestamp</tspan><tspan x="118" dy="18">timestamp</tspan><tspan x="118" dy="18">character varying(254)</tspan><tspan x="118" dy="18">date</tspan><tspan x="118" dy="18">character varying(254)</tspan><tspan x="118" dy="18">geometry(MULTIPOLYGON, 2154)</tspan></text>
<text class="g"><tspan x="468" y="38.5">« pk nn »</tspan><tspan x="468" y="56.5">« uq nn »</tspan><tspan x="468" y="74.5">« fk nn »</tspan><tspan x="468" y="182.5">« fk »</tspan><tspan x="468" y="218.5">« fk »</tspan><tspan x="468" y="254.5">« fk »</tspan></text>
<text class="x"><tspan x="17" y="546.5">t_zsro_geom_gist</tspan><tspan x="17" dy="18">zs_code_idx</tspan><tspan x="17" dy="18">zs_nd_code_idx</tspan><tspan x="17" dy="18">zs_r1_code_idx</tspan><tspan x="17" dy="18">zs_r2_code_idx</tspan><tspan x="17" dy="18">zs_r3_code_idx</tspan><tspan x="17" dy="18">zs_r4_code_idx</tspan></text><text class="y"><tspan x="152" y="546.5">index</tspan><tspan x="152" dy="18">index</tspan><tspan x="152" dy="18">index</tspan><tspan x="152" dy="18">index</tspan><tspan x="152" dy="18">index</tspan><tspan x="152" dy="18">index</tspan><tspan x="152" dy="18">index</tspan></text></g>
<g id="t_zpbo" transform="translate(1945,6009)"><rect class="sh" x="4" y="4" width="474" height="462"/><rect class="bd" width="474" height="313.3"/><rect class="ix" y="313.3" width="474" height="148.7"/><rect class="hd" width="474" height="23"/><rect fill="url(#po)" y="24.3" width="16" height="288"/><rect fill="url(#pi)" y="316.3" width="16" height="144"/><use href="#k" y="33.3"/><use href="#u" y="51.3"/><use href="#f" y="69.3"/><use href="#f" y="87.3"/><path class="sp" d="M0 313.3h474"/><rect class="ol" width="474" height="462"/><text class="T" x="237" y="17"><tspan class="s">gracethd.</tspan>t_zpbo</text>
<text><tspan class="p" x="17" y="38.5">zp_id</tspan><tspan x="17" dy="18">zp_code</tspan><tspan class="f" x="17" dy="18">zp_nd_code</tspan><tspan class="f" x="17" dy="18">zp_zs_code</tspan><tspan x="17" dy="18">zp_r1_code</tspan><tspan x="17" dy="18">zp_r2_code</tspan><tspan x="17" dy="18">zp_r3_code</tspan><tspan x="17" dy="18">zp_r4_code</tspan><tspan x="17" dy="18">zp_comment</tspan><tspan x="17" dy="18">zp_geolsrc</tspan><tspan x="17" dy="18">zp_creadat</tspan><tspan x="17" dy="18">zp_majdate</tspan><tspan x="17" dy="18">zp_majsrc</tspan><tspan x="17" dy="18">zp_abddate</tspan><tspan x="17" dy="18">zp_abdsrc</tspan><tspan x="17" dy="18">geom</tspan></text>
<text class="y"><tspan x="119" y="38.5">integer</tspan><tspan x="119" dy="18">character varying(254)</tspan><tspan x="119" dy="18">character varying(254)</tspan><tspan x="119" dy="18">character varying(254)</tspan><tspan x="119" dy="18">character varying(100)</tspan><tspan x="119" dy="18">character varying(100)</tspan><tspan x="119" dy="18">character varying(100)</tspan><tspan x="119" dy="18">character varying(100)</tspan><tspan x="119" dy="18">character varying(254)</tspan><tspan x="119" dy="18">character varying(254)</tspan><tspan x="119" dy="18">timestamp</tspan><tspan x="119" dy="18">timestamp</tspan><tspan x="119" dy="18">character varying(254)</tspan><tspan x="119" dy="18">date</tspan><tspan x="119" dy="18">character varying(254)</tspan><tspan x="119" dy="18">geometry(MULTIPOLYGON, 2154)</tspan></text>
<text class="g"><tspan x="469" y="38.5">« pk nn »</tspan><tspan x="469" y="56.5">« uq nn »</tspan><tspan x="469" y="74.5">« fk nn »</tspan><tspan x="469" y="92.5">« fk »</tspan></text>
<text class="x"><tspan x="17" y="330.5">t_zpbo_geom_gist</tspan><tspan x="17" dy="18">zp_code_idx</tspan><tspan x="17" dy="18">zp_nd_code_idx</tspan><tspan x="17" dy="18">zp_zs_code_idx</tspan><tspan x="17" dy="18">zp_r1_code_idx</tspan><tspan x="17" dy="18">zp_r2_code_idx</tspan><tspan x="17" dy="18">zp_r3_code_idx</tspan><tspan x="17" dy="18">zp_r4_code_idx</tspan></text><text class="y"><tspan x="156" y="330.5">index</tspan><tspan x="156" dy="18">index</tspan><tspan x="156" dy="18">index</tspan><tspan x="156" dy="18">index</tspan><tspan x="156" dy="18">index</tspan><tspan x="156" dy="18">index</tspan><tspan x="156" dy="18">index</tspan><tspan x="156" dy="18">index</tspan></text></g>
<g id="t_zdep" transform="translate(6,6720)"><rect class="sh" x="4" y="4" width="474" height="570"/><rect class="bd" width="474" height="367.3"/><rect class="ix" y="367.3" width="474" height="202.7"/><rect class="hd" width="474" height="23"/><rect fill="url(#po)" y="24.3" width="16" height="342"/><rect fill="url(#pi)" y="370.3" width="16" height="198"/><use href="#k" y="33.3"/><use href="#u" y="51.3"/><use href="#f" y="69.3"/><use href="#f" y="87.3"/><use href="#f" y="177.3"/><use href="#f" y="195.3"/><use href="#f" y="213.3"/><path class="sp" d="M0 367.3h474"/><rect class="ol" width="474" height="570"/><text class="T" x="237" y="17"><tspan class="s">gracethd.</tspan>t_zdep</text>
<text><tspan class="p" x="17" y="38.5">zd_id</tspan><tspan x="17" dy="18">zd_code</tspan><tspan class="f" x="17" dy="18">zd_nd_code</tspan><tspan class="f" x="17" dy="18">zd_zs_code</tspan><tspan x="17" dy="18">zd_r1_code</tspan><tspan x="17" dy="18">zd_r2_code</tspan><tspan x="17" dy="18">zd_r3_code</tspan><tspan x="17" dy="18">zd_r4_code</tspan><tspan class="f" x="17" dy="18">zd_prop</tspan><tspan class="f" x="17" dy="18">zd_gest</tspan><tspan class="f" x="17" dy="18">zd_statut</tspan><tspan x="17" dy="18">zd_comment</tspan><tspan x="17" dy="18">zd_geolsrc</tspan><tspan x="17" dy="18">zd_creadat</tspan><tspan x="17" dy="18">zd_majdate</tspan><tspan x="17" dy="18">zd_majsrc</tspan><tspan x="17" dy="18">zd_abddate</tspan><tspan x="17" dy="18">zd_abdsrc</tspan><tspan x="17" dy="18">geom</tspan></text>
<text class="y"><tspan x="118" y="38.5">integer</tspan><tspan x="118" dy="18">character varying(254)</tspan><tspan x="118" dy="18">character varying(254)</tspan><tspan x="118" dy="18">character varying(254)</tspan><tspan x="118" dy="18">character varying(100)</tspan><tspan x="118" dy="18">character varying(100)</tspan><tspan x="118" dy="18">character varying(100)</tspan><tspan x="118" dy="18">character varying(100)</tspan><tspan x="118" dy="18">character varying(20)</tspan><tspan x="118" dy="18">character varying(20)</tspan><tspan x="118" dy="18">character varying(3)</tspan><tspan x="118" dy="18">character varying(254)</tspan><tspan x="118" dy="18">character varying(254)</tspan><tspan x="118" dy="18">timestamp</tspan><tspan x="118" dy="18">timestamp</tspan><tspan x="118" dy="18">character varying(254)</tspan><tspan x="118" dy="18">date</tspan><tspan x="118" dy="18">character varying(254)</tspan><tspan x="118" dy="18">geometry(MULTIPOLYGON, 2154)</tspan></text>
<text class="g"><tspan x="469" y="38.5">« pk nn »</tspan><tspan x="469" y="56.5">« uq nn »</tspan><tspan x="469" y="74.5">« fk »</tspan><tspan x="469" y="92.5">« fk »</tspan><tspan x="469" y="182.5">« fk »</tspan><tspan x="469" y="200.5">« fk »</tspan><tspan x="469" y="218.5">« fk nn »</tspan></text>
<text class="x"><tspan x="17" y="384.5">t_zdep_geom_gist</tspan><tspan x="17" dy="18">zd_code_idx</tspan><tspan x="17" dy="18">zd_nd_code_idx</tspan><tspan x="17" dy="18">zd_zs_code_idx</tspan><tspan x="17" dy="18">zd_r1_code_idx</tspan><tspan x="17" dy="18">zd_r2_code_idx</tspan><tspan x="17" dy="18">zd_r3_code_idx</tspan><tspan x="17" dy="18">zd_r4_code_idx</tspan><tspan x="17" dy="18">zd_prop_idx</tspan><tspan x="17" dy="18">zd_gest_idx</tspan><tspan x="17" dy="18">zd_statut_idx</tspan></text><text class="y"><tspan x="155" y="384.5">index</tspan><tspan x="155" dy="18">index</tspan><tspan x="155" dy="18">index</tspan><tspan x="155" dy="18">index</tspan><tspan x="155" dy="18">index</tspan><tspan x="155" dy="18">index</tspan><tspan x="155" dy="18">index</tspan><tspan x="155" dy="18">index</tspan><tspan x="155" dy="18">index</tspan><tspan x="155" dy="18">index</tspan><tspan x="155" dy="18">index</tspan></text></g>
<g id="t_zcoax" transform="translate(531,6720)"><rect class="sh" x="4" y="4" width="474" height="552"/><rect class="bd" width="474" height="367.3"/><rect class="ix" y="367.3" width="474" height="184.7"/><rect class="hd" width="474" height="23"/><rect fill="url(#po)" y="24.3" width="16" height="342"/><rect fill="url(#pi)" y="370.3" width="16" height="180"/><use href="#k" y="33.3"/><use href="#u" y="51.3"/><use href="#f" y="87.3"/><use href="#f" y="177.3"/><use href="#f" y="195.3"/><use href="#f" y="213.3"/><path class="sp" d="M0 367.3h474"/><rect class="ol" width="474" height="552"/><text class="T" x="237" y="17"><tspan class="s">gracethd.</tspan>t_zcoax</text>
<text><tspan class="p" x="17" y="38.5">zc_id</tspan><tspan x="17" dy="18">zc_code</tspan><tspan x="17" dy="18">zc_codeext</tspan><tspan class="f" x="17" dy="18">zc_nd_code</tspan><tspan x="17" dy="18">zc_r1_code</tspan><tspan x="17" dy="18">zc_r2_code</tspan><tspan x="17" dy="18">zc_r3_code</tspan><tspan x="17" dy="18">zc_r4_code</tspan><tspan class="f" x="17" dy="18">zc_prop</tspan><tspan class="f" x="17" dy="18">zc_gest</tspan><tspan class="f" x="17" dy="18">zc_statut</tspan><tspan x="17" dy="18">zc_comment</tspan><tspan x="17" dy="18">zc_geolsrc</tspan><tspan x="17" dy="18">zc_creadat</tspan><tspan x="17" dy="18">zc_majdate</tspan><tspan x="17" dy="18">zc_majsrc</tspan><tspan x="17" dy="18">zc_abddate</tspan><tspan x="17" dy="18">zc_abdsrc</tspan><tspan x="17" dy="18">geom</tspan></text>
<text class="y"><tspan x="118" y="38.5">integer</tspan><tspan x="118" dy="18">character varying(254)</tspan><tspan x="118" dy="18">character varying(254)</tspan><tspan x="118" dy="18">character varying(254)</tspan><tspan x="118" dy="18">character varying(100)</tspan><tspan x="118" dy="18">character varying(100)</tspan><tspan x="118" dy="18">character varying(100)</tspan><tspan x="118" dy="18">character varying(100)</tspan><tspan x="118" dy="18">character varying(20)</tspan><tspan x="118" dy="18">character varying(20)</tspan><tspan x="118" dy="18">character varying(3)</tspan><tspan x="118" dy="18">character varying(254)</tspan><tspan x="118" dy="18">character varying(254)</tspan><tspan x="118" dy="18">timestamp</tspan><tspan x="118" dy="18">timestamp</tspan><tspan x="118" dy="18">character varying(254)</tspan><tspan x="118" dy="18">date</tspan><tspan x="118" dy="18">character varying(254)</tspan><tspan x="118" dy="18">geometry(MULTIPOLYGON, 2154)</tspan></text>
<text class="g"><tspan x="469" y="38.5">« pk nn »</tspan><tspan x="469" y="56.5">« uq nn »</tspan><tspan x="469" y="92.5">« fk »</tspan><tspan x="469" y="182.5">« fk »</tspan><tspan x="469" y="200.5">« fk »</tspan><tspan x="469" y="218.5">« fk nn »</tspan></text>
<text class="x"><tspan x="17" y="384.5">t_zcoax_geom_gist</tspan><tspan x="17" dy="18">zc_code_idx</tspan><tspan x="17" dy="18">zc_nd_code_idx</tspan><tspan x="17" dy="18">zc_r1_code_idx</tspan><tspan x="17" dy="18">zc_r2_code_idx</tspan><tspan x="17" dy="18">zc_r3_code_idx</tspan><tspan x="17" dy="18">zc_r4_code_idx</tspan><tspan x="17" dy="18">zc_prop_idx</tspan><tspan x="17" dy="18">zc_gest_idx</tspan><tspan x="17" dy="18">zc_statut_idx</tspan></text><text class="y"><tspan x="164" y="384.5">index</tspan><tspan x="164" dy="18">index</tspan><tspan x="164" dy="18">index</tspan><tspan x="164" dy="18">index</tspan><tspan x="164" dy="18">index</tspan><tspan x="164" dy="18">index</tspan><tspan x="164" dy="18">index</tspan><tspan x="164" dy="18">index</tspan><tspan x="164" dy="18">index</tspan><tspan x="164" dy="18">index</tspan></text></g>
<g id="t_document" transform="translate(1056,6720)"><rect class="sh" x="4" y="4" width="390" height="390"/><rect class="bd" width="390" height="295.3"/><rect class="ix" y="295.3" width="390" height="94.7"/><rect class="hd" width="390" height="23"/><rect fill="url(#po)" y="24.3" width="16" height="270"/><rect fill="url(#pi)" y="298.3" width="16" height="90"/><use href="#k" y="33.3"/><use href="#u" y="51.3"/><use href="#f" y="87.3"/><path class="sp" d="M0 295.3h390"/><rect class="ol" width="390" height="390"/><text class="T" x="195" y="17"><tspan class="s">gracethd.</tspan>t_document</text>
<text><tspan class="p" x="17" y="38.5">do_id</tspan><tspan x="17" dy="18">do_ref</tspan><tspan x="17" dy="18">do_reftier</tspan><tspan class="f" x="17" dy="18">do_type</tspan><tspan x="17" dy="18">do_indice</tspan><tspan x="17" dy="18">do_date</tspan><tspan x="17" dy="18">do_classe</tspan><tspan x="17" dy="18">do_url1</tspan><tspan x="17" dy="18">do_url2</tspan><tspan x="17" dy="18">do_comment</tspan><tspan x="17" dy="18">do_creadat</tspan><tspan x="17" dy="18">do_majdate</tspan><tspan x="17" dy="18">do_majsrc</tspan><tspan x="17" dy="18">do_abddate</tspan><tspan x="17" dy="18">do_abdsrc</tspan></text>
<text class="y"><tspan x="118" y="38.5">integer</tspan><tspan x="118" dy="18">character varying(254)</tspan><tspan x="118" dy="18">character varying(254)</tspan><tspan x="118" dy="18">character varying(3)</tspan><tspan x="118" dy="18">character varying(3)</tspan><tspan x="118" dy="18">date</tspan><tspan x="118" dy="18">character varying(2)</tspan><tspan x="118" dy="18">character varying(254)</tspan><tspan x="118" dy="18">character varying(254)</tspan><tspan x="118" dy="18">character varying(254)</tspan><tspan x="118" dy="18">timestamp</tspan><tspan x="118" dy="18">timestamp</tspan><tspan x="118" dy="18">character varying(254)</tspan><tspan x="118" dy="18">date</tspan><tspan x="118" dy="18">character varying(254)</tspan></text>
<text class="g"><tspan x="385" y="38.5">« pk nn »</tspan><tspan x="385" y="56.5">« uq nn »</tspan><tspan x="385" y="92.5">« fk »</tspan></text>
<text class="x"><tspan x="17" y="312.5">do_ref_idx</tspan><tspan x="17" dy="18">do_type_idx</tspan><tspan x="17" dy="18">do_date_idx</tspan><tspan x="17" dy="18">do_url1_idx</tspan><tspan x="17" dy="18">do_url2_idx</tspan></text><text class="y"><tspan x="118" y="312.5">index</tspan><tspan x="118" dy="18">index</tspan><tspan x="118" dy="18">index</tspan><tspan x="118" dy="18">index</tspan><tspan x="118" dy="18">index</tspan></text></g>
<g id="t_docobj" transform="translate(1497,6720)"><rect class="sh" x="4" y="4" width="381" height="210"/><rect class="bd" width="381" height="187.3"/><rect class="ix" y="187.3" width="381" height="22.7"/><rect class="hd" width="381" height="23"/><rect fill="url(#po)" y="24.3" width="16" height="162"/><rect fill="url(#pi)" y="190.3" width="16" height="18"/><use href="#k" y="33.3"/><use href="#f" y="51.3"/><use href="#f" y="69.3"/><use href="#n" y="87.3"/><path class="sp" d="M0 187.3h381"/><rect class="ol" width="381" height="210"/><text class="T" x="190.5" y="17"><tspan class="s">gracethd.</tspan>t_docobj</text>
<text><tspan class="p" x="17" y="38.5">od_id</tspan><tspan class="f" x="17" dy="18">od_do_ref</tspan><tspan class="f" x="17" dy="18">od_tbltype</tspan><tspan x="17" dy="18">od_codeobj</tspan><tspan x="17" dy="18">od_creadat</tspan><tspan x="17" dy="18">od_majdate</tspan><tspan x="17" dy="18">od_majsrc</tspan><tspan x="17" dy="18">od_abddate</tspan><tspan x="17" dy="18">od_abdsrc</tspan></text>
<text class="y"><tspan x="109" y="38.5">integer</tspan><tspan x="109" dy="18">character varying(254)</tspan><tspan x="109" dy="18">character varying(10)</tspan><tspan x="109" dy="18">character varying(254)</tspan><tspan x="109" dy="18">timestamp</tspan><tspan x="109" dy="18">timestamp</tspan><tspan x="109" dy="18">character varying(254)</tspan><tspan x="109" dy="18">date</tspan><tspan x="109" dy="18">character varying(254)</tspan></text>
<text class="g"><tspan x="376" y="38.5">« pk nn »</tspan><tspan x="376" y="56.5">« fk nn »</tspan><tspan x="376" y="74.5">« fk nn »</tspan><tspan x="376" y="92.5">« nn »</tspan></text>
<text class="x" x="17" y="204.5">od_do_ref_idx</text><text class="y" x="125" y="204.5">index</text></g>
<g id="t_empreinte" transform="translate(1928,6720)"><rect class="sh" x="4" y="4" width="472" height="264"/><rect class="bd" width="472" height="205.3"/><rect class="ix" y="205.3" width="472" height="58.7"/><rect class="hd" width="472" height="23"/><rect fill="url(#po)" y="24.3" width="16" height="180"/><rect fill="url(#pi)" y="208.3" width="16" height="54"/><use href="#k" y="33.3"/><use href="#u" y="51.3"/><use href="#f" y="69.3"/><path class="sp" d="M0 205.3h472"/><rect class="ol" width="472" height="264"/><text class="T" x="236" y="17"><tspan class="s">gracethd.</tspan>t_empreinte</text>
<text><tspan class="p" x="17" y="38.5">em_id</tspan><tspan x="17" dy="18">em_code</tspan><tspan class="f" x="17" dy="18">em_do_ref</tspan><tspan x="17" dy="18">em_geolsrc</tspan><tspan x="17" dy="18">em_creadat</tspan><tspan x="17" dy="18">em_majdate</tspan><tspan x="17" dy="18">em_majsrc</tspan><tspan x="17" dy="18">em_abddate</tspan><tspan x="17" dy="18">em_abdsrc</tspan><tspan x="17" dy="18">geom</tspan></text>
<text class="y"><tspan x="115" y="38.5">integer</tspan><tspan x="115" dy="18">character varying(254)</tspan><tspan x="115" dy="18">character varying(254)</tspan><tspan x="115" dy="18">character varying(254)</tspan><tspan x="115" dy="18">timestamp</tspan><tspan x="115" dy="18">timestamp</tspan><tspan x="115" dy="18">character varying(254)</tspan><tspan x="115" dy="18">date</tspan><tspan x="115" dy="18">character varying(254)</tspan><tspan x="115" dy="18">geometry(MULTIPOLYGON, 2154)</tspan></text>
<text class="g"><tspan x="467" y="38.5">« pk nn »</tspan><tspan x="467" y="56.5">« uq »</tspan><tspan x="467" y="74.5">« fk nn »</tspan></text>
<text class="x"><tspan x="17" y="222.5">t_empreinte_geom_gist</tspan><tspan x="17" dy="18">em_code_idx</tspan><tspan x="17" dy="18">em_do_ref_idx</tspan></text><text class="y"><tspan x="197" y="222.5">index</tspan><tspan x="197" dy="18">index</tspan><tspan x="197" dy="18">index</tspan></text></g>
</svg>
